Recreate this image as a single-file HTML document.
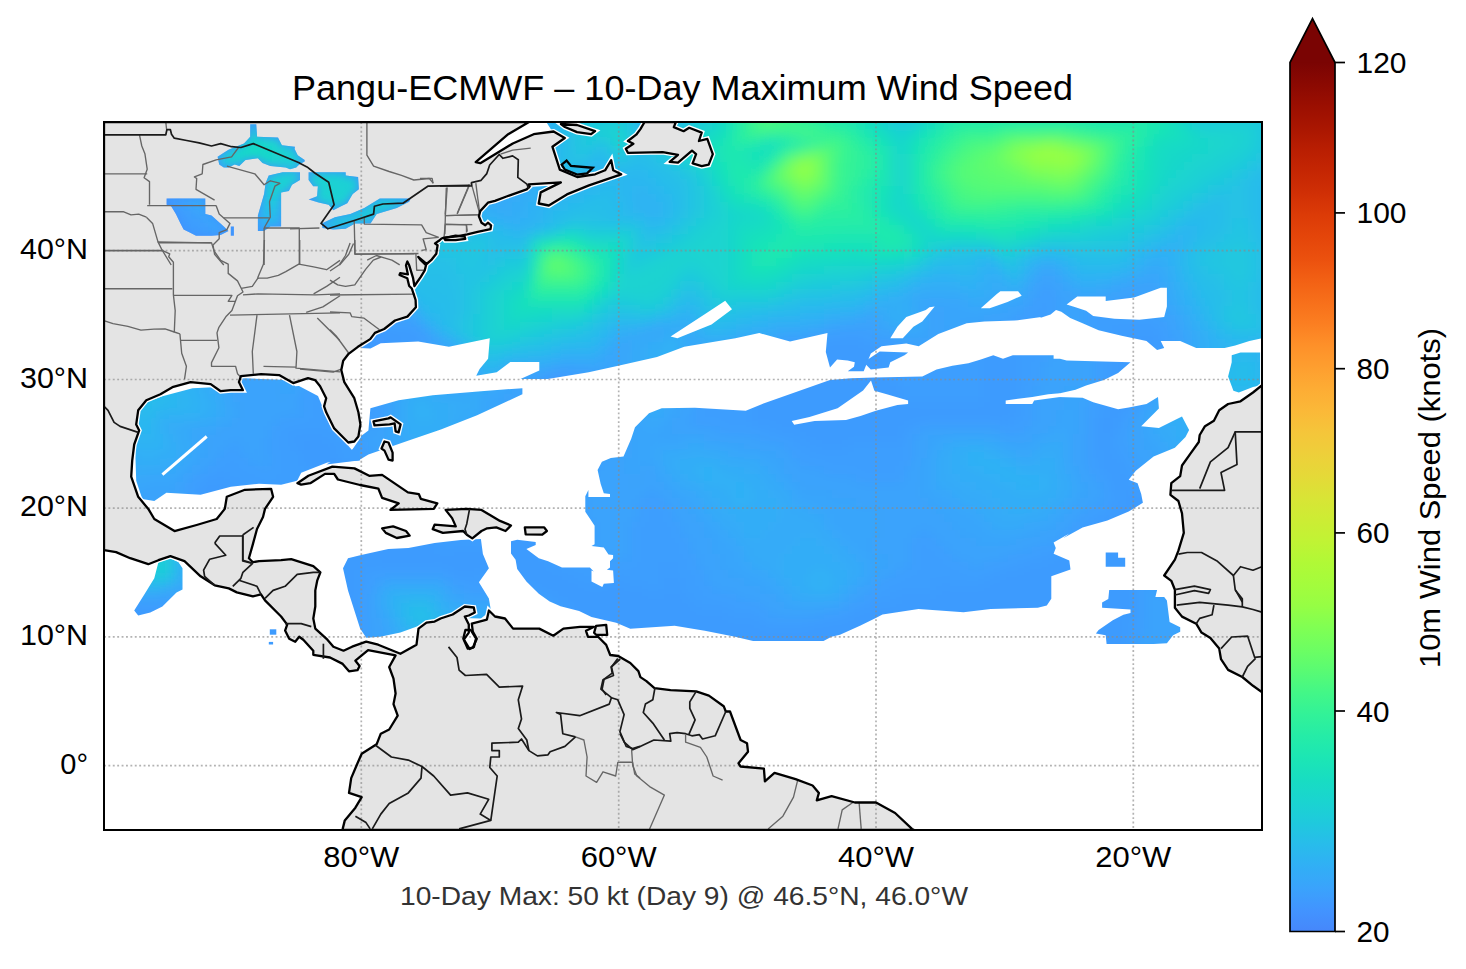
<!DOCTYPE html><html><head><meta charset="utf-8"><style>html,body{margin:0;padding:0;background:#fff;width:1466px;height:969px;overflow:hidden}svg{display:block}</style></head><body><svg width="1466" height="969" viewBox="0 0 1466 969">
<defs>
<clipPath id="ax"><rect x="104" y="122" width="1158" height="708"/></clipPath>
<linearGradient id="cbg" gradientUnits="userSpaceOnUse" x1="0" y1="931.5" x2="0" y2="62.5"><stop offset="0.0000" stop-color="#4687fb"/><stop offset="0.0250" stop-color="#4294ff"/><stop offset="0.0500" stop-color="#3aa3fc"/><stop offset="0.0750" stop-color="#31aff5"/><stop offset="0.1000" stop-color="#28bceb"/><stop offset="0.1250" stop-color="#1fc9dd"/><stop offset="0.1500" stop-color="#1ad4d0"/><stop offset="0.1750" stop-color="#18ddc2"/><stop offset="0.2000" stop-color="#1ce6b4"/><stop offset="0.2250" stop-color="#25eca7"/><stop offset="0.2500" stop-color="#32f298"/><stop offset="0.2750" stop-color="#43f787"/><stop offset="0.3000" stop-color="#59fb73"/><stop offset="0.3250" stop-color="#6dfe62"/><stop offset="0.3500" stop-color="#80ff53"/><stop offset="0.3750" stop-color="#96fe44"/><stop offset="0.4000" stop-color="#a4fc3c"/><stop offset="0.4250" stop-color="#b1f936"/><stop offset="0.4500" stop-color="#c1f334"/><stop offset="0.4750" stop-color="#cdec34"/><stop offset="0.5000" stop-color="#d9e436"/><stop offset="0.5250" stop-color="#e5d938"/><stop offset="0.5500" stop-color="#eecf3a"/><stop offset="0.5750" stop-color="#f5c53a"/><stop offset="0.6000" stop-color="#fbb838"/><stop offset="0.6250" stop-color="#fdac34"/><stop offset="0.6500" stop-color="#fe9e2f"/><stop offset="0.6750" stop-color="#fe9029"/><stop offset="0.7000" stop-color="#fb7e21"/><stop offset="0.7250" stop-color="#f76f1a"/><stop offset="0.7500" stop-color="#f26014"/><stop offset="0.7750" stop-color="#eb500e"/><stop offset="0.8000" stop-color="#e4450a"/><stop offset="0.8250" stop-color="#dc3b07"/><stop offset="0.8500" stop-color="#d02f05"/><stop offset="0.8750" stop-color="#c52603"/><stop offset="0.9000" stop-color="#b91e02"/><stop offset="0.9250" stop-color="#a91601"/><stop offset="0.9500" stop-color="#9b0f01"/><stop offset="0.9750" stop-color="#8b0902"/><stop offset="1.0000" stop-color="#7a0403"/></linearGradient>
<mask id="wm" maskUnits="userSpaceOnUse" x="104" y="122" width="1158" height="708">
<path fill="#fff" d="M360.0 348.0 L300.0 300.0 L300.0 122.0 L1262.0 122.0 L1262.0 338.3 L1249.4 341.0 L1235.2 345.4 L1224.6 348.1 L1196.2 348.1 L1180.2 341.0 L1160.7 341.0 L1164.2 348.1 L1157.1 349.9 L1146.5 341.0 L1121.6 335.7 L1098.6 330.3 L1082.6 323.2 L1070.2 317.9 L1061.3 311.7 L1056.0 309.9 L1050.6 314.4 L1040.0 317.9 L1041.2 317.0 L1014.6 320.6 L984.4 321.5 L966.7 323.2 L938.3 333.9 L918.7 346.3 L906.3 343.6 L881.5 346.3 L870.8 353.4 L863.7 371.2 L847.7 371.2 L854.0 366.7 L854.8 362.3 L847.7 360.5 L837.1 359.6 L830.0 367.6 L825.8 351.9 L827.5 333.1 L790.0 341.6 L759.3 333.1 L735.4 338.2 L684.2 346.7 L657.0 357.0 L619.4 365.5 L588.7 372.3 L547.8 379.1 L520.5 379.1 L539.3 370.6 L539.3 362.1 L510.3 362.1 L496.7 372.3 L476.2 375.7 L479.6 368.9 L488.1 358.7 L489.8 338.2 L448.9 346.7 L418.2 341.6 L380.7 343.3 L370.5 348.4 Z"/>
<path fill="#fff" d="M134.2 418.4 L140.2 404.3 L162.4 396.2 L192.6 388.2 L232.8 386.2 L240.9 378.1 L289.2 380.1 L295.2 386.2 L299.0 386.0 L318.0 396.0 L330.0 425.0 L352.0 450.0 L360.0 438.5 L360.0 460.6 L327.4 462.6 L301.2 472.7 L297.2 480.7 L281.1 484.8 L259.0 483.8 L230.8 486.8 L200.6 494.8 L166.4 492.8 L154.3 500.9 L142.3 498.9 L136.2 480.7 Z"/>
<path fill="#fff" d="M352.0 450.0 L358.0 444.0 L360.4 436.5 L368.4 430.4 L370.4 408.3 L398.6 400.2 L432.8 395.2 L481.1 391.2 L522.4 388.2 L522.4 394.2 L477.1 415.3 L440.9 429.4 L408.7 440.5 L368.4 454.6 L358.4 460.6 L326.2 464.6 Z"/>
<path fill="#fff" d="M348.0 558.2 L360.1 555.2 L388.3 549.1 L408.4 548.1 L434.6 543.1 L460.7 540.1 L480.9 539.1 L482.9 554.1 L488.9 568.2 L478.9 582.3 L488.9 598.4 L490.9 610.5 L480.9 618.5 L440.6 617.5 L422.5 624.6 L400.4 632.6 L380.2 636.7 L366.2 637.7 L360.1 628.6 L348.0 590.4 L343.0 568.2 Z"/>
<path fill="#fff" d="M511.0 541.2 L517.2 539.7 L535.7 542.0 L535.7 545.1 L526.4 548.9 L538.8 558.2 L548.1 561.3 L562.0 567.5 L589.9 567.5 L593.8 571.4 L591.5 570.6 L591.5 581.5 L602.3 586.9 L603.8 583.8 L613.9 583.0 L613.1 570.6 L606.9 569.8 L610.0 567.5 L610.0 561.3 L613.1 558.2 L613.1 555.1 L608.5 554.4 L603.8 547.4 L591.5 545.9 L594.6 544.3 L594.6 525.7 L591.5 521.1 L585.3 511.8 L585.3 496.3 L588.4 490.1 L588.4 497.1 L610.0 497.1 L610.0 494.0 L603.8 493.2 L600.7 483.9 L597.6 470.0 L601.9 461.7 L610.8 457.9 L623.5 456.6 L631.2 438.8 L635.0 427.3 L649.0 413.3 L661.7 408.2 L694.9 407.7 L745.8 410.8 L761.1 404.4 L830.0 380.0 L851.3 378.3 L874.4 377.4 L922.3 376.5 L936.5 369.4 L952.4 365.8 L968.4 363.2 L980.8 359.6 L993.3 355.2 L1003.0 358.7 L1012.8 355.2 L1053.6 355.2 L1053.6 358.7 L1060.0 358.7 L1066.6 360.5 L1130.5 362.3 L1118.1 372.9 L1103.9 380.0 L1086.1 385.4 L1075.5 389.8 L1060.0 393.3 L1057.7 396.9 L1082.6 397.8 L1093.2 402.2 L1105.7 405.8 L1118.1 409.3 L1128.7 407.5 L1146.5 404.0 L1158.0 396.9 L1158.9 408.4 L1141.2 426.2 L1158.9 427.9 L1174.9 420.0 L1182.0 416.4 L1189.1 430.0 L1185.5 437.1 L1174.9 447.7 L1153.6 456.6 L1135.8 470.8 L1128.7 479.7 L1137.6 483.2 L1141.2 493.9 L1142.9 502.8 L1128.7 511.6 L1107.4 520.5 L1082.6 527.6 L1063.1 538.3 L1069.3 533.5 L1053.6 542.5 L1055.8 548.1 L1053.6 553.8 L1069.3 560.5 L1070.5 569.5 L1051.3 576.3 L1051.3 598.8 L1046.8 605.5 L1037.8 607.8 L990.6 608.9 L963.5 612.3 L918.5 608.9 L882.5 614.5 L875.8 617.9 L860.0 625.8 L840.0 634.8 L831.5 636.8 L823.5 640.9 L753.1 640.9 L735.0 636.8 L704.8 630.8 L674.6 625.8 L630.3 628.8 L616.2 622.8 L591.5 617.1 L579.1 610.9 L560.5 606.2 L549.7 601.6 L538.8 593.8 L526.4 581.5 L517.2 569.1 L515.6 559.8 L511.0 553.6 Z"/>
<path fill="#fff" d="M158.4 562.2 L170.4 558.2 L178.5 562.2 L182.5 568.2 L182.5 589.4 L176.5 592.4 L162.4 606.5 L150.3 612.5 L138.2 615.5 L134.2 610.5 L144.3 594.4 L154.3 578.3 Z"/>
<path fill="#fff" d="M1231.7 355.2 L1240.5 352.5 L1260.1 352.5 L1260.1 385.4 L1253.0 387.1 L1238.8 392.5 L1233.4 390.7 L1228.1 376.5 L1231.7 362.3 Z"/>
<path fill="#fff" d="M1109.2 590.0 L1157.1 590.0 L1155.4 597.1 L1164.2 597.1 L1166.9 600.6 L1169.6 621.9 L1180.2 627.3 L1180.2 631.7 L1173.1 635.3 L1166.9 643.2 L1153.6 644.1 L1106.6 644.1 L1105.7 635.3 L1095.9 633.5 L1098.6 629.9 L1112.8 620.2 L1123.4 614.8 L1130.5 613.1 L1130.5 609.5 L1114.5 608.6 L1102.1 607.7 L1102.1 602.4 L1108.3 598.9 Z"/>
<path fill="#fff" d="M1105.7 552.5 L1118.1 552.5 L1118.1 557.8 L1125.2 557.8 L1125.2 566.7 L1105.7 566.7 Z"/>
<path fill="#fff" d="M863.7 362.3 L879.7 351.6 L908.1 352.5 L904.5 355.2 L890.3 362.3 L888.6 367.6 L870.8 369.4 Z"/>
<path fill="#fff" d="M114.9 262.3 L117.6 262.3 L117.6 264.5 L114.9 264.5 Z"/>
<path fill="#fff" d="M269.8 629.3 L276.3 629.3 L276.3 634.7 L269.8 634.7 Z"/>
<path fill="#fff" d="M268.8 641.9 L273.1 641.9 L273.1 644.5 L268.8 644.5 Z"/>
<path fill="#fff" d="M104.6 272.5 L108.9 272.5 L108.9 284.6 L104.6 284.6 Z"/>
<path fill="#000" d="M890.3 338.3 L897.4 326.8 L906.3 317.0 L925.8 309.9 L929.4 307.3 L934.7 306.4 L922.3 321.5 L913.4 326.8 L902.8 338.3 Z"/>
<path fill="#000" d="M980.8 308.2 L996.8 294.0 L1000.4 291.3 L1018.1 291.3 L1021.7 295.7 L1007.5 301.9 L989.7 308.2 Z"/>
<path fill="#000" d="M1066.6 304.6 L1077.3 296.6 L1105.7 296.6 L1105.7 301.1 L1134.1 297.5 L1160.7 287.7 L1166.9 287.7 L1166.9 306.4 L1164.2 317.0 L1139.4 319.7 L1114.5 318.8 L1093.2 316.1 L1086.1 310.8 L1075.5 307.3 Z"/>
<path fill="#000" d="M670.6 336.5 L704.7 314.3 L725.2 300.7 L732.0 309.2 L711.5 324.6 L677.4 338.2 Z"/>
<path fill="#000" d="M791.7 421.0 L809.5 417.1 L837.6 408.2 L863.1 390.4 L871.0 380.5 L874.4 390.7 L886.8 394.2 L908.1 400.4 L908.1 404.0 L897.4 404.9 L875.8 410.8 L860.5 415.9 L846.0 420.0 L814.6 421.0 L794.2 424.8 Z"/>
<path fill="#000" d="M1005.7 400.4 L1032.3 396.9 L1048.3 394.2 L1060.0 393.3 L1060.0 396.9 L1034.1 400.4 L1032.3 404.0 L1005.7 404.0 Z"/>
<path fill="none" stroke="#000" stroke-width="5" d="M104.0 122.0 L529.0 122.0 L508.2 134.2 L475.7 162.1 L480.3 163.2 L512.8 143.5 L533.7 134.2 L553.6 131.5 L564.8 138.0 L552.4 146.7 L559.8 169.6 L577.2 177.0 L595.1 174.3 L605.1 170.3 L611.2 160.2 L613.2 170.3 L621.2 174.3 L589.0 185.4 L566.9 194.4 L548.8 205.5 L538.7 203.5 L540.7 192.4 L560.9 182.4 L528.7 184.4 L529.7 186.4 L526.7 189.4 L506.5 196.5 L506.5 196.5 L495.0 200.8 L487.9 202.7 L480.2 211.1 L478.9 216.3 L481.5 222.7 L485.3 225.3 L487.9 222.7 L491.1 225.3 L490.5 229.2 L477.6 231.8 L467.3 234.4 L456.9 236.3 L444.0 237.6 L441.5 238.5 L438.9 240.8 L435.0 243.4 L437.6 245.3 L436.3 253.7 L431.1 260.2 L426.6 264.0 L418.2 256.9 L420.8 260.2 L426.0 265.3 L424.7 270.5 L420.8 276.9 L414.4 286.0 L413.1 278.2 L409.2 265.3 L407.3 261.5 L406.0 265.3 L407.9 274.4 L400.2 273.1 L399.5 275.0 L407.3 278.2 L409.2 286.0 L411.8 288.5 L414.4 296.3 L415.6 300.0 L415.9 307.3 L407.4 316.6 L395.0 320.5 L384.2 329.0 L374.9 332.9 L370.2 339.1 L357.9 346.8 L348.6 353.8 L343.2 360.7 L341.3 370.1 L344.3 382.1 L354.3 398.2 L358.4 412.3 L360.4 424.4 L358.4 436.5 L354.3 441.5 L348.3 442.5 L343.3 437.5 L334.2 428.4 L326.2 412.3 L324.1 406.3 L326.2 398.2 L320.1 386.2 L315.1 380.1 L308.0 378.1 L293.2 383.1 L279.1 375.1 L261.0 374.1 L240.9 376.1 L238.9 382.1 L242.9 390.2 L230.8 390.2 L220.7 391.2 L210.7 384.1 L190.6 382.1 L172.4 387.2 L160.4 394.2 L146.3 400.2 L138.2 410.3 L136.2 424.4 L139.2 430.4 L134.2 444.5 L132.2 460.6 L131.2 476.7 L138.2 496.8 L148.3 508.9 L154.3 519.0 L174.5 531.1 L196.6 525.0 L216.7 519.0 L224.8 508.9 L226.8 496.8 L244.9 489.8 L271.1 488.8 L273.1 496.8 L265.0 508.9 L263.0 517.0 L257.0 529.0 L252.9 544.1 L248.9 558.2 L252.9 562.2 L259.0 561.2 L281.1 560.2 L291.2 559.2 L313.3 566.2 L320.4 572.3 L317.3 580.3 L315.3 590.4 L315.3 606.5 L313.3 618.5 L315.3 628.6 L327.4 639.7 L333.4 646.7 L343.5 650.7 L352.1 646.7 L366.2 641.7 L378.2 644.7 L400.4 653.8 L416.5 644.7 L418.5 628.6 L426.5 622.6 L434.6 621.6 L440.6 618.5 L452.7 614.5 L464.8 606.5 L473.8 607.5 L474.8 612.5 L468.8 615.5 L464.8 616.5 L468.8 624.6 L468.8 632.6 L463.8 639.7 L467.8 648.7 L472.8 647.7 L476.8 638.7 L472.8 631.6 L471.8 623.6 L486.9 619.6 L488.9 610.5 L495.0 616.5 L505.0 618.5 L513.1 628.6 L539.2 628.6 L553.3 635.7 L563.4 628.6 L580.0 626.8 L594.1 626.8 L586.0 630.8 L588.0 636.8 L598.1 636.8 L606.2 644.9 L610.2 655.0 L618.2 656.0 L630.3 663.0 L638.4 671.1 L640.4 677.1 L646.4 681.1 L654.5 688.2 L670.6 690.2 L696.2 691.4 L708.9 695.6 L723.7 706.2 L725.8 711.5 L730.0 711.5 L740.6 740.0 L747.0 743.2 L748.0 751.7 L738.5 763.3 L740.6 766.5 L763.9 768.6 L764.9 781.3 L774.5 772.8 L795.6 779.2 L812.6 785.5 L818.9 792.9 L816.8 800.3 L831.6 796.1 L854.9 802.5 L876.0 802.5 L895.1 813.0 L912.0 828.9 L914.1 830.0 L914.1 830.0 L342.7 830.0 L342.7 828.9 L344.8 820.4 L355.4 807.7 L361.7 797.2 L349.0 792.9 L351.2 778.1 L357.5 763.3 L361.7 753.8 L376.6 744.3 L380.8 733.7 L389.2 729.5 L397.7 715.7 L393.5 704.1 L395.6 693.5 L393.5 678.7 L389.2 667.0 L395.6 655.4 L368.1 650.1 L355.4 660.7 L359.6 666.0 L357.5 670.2 L349.0 671.3 L342.7 663.9 L330.0 657.5 L313.3 654.8 L313.3 650.7 L303.3 639.7 L299.2 636.7 L295.2 641.7 L289.2 638.7 L285.1 630.6 L287.2 624.6 L281.1 616.5 L265.0 600.4 L261.0 594.4 L252.9 596.4 L236.8 592.4 L228.8 588.4 L214.7 585.3 L200.6 576.3 L184.5 561.2 L170.4 556.2 L158.4 560.2 L148.3 564.2 L130.2 558.2 L116.1 552.1 L104.0 550.1 L104.0 550.1 Z"/>
<path fill="none" stroke="#000" stroke-width="5" d="M1261.8 385.4 L1253.0 392.5 L1240.5 401.3 L1228.1 404.0 L1219.2 410.2 L1213.9 420.8 L1205.0 426.2 L1199.7 435.0 L1198.8 442.0 L1190.8 453.1 L1182.0 465.5 L1180.2 476.1 L1171.3 483.2 L1170.4 494.8 L1178.4 501.0 L1182.0 513.4 L1183.8 532.9 L1178.4 550.7 L1174.9 559.6 L1164.2 575.5 L1171.3 580.8 L1174.9 589.7 L1174.9 602.0 L1174.9 607.7 L1182.0 616.6 L1196.2 623.7 L1201.5 632.6 L1210.4 637.9 L1219.2 648.6 L1221.0 659.2 L1228.1 669.9 L1242.3 677.0 L1253.0 685.8 L1261.8 692.0 L1262.0 692.0 L1262.0 385.4 Z"/>
<path fill="none" stroke="#000" stroke-width="5" d="M644.6 122.0 L640.4 129.1 L636.2 134.7 L627.9 141.0 L633.4 143.8 L625.8 148.7 L627.9 152.8 L662.7 152.1 L678.0 154.9 L669.7 161.9 L678.0 162.6 L692.0 150.7 L696.1 154.2 L692.6 163.3 L701.7 166.1 L708.7 164.7 L712.8 154.2 L707.3 138.9 L698.9 141.0 L701.7 132.6 L689.2 127.8 L683.6 131.2 L673.8 127.1 L675.9 122.0 Z"/>
<path fill="none" stroke="#000" stroke-width="5" d="M444.0 238.2 L455.6 235.6 L464.7 236.7 L465.3 238.9 L455.6 240.2 L445.3 240.2 Z"/>
<path fill="none" stroke="#000" stroke-width="5" d="M560.9 124.0 L577.0 125.0 L595.1 131.1 L591.1 134.1 L577.0 132.1 L564.9 127.0 Z"/>
<path fill="none" stroke="#000" stroke-width="5" d="M297.4 483.2 L308.4 475.8 L332.4 466.6 L354.5 468.4 L369.2 475.8 L382.1 474.9 L407.9 492.4 L418.9 494.2 L420.8 498.8 L437.3 503.4 L433.7 508.9 L390.4 509.9 L398.7 503.4 L382.1 497.9 L378.4 488.7 L360.0 485.0 L337.9 479.5 L334.2 473.9 L325.0 473.9 L310.3 483.2 L301.1 484.6 Z"/>
<path fill="none" stroke="#000" stroke-width="5" d="M382.1 528.3 L393.1 526.4 L406.0 531.0 L409.7 535.6 L396.8 538.0 L385.8 532.9 Z"/>
<path fill="none" stroke="#000" stroke-width="5" d="M445.6 509.9 L466.8 508.9 L481.5 509.9 L490.8 515.4 L500.0 520.9 L511.0 525.5 L505.5 531.0 L496.3 527.4 L487.1 528.3 L481.5 531.0 L472.3 538.4 L466.8 534.7 L463.1 531.0 L442.9 532.9 L432.7 529.2 L434.6 524.6 L455.8 526.4 L452.1 518.1 Z"/>
<path fill="none" stroke="#000" stroke-width="5" d="M524.8 527.4 L544.2 527.4 L546.9 531.0 L542.3 534.7 L525.7 534.4 Z"/>
<path fill="none" stroke="#000" stroke-width="5" d="M373.5 421.4 L388.5 418.4 L390.6 417.4 L400.6 424.4 L398.6 432.4 L395.6 431.4 L394.6 423.4 L389.6 424.4 L374.5 425.4 Z"/>
<path fill="none" stroke="#000" stroke-width="5" d="M384.5 441.5 L388.5 442.5 L392.6 452.6 L392.6 460.6 L388.5 459.6 L384.5 450.6 L381.5 448.5 Z"/>
<path fill="none" stroke="#000" stroke-width="5" d="M596.1 625.8 L606.2 624.8 L607.2 634.8 L596.1 634.8 L594.1 632.8 Z"/>
<path fill="#000" d="M396 250 L418 250 L424 262 L414 288 L409 292 L396 292 Z"/>
<path fill="#000" d="M474 164 L508 134 L530 120 L545 120 L552 131 L533 134 L512 144 L481 164 Z"/>
<path fill="none" stroke="#000" stroke-width="3" d="M162.4 474.7 L206.7 436.5"/>
</mask>
<mask id="lm" maskUnits="userSpaceOnUse" x="104" y="122" width="1158" height="708">
<g filter="url(#lb)">
<path fill="#fff" d="M217.6 156.8 L228.5 149.8 L244.0 143.6 L250.2 136.7 L250.2 124.3 L256.3 124.3 L257.1 136.7 L278.0 137.4 L281.9 145.2 L295.0 146.7 L294.6 149.1 L297.7 155.2 L304.7 159.9 L304.7 161.4 L299.3 164.5 L296.2 167.6 L290.0 169.2 L285.8 167.6 L270.3 166.1 L262.5 163.0 L257.9 158.3 L245.5 159.9 L239.3 166.1 L234.7 164.5 L228.5 167.6 L223.8 167.6 L219.2 164.5 Z"/>
<path fill="#fff" d="M268.7 175.4 L282.7 172.3 L300.0 172.3 L300.0 180.0 L292.0 184.7 L288.9 190.9 L281.1 192.4 L281.1 226.5 L270.3 226.5 L264.1 231.1 L257.9 231.1 L257.9 215.6 L261.0 204.8 L264.1 193.9 L265.6 183.1 Z"/>
<path fill="#fff" d="M166.6 198.6 L205.3 198.6 L205.3 214.1 L211.5 215.6 L223.8 226.5 L228.5 231.1 L220.7 235.0 L211.5 235.7 L196.0 235.7 L189.8 232.6 L183.6 229.6 L180.5 223.4 L175.9 214.1 L171.2 206.3 L166.6 204.8 Z"/>
<path fill="#fff" d="M230.8 226.5 L233.9 226.5 L233.9 235.7 L230.8 235.7 Z"/>
<path fill="#fff" d="M308.6 172.3 L345.7 172.3 L345.7 175.4 L358.1 176.9 L358.9 189.3 L352.7 193.9 L347.3 203.2 L341.1 206.3 L333.3 210.2 L328.7 204.8 L318.6 202.5 L308.6 199.4 L317.1 196.3 L317.9 186.2 L313.2 186.2 L308.6 180.0 Z"/>
<path fill="#fff" d="M322.5 228.0 L333.3 229.6 L345.7 228.8 L355.0 223.4 L370.5 223.4 L376.7 214.1 L396.8 207.9 L409.2 201.7 L410.7 198.6 L379.8 198.6 L364.3 207.9 L350.4 214.1 L334.9 217.2 L321.7 223.4 Z"/>
</g>
</mask>
<filter id="bl" x="-50%" y="-50%" width="200%" height="200%"><feGaussianBlur stdDeviation="22"/></filter>
<clipPath id="lc"><path d="M217.6 156.8 L228.5 149.8 L244.0 143.6 L250.2 136.7 L250.2 124.3 L256.3 124.3 L257.1 136.7 L278.0 137.4 L281.9 145.2 L295.0 146.7 L294.6 149.1 L297.7 155.2 L304.7 159.9 L304.7 161.4 L299.3 164.5 L296.2 167.6 L290.0 169.2 L285.8 167.6 L270.3 166.1 L262.5 163.0 L257.9 158.3 L245.5 159.9 L239.3 166.1 L234.7 164.5 L228.5 167.6 L223.8 167.6 L219.2 164.5 Z"/><path d="M268.7 175.4 L282.7 172.3 L300.0 172.3 L300.0 180.0 L292.0 184.7 L288.9 190.9 L281.1 192.4 L281.1 226.5 L270.3 226.5 L264.1 231.1 L257.9 231.1 L257.9 215.6 L261.0 204.8 L264.1 193.9 L265.6 183.1 Z"/><path d="M166.6 198.6 L205.3 198.6 L205.3 214.1 L211.5 215.6 L223.8 226.5 L228.5 231.1 L220.7 235.0 L211.5 235.7 L196.0 235.7 L189.8 232.6 L183.6 229.6 L180.5 223.4 L175.9 214.1 L171.2 206.3 L166.6 204.8 Z"/><path d="M230.8 226.5 L233.9 226.5 L233.9 235.7 L230.8 235.7 Z"/><path d="M308.6 172.3 L345.7 172.3 L345.7 175.4 L358.1 176.9 L358.9 189.3 L352.7 193.9 L347.3 203.2 L341.1 206.3 L333.3 210.2 L328.7 204.8 L318.6 202.5 L308.6 199.4 L317.1 196.3 L317.9 186.2 L313.2 186.2 L308.6 180.0 Z"/><path d="M322.5 228.0 L333.3 229.6 L345.7 228.8 L355.0 223.4 L370.5 223.4 L376.7 214.1 L396.8 207.9 L409.2 201.7 L410.7 198.6 L379.8 198.6 L364.3 207.9 L350.4 214.1 L334.9 217.2 L321.7 223.4 Z"/></clipPath>
<filter id="lb" x="-50%" y="-50%" width="200%" height="200%"><feGaussianBlur stdDeviation="4"/></filter>
<filter id="bl2" x="-50%" y="-50%" width="200%" height="200%"><feGaussianBlur stdDeviation="7"/></filter>
</defs>
<rect width="1466" height="969" fill="#fff"/>
<text x="292" y="99.7" font-family="Liberation Sans" font-size="35.5" textLength="781" lengthAdjust="spacingAndGlyphs" fill="#000">Pangu-ECMWF – 10-Day Maximum Wind Speed</text>
<g clip-path="url(#ax)">
<g mask="url(#wm)">
<g id="fld" filter="url(#bl2)">
<path fill="#3e9bfe" d="M64 82h96v8h-96zM64 90h104v8h-104zM64 98h104v8h-104zM64 106h104v8h-104zM64 114h104v8h-104zM64 122h104v8h-104zM64 130h104v8h-104zM64 138h104v8h-104zM64 146h104v8h-104zM64 154h104v8h-104zM64 162h104v8h-104zM64 170h104v8h-104zM64 178h104v8h-104zM64 186h104v8h-104zM64 194h104v8h-104zM64 202h112v8h-112zM64 210h120v8h-120zM64 218h136v8h-136zM64 226h120v8h-120zM192 226h8v8h-8zM64 234h104v8h-104zM192 234h8v8h-8zM64 242h96v8h-96zM192 242h16v8h-16zM64 250h80v8h-80zM200 250h8v8h-8zM64 258h64v8h-64zM200 258h8v8h-8zM64 266h48v8h-48zM64 274h32v8h-32zM64 282h16v8h-16zM1016 322h8v8h-8zM368 330h56v8h-56zM1008 330h8v8h-8zM1112 330h48v8h-48zM360 338h16v8h-16zM392 338h24v8h-24zM808 338h56v8h-56zM992 338h24v8h-24zM1112 338h48v8h-48zM352 346h16v8h-16zM384 346h16v8h-16zM776 346h104v8h-104zM984 346h32v8h-32zM1112 346h48v8h-48zM344 354h24v8h-24zM376 354h8v8h-8zM768 354h120v8h-120zM984 354h32v8h-32zM1112 354h48v8h-48zM336 362h48v8h-48zM456 362h8v8h-8zM760 362h128v8h-128zM984 362h32v8h-32zM1112 362h40v8h-40zM328 370h56v8h-56zM560 370h16v8h-16zM760 370h136v8h-136zM984 370h32v8h-32zM1112 370h40v8h-40zM336 378h48v8h-48zM544 378h8v8h-8zM568 378h16v8h-16zM752 378h144v8h-144zM984 378h32v8h-32zM1104 378h40v8h-40zM336 386h48v8h-48zM544 386h8v8h-8zM568 386h16v8h-16zM752 386h152v8h-152zM984 386h32v8h-32zM1104 386h32v8h-32zM344 394h8v8h-8zM536 394h16v8h-16zM568 394h24v8h-24zM752 394h152v8h-152zM984 394h32v8h-32zM1104 394h32v8h-32zM536 402h16v8h-16zM560 402h32v8h-32zM752 402h264v8h-264zM1104 402h24v8h-24zM536 410h16v8h-16zM560 410h24v8h-24zM752 410h264v8h-264zM1104 410h24v8h-24zM536 418h8v8h-8zM560 418h24v8h-24zM752 418h256v8h-256zM1096 418h24v8h-24zM536 426h8v8h-8zM552 426h32v8h-32zM776 426h128v8h-128zM1096 426h24v8h-24zM288 434h40v8h-40zM536 434h8v8h-8zM552 434h24v8h-24zM800 434h104v8h-104zM1096 434h16v8h-16zM296 442h40v8h-40zM528 442h16v8h-16zM552 442h24v8h-24zM816 442h32v8h-32zM1096 442h8v8h-8zM304 450h32v8h-32zM528 450h48v8h-48zM1096 450h16v8h-16zM304 458h40v8h-40zM528 458h40v8h-40zM1104 458h16v8h-16zM312 466h32v8h-32zM528 466h40v8h-40zM1104 466h16v8h-16zM208 474h16v8h-16zM312 474h32v8h-32zM528 474h40v8h-40zM1112 474h16v8h-16zM1288 474h16v8h-16zM200 482h40v8h-40zM312 482h40v8h-40zM528 482h32v8h-32zM1112 482h16v8h-16zM1208 482h96v8h-96zM200 490h56v8h-56zM320 490h32v8h-32zM528 490h32v8h-32zM1120 490h184v8h-184zM200 498h80v8h-80zM320 498h32v8h-32zM520 498h32v8h-32zM1120 498h184v8h-184zM216 506h80v8h-80zM328 506h32v8h-32zM520 506h32v8h-32zM1112 506h192v8h-192zM232 514h80v8h-80zM328 514h32v8h-32zM520 514h32v8h-32zM1104 514h200v8h-200zM256 522h64v8h-64zM328 522h32v8h-32zM520 522h24v8h-24zM1088 522h216v8h-216zM272 530h128v8h-128zM512 530h32v8h-32zM1080 530h56v8h-56zM1160 530h144v8h-144zM288 538h152v8h-152zM496 538h48v8h-48zM1072 538h64v8h-64zM1200 538h104v8h-104zM312 546h128v8h-128zM448 546h96v8h-96zM1064 546h72v8h-72zM1240 546h64v8h-64zM64 554h8v8h-8zM328 554h216v8h-216zM1048 554h88v8h-88zM1280 554h24v8h-24zM64 562h16v8h-16zM336 562h32v8h-32zM376 562h176v8h-176zM664 562h8v8h-8zM1024 562h112v8h-112zM1288 562h16v8h-16zM64 570h32v8h-32zM336 570h24v8h-24zM448 570h32v8h-32zM512 570h56v8h-56zM664 570h8v8h-8zM1000 570h136v8h-136zM1288 570h16v8h-16zM64 578h40v8h-40zM336 578h24v8h-24zM520 578h64v8h-64zM608 578h16v8h-16zM664 578h16v8h-16zM936 578h8v8h-8zM984 578h152v8h-152zM1288 578h16v8h-16zM64 586h56v8h-56zM336 586h24v8h-24zM536 586h112v8h-112zM664 586h16v8h-16zM936 586h200v8h-200zM1288 586h16v8h-16zM64 594h64v8h-64zM336 594h24v8h-24zM552 594h136v8h-136zM896 594h240v8h-240zM1288 594h16v8h-16zM64 602h96v8h-96zM328 602h32v8h-32zM568 602h128v8h-128zM864 602h272v8h-272zM1288 602h16v8h-16zM64 610h168v8h-168zM328 610h32v8h-32zM568 610h160v8h-160zM848 610h288v8h-288zM1288 610h16v8h-16zM64 618h248v8h-248zM328 618h32v8h-32zM568 618h192v8h-192zM808 618h320v8h-320zM1288 618h16v8h-16zM64 626h296v8h-296zM568 626h560v8h-560zM1288 626h16v8h-16zM64 634h296v8h-296zM560 634h568v8h-568zM1288 634h16v8h-16zM64 642h288v8h-288zM560 642h568v8h-568zM1288 642h16v8h-16zM64 650h288v8h-288zM560 650h560v8h-560zM1288 650h16v8h-16zM64 658h288v8h-288zM560 658h560v8h-560zM1288 658h16v8h-16zM64 666h288v8h-288zM560 666h560v8h-560zM1288 666h16v8h-16zM64 674h288v8h-288zM552 674h568v8h-568zM1288 674h16v8h-16zM64 682h288v8h-288zM552 682h560v8h-560zM1288 682h16v8h-16zM64 690h288v8h-288zM552 690h560v8h-560zM1288 690h16v8h-16zM64 698h288v8h-288zM552 698h560v8h-560zM1288 698h16v8h-16zM64 706h288v8h-288zM552 706h560v8h-560zM1288 706h16v8h-16zM64 714h288v8h-288zM544 714h568v8h-568zM1288 714h16v8h-16zM64 722h288v8h-288zM544 722h560v8h-560zM1288 722h16v8h-16zM64 730h288v8h-288zM544 730h560v8h-560zM1288 730h16v8h-16zM64 738h288v8h-288zM544 738h560v8h-560zM1280 738h24v8h-24zM64 746h288v8h-288zM544 746h560v8h-560zM1272 746h32v8h-32zM64 754h288v8h-288zM536 754h560v8h-560zM1264 754h40v8h-40zM64 762h288v8h-288zM536 762h560v8h-560zM1248 762h56v8h-56zM64 770h288v8h-288zM536 770h560v8h-560zM1240 770h64v8h-64zM64 778h288v8h-288zM536 778h560v8h-560zM1232 778h72v8h-72zM64 786h288v8h-288zM536 786h552v8h-552zM1224 786h80v8h-80zM64 794h288v8h-288zM528 794h560v8h-560zM1208 794h96v8h-96zM64 802h288v8h-288zM528 802h560v8h-560zM1200 802h104v8h-104zM64 810h288v8h-288zM528 810h560v8h-560zM1192 810h112v8h-112zM64 818h288v8h-288zM528 818h560v8h-560zM1184 818h120v8h-120zM64 826h288v8h-288zM528 826h776v8h-776zM64 834h288v8h-288zM520 834h784v8h-784zM64 842h288v8h-288zM520 842h784v8h-784zM64 850h288v8h-288zM520 850h784v8h-784zM64 858h280v8h-280zM520 858h784v8h-784zM64 866h392v8h-392zM520 866h784v8h-784z"/>
<path fill="#3d9efe" d="M160 82h8v8h-8zM456 82h72v8h-72zM464 90h64v8h-64zM464 98h56v8h-56zM472 106h48v8h-48zM472 114h40v8h-40zM168 146h8v8h-8zM168 154h8v8h-8zM168 162h8v8h-8zM168 170h8v8h-8zM168 178h8v8h-8zM168 186h8v8h-8zM168 194h8v8h-8zM176 202h8v8h-8zM184 210h8v8h-8zM200 218h8v8h-8zM184 226h8v8h-8zM200 226h8v8h-8zM168 234h24v8h-24zM200 234h16v8h-16zM160 242h32v8h-32zM208 242h8v8h-8zM144 250h24v8h-24zM184 250h16v8h-16zM208 250h16v8h-16zM128 258h24v8h-24zM192 258h8v8h-8zM208 258h16v8h-16zM112 266h32v8h-32zM192 266h32v8h-32zM96 274h32v8h-32zM200 274h32v8h-32zM80 282h32v8h-32zM200 282h32v8h-32zM1040 282h8v8h-8zM64 290h32v8h-32zM200 290h32v8h-32zM1040 290h16v8h-16zM64 298h16v8h-16zM208 298h32v8h-32zM1032 298h24v8h-24zM1120 298h24v8h-24zM208 306h32v8h-32zM1024 306h32v8h-32zM1088 306h64v8h-64zM216 314h24v8h-24zM376 314h8v8h-8zM1016 314h40v8h-40zM1088 314h72v8h-72zM216 322h32v8h-32zM368 322h56v8h-56zM1000 322h16v8h-16zM1024 322h32v8h-32zM1088 322h80v8h-80zM224 330h24v8h-24zM360 330h8v8h-8zM424 330h8v8h-8zM824 330h48v8h-48zM976 330h32v8h-32zM1016 330h40v8h-40zM1096 330h16v8h-16zM1160 330h8v8h-8zM224 338h24v8h-24zM352 338h8v8h-8zM416 338h16v8h-16zM784 338h24v8h-24zM864 338h40v8h-40zM960 338h32v8h-32zM1016 338h32v8h-32zM1096 338h16v8h-16zM1160 338h16v8h-16zM224 346h32v8h-32zM344 346h8v8h-8zM400 346h24v8h-24zM736 346h40v8h-40zM880 346h40v8h-40zM952 346h32v8h-32zM1016 346h32v8h-32zM1096 346h16v8h-16zM1160 346h16v8h-16zM232 354h24v8h-24zM336 354h8v8h-8zM384 354h24v8h-24zM448 354h8v8h-8zM720 354h48v8h-48zM888 354h32v8h-32zM952 354h32v8h-32zM1016 354h32v8h-32zM1096 354h16v8h-16zM1160 354h8v8h-8zM232 362h16v8h-16zM328 362h8v8h-8zM384 362h8v8h-8zM448 362h8v8h-8zM712 362h48v8h-48zM888 362h96v8h-96zM1016 362h24v8h-24zM1096 362h16v8h-16zM1152 362h8v8h-8zM320 370h8v8h-8zM384 370h8v8h-8zM448 370h16v8h-16zM512 370h16v8h-16zM544 370h16v8h-16zM576 370h16v8h-16zM712 370h48v8h-48zM896 370h88v8h-88zM1016 370h24v8h-24zM1096 370h16v8h-16zM1152 370h8v8h-8zM312 378h24v8h-24zM384 378h8v8h-8zM528 378h16v8h-16zM584 378h16v8h-16zM704 378h48v8h-48zM896 378h88v8h-88zM1016 378h24v8h-24zM1096 378h8v8h-8zM1144 378h8v8h-8zM304 386h32v8h-32zM384 386h8v8h-8zM528 386h16v8h-16zM584 386h16v8h-16zM696 386h56v8h-56zM904 386h80v8h-80zM1016 386h16v8h-16zM1096 386h8v8h-8zM1136 386h16v8h-16zM296 394h48v8h-48zM352 394h32v8h-32zM528 394h8v8h-8zM592 394h16v8h-16zM696 394h56v8h-56zM904 394h80v8h-80zM1016 394h16v8h-16zM1096 394h8v8h-8zM1136 394h8v8h-8zM304 402h80v8h-80zM528 402h8v8h-8zM592 402h16v8h-16zM696 402h56v8h-56zM1016 402h16v8h-16zM1088 402h16v8h-16zM1128 402h16v8h-16zM304 410h80v8h-80zM528 410h8v8h-8zM584 410h24v8h-24zM696 410h56v8h-56zM1016 410h16v8h-16zM1088 410h16v8h-16zM1128 410h8v8h-8zM280 418h104v8h-104zM528 418h8v8h-8zM584 418h32v8h-32zM688 418h64v8h-64zM1008 418h24v8h-24zM1088 418h8v8h-8zM1120 418h8v8h-8zM272 426h80v8h-80zM520 426h16v8h-16zM584 426h24v8h-24zM720 426h56v8h-56zM904 426h16v8h-16zM1000 426h24v8h-24zM1088 426h8v8h-8zM1120 426h8v8h-8zM272 434h16v8h-16zM328 434h32v8h-32zM520 434h16v8h-16zM576 434h32v8h-32zM760 434h40v8h-40zM904 434h8v8h-8zM1088 434h8v8h-8zM1112 434h8v8h-8zM232 442h8v8h-8zM264 442h32v8h-32zM336 442h32v8h-32zM520 442h8v8h-8zM576 442h32v8h-32zM784 442h32v8h-32zM848 442h64v8h-64zM1088 442h8v8h-8zM1104 442h24v8h-24zM224 450h16v8h-16zM272 450h32v8h-32zM336 450h32v8h-32zM512 450h16v8h-16zM576 450h24v8h-24zM792 450h120v8h-120zM1088 450h8v8h-8zM1112 450h16v8h-16zM216 458h32v8h-32zM272 458h32v8h-32zM344 458h32v8h-32zM512 458h16v8h-16zM568 458h32v8h-32zM800 458h112v8h-112zM1088 458h16v8h-16zM1120 458h16v8h-16zM208 466h56v8h-56zM272 466h40v8h-40zM344 466h32v8h-32zM512 466h16v8h-16zM568 466h24v8h-24zM824 466h80v8h-80zM1088 466h16v8h-16zM1120 466h24v8h-24zM1256 466h48v8h-48zM64 474h16v8h-16zM192 474h16v8h-16zM224 474h88v8h-88zM344 474h56v8h-56zM504 474h24v8h-24zM568 474h24v8h-24zM856 474h48v8h-48zM1096 474h16v8h-16zM1128 474h16v8h-16zM1176 474h112v8h-112zM64 482h16v8h-16zM184 482h16v8h-16zM240 482h72v8h-72zM352 482h56v8h-56zM504 482h24v8h-24zM560 482h32v8h-32zM1104 482h8v8h-8zM1128 482h80v8h-80zM64 490h16v8h-16zM184 490h16v8h-16zM256 490h64v8h-64zM352 490h64v8h-64zM504 490h24v8h-24zM560 490h24v8h-24zM648 490h8v8h-8zM1104 490h16v8h-16zM64 498h16v8h-16zM192 498h8v8h-8zM280 498h40v8h-40zM352 498h72v8h-72zM488 498h32v8h-32zM552 498h32v8h-32zM640 498h24v8h-24zM1104 498h16v8h-16zM64 506h16v8h-16zM192 506h24v8h-24zM296 506h32v8h-32zM360 506h64v8h-64zM456 506h64v8h-64zM552 506h32v8h-32zM640 506h32v8h-32zM1088 506h24v8h-24zM64 514h56v8h-56zM192 514h40v8h-40zM312 514h16v8h-16zM360 514h72v8h-72zM448 514h72v8h-72zM552 514h32v8h-32zM640 514h32v8h-32zM1080 514h24v8h-24zM64 522h32v8h-32zM200 522h56v8h-56zM320 522h8v8h-8zM360 522h80v8h-80zM448 522h72v8h-72zM544 522h48v8h-48zM632 522h48v8h-48zM1072 522h16v8h-16zM64 530h8v8h-8zM216 530h56v8h-56zM400 530h112v8h-112zM544 530h48v8h-48zM632 530h48v8h-48zM920 530h8v8h-8zM1064 530h16v8h-16zM1136 530h24v8h-24zM232 538h56v8h-56zM440 538h56v8h-56zM544 538h48v8h-48zM632 538h56v8h-56zM912 538h24v8h-24zM1056 538h16v8h-16zM1136 538h64v8h-64zM256 546h56v8h-56zM440 546h8v8h-8zM544 546h48v8h-48zM632 546h56v8h-56zM912 546h32v8h-32zM1032 546h32v8h-32zM1136 546h104v8h-104zM72 554h8v8h-8zM272 554h56v8h-56zM544 554h64v8h-64zM632 554h64v8h-64zM912 554h40v8h-40zM1008 554h40v8h-40zM1136 554h144v8h-144zM80 562h8v8h-8zM288 562h48v8h-48zM368 562h8v8h-8zM552 562h112v8h-112zM672 562h24v8h-24zM912 562h56v8h-56zM984 562h40v8h-40zM1136 562h152v8h-152zM96 570h8v8h-8zM288 570h48v8h-48zM360 570h88v8h-88zM480 570h32v8h-32zM568 570h96v8h-96zM672 570h32v8h-32zM896 570h104v8h-104zM1136 570h152v8h-152zM104 578h8v8h-8zM288 578h48v8h-48zM360 578h16v8h-16zM448 578h72v8h-72zM584 578h24v8h-24zM624 578h40v8h-40zM680 578h24v8h-24zM880 578h56v8h-56zM944 578h40v8h-40zM1136 578h152v8h-152zM120 586h8v8h-8zM288 586h48v8h-48zM360 586h16v8h-16zM464 586h72v8h-72zM648 586h16v8h-16zM680 586h32v8h-32zM872 586h64v8h-64zM1136 586h8v8h-8zM1160 586h128v8h-128zM128 594h8v8h-8zM152 594h8v8h-8zM288 594h48v8h-48zM360 594h8v8h-8zM496 594h56v8h-56zM688 594h48v8h-48zM864 594h32v8h-32zM1136 594h8v8h-8zM1192 594h96v8h-96zM160 602h80v8h-80zM288 602h40v8h-40zM360 602h8v8h-8zM552 602h16v8h-16zM696 602h64v8h-64zM848 602h16v8h-16zM1136 602h8v8h-8zM1192 602h96v8h-96zM232 610h96v8h-96zM360 610h8v8h-8zM552 610h16v8h-16zM728 610h40v8h-40zM824 610h24v8h-24zM1136 610h8v8h-8zM1192 610h96v8h-96zM312 618h16v8h-16zM360 618h8v8h-8zM552 618h16v8h-16zM760 618h48v8h-48zM1128 618h16v8h-16zM1192 618h96v8h-96zM360 626h8v8h-8zM552 626h16v8h-16zM1128 626h16v8h-16zM1192 626h96v8h-96zM360 634h8v8h-8zM544 634h16v8h-16zM1128 634h8v8h-8zM1192 634h96v8h-96zM352 642h16v8h-16zM544 642h16v8h-16zM1128 642h8v8h-8zM1192 642h96v8h-96zM352 650h16v8h-16zM544 650h16v8h-16zM1120 650h16v8h-16zM1192 650h96v8h-96zM352 658h16v8h-16zM544 658h16v8h-16zM1120 658h16v8h-16zM1184 658h104v8h-104zM352 666h16v8h-16zM544 666h16v8h-16zM1120 666h8v8h-8zM1176 666h112v8h-112zM352 674h16v8h-16zM536 674h16v8h-16zM1120 674h8v8h-8zM1168 674h120v8h-120zM352 682h16v8h-16zM536 682h16v8h-16zM1112 682h16v8h-16zM1160 682h128v8h-128zM352 690h16v8h-16zM536 690h16v8h-16zM1112 690h176v8h-176zM352 698h16v8h-16zM536 698h16v8h-16zM1112 698h176v8h-176zM352 706h16v8h-16zM536 706h16v8h-16zM1112 706h176v8h-176zM352 714h16v8h-16zM528 714h16v8h-16zM1112 714h176v8h-176zM352 722h16v8h-16zM528 722h16v8h-16zM1104 722h184v8h-184zM352 730h16v8h-16zM528 730h16v8h-16zM1104 730h184v8h-184zM352 738h16v8h-16zM528 738h16v8h-16zM1104 738h176v8h-176zM352 746h16v8h-16zM528 746h16v8h-16zM1104 746h168v8h-168zM352 754h16v8h-16zM520 754h16v8h-16zM1096 754h168v8h-168zM352 762h8v8h-8zM520 762h16v8h-16zM1096 762h152v8h-152zM352 770h8v8h-8zM520 770h16v8h-16zM1096 770h144v8h-144zM352 778h8v8h-8zM520 778h16v8h-16zM1096 778h136v8h-136zM352 786h8v8h-8zM520 786h16v8h-16zM1088 786h136v8h-136zM352 794h8v8h-8zM512 794h16v8h-16zM1088 794h120v8h-120zM352 802h88v8h-88zM512 802h16v8h-16zM1088 802h112v8h-112zM352 810h88v8h-88zM512 810h16v8h-16zM1088 810h104v8h-104zM352 818h96v8h-96zM512 818h16v8h-16zM1088 818h96v8h-96zM352 826h96v8h-96zM512 826h16v8h-16zM352 834h96v8h-96zM504 834h16v8h-16zM352 842h104v8h-104zM504 842h16v8h-16zM352 850h168v8h-168zM344 858h176v8h-176zM456 866h64v8h-64z"/>
<path fill="#38a5fb" d="M168 82h8v8h-8zM384 82h64v8h-64zM528 82h8v8h-8zM640 82h48v8h-48zM1296 82h8v8h-8zM448 90h8v8h-8zM528 90h8v8h-8zM1296 90h8v8h-8zM448 98h8v8h-8zM528 98h8v8h-8zM456 106h8v8h-8zM528 106h8v8h-8zM456 114h8v8h-8zM528 114h8v8h-8zM464 122h8v8h-8zM528 122h8v8h-8zM464 130h8v8h-8zM520 130h16v8h-16zM472 138h8v8h-8zM512 138h16v8h-16zM176 146h8v8h-8zM472 146h8v8h-8zM512 146h16v8h-16zM176 154h8v8h-8zM480 154h40v8h-40zM176 162h8v8h-8zM480 162h40v8h-40zM176 170h8v8h-8zM488 170h24v8h-24zM176 178h8v8h-8zM488 178h24v8h-24zM176 186h8v8h-8zM496 186h8v8h-8zM184 194h8v8h-8zM192 202h8v8h-8zM200 210h8v8h-8zM224 218h8v8h-8zM224 226h16v8h-16zM224 234h16v8h-16zM232 242h8v8h-8zM232 250h16v8h-16zM232 258h16v8h-16zM168 266h16v8h-16zM240 266h8v8h-8zM1048 266h8v8h-8zM1152 266h8v8h-8zM152 274h32v8h-32zM240 274h16v8h-16zM1032 274h8v8h-8zM1056 274h8v8h-8zM1136 274h24v8h-24zM144 282h24v8h-24zM176 282h16v8h-16zM240 282h16v8h-16zM1024 282h8v8h-8zM1064 282h8v8h-8zM1112 282h8v8h-8zM1160 282h8v8h-8zM128 290h24v8h-24zM184 290h8v8h-8zM248 290h8v8h-8zM1080 290h16v8h-16zM1160 290h8v8h-8zM112 298h32v8h-32zM184 298h8v8h-8zM248 298h16v8h-16zM368 298h40v8h-40zM912 298h56v8h-56zM992 298h32v8h-32zM96 306h32v8h-32zM184 306h16v8h-16zM248 306h16v8h-16zM360 306h8v8h-8zM408 306h8v8h-8zM920 306h8v8h-8zM944 306h64v8h-64zM1168 306h8v8h-8zM80 314h32v8h-32zM192 314h8v8h-8zM256 314h8v8h-8zM352 314h8v8h-8zM856 314h8v8h-8zM920 314h8v8h-8zM944 314h40v8h-40zM1176 314h8v8h-8zM64 322h32v8h-32zM192 322h16v8h-16zM256 322h16v8h-16zM344 322h8v8h-8zM664 322h8v8h-8zM824 322h16v8h-16zM880 322h8v8h-8zM920 322h8v8h-8zM944 322h16v8h-16zM1176 322h8v8h-8zM64 330h16v8h-16zM200 330h8v8h-8zM264 330h8v8h-8zM336 330h8v8h-8zM632 330h32v8h-32zM776 330h32v8h-32zM896 330h32v8h-32zM1184 330h8v8h-8zM64 338h16v8h-16zM200 338h8v8h-8zM264 338h8v8h-8zM328 338h8v8h-8zM440 338h8v8h-8zM616 338h16v8h-16zM688 338h8v8h-8zM736 338h24v8h-24zM1184 338h8v8h-8zM64 346h16v8h-16zM200 346h16v8h-16zM264 346h16v8h-16zM320 346h8v8h-8zM608 346h24v8h-24zM688 346h24v8h-24zM1184 346h8v8h-8zM64 354h16v8h-16zM208 354h8v8h-8zM272 354h8v8h-8zM312 354h8v8h-8zM432 354h8v8h-8zM600 354h24v8h-24zM688 354h8v8h-8zM1176 354h8v8h-8zM1296 354h8v8h-8zM64 362h16v8h-16zM208 362h16v8h-16zM272 362h8v8h-8zM304 362h8v8h-8zM416 362h24v8h-24zM552 362h8v8h-8zM568 362h32v8h-32zM608 362h24v8h-24zM688 362h8v8h-8zM1072 362h8v8h-8zM1176 362h8v8h-8zM64 370h16v8h-16zM216 370h8v8h-8zM272 370h16v8h-16zM296 370h16v8h-16zM400 370h24v8h-24zM432 370h8v8h-8zM472 370h8v8h-8zM504 370h8v8h-8zM528 370h8v8h-8zM608 370h24v8h-24zM688 370h8v8h-8zM1072 370h8v8h-8zM1168 370h8v8h-8zM64 378h16v8h-16zM216 378h16v8h-16zM280 378h24v8h-24zM400 378h8v8h-8zM432 378h8v8h-8zM504 378h8v8h-8zM616 378h16v8h-16zM688 378h8v8h-8zM1072 378h8v8h-8zM1160 378h16v8h-16zM64 386h16v8h-16zM224 386h8v8h-8zM280 386h16v8h-16zM400 386h8v8h-8zM440 386h32v8h-32zM488 386h24v8h-24zM616 386h24v8h-24zM680 386h16v8h-16zM1064 386h16v8h-16zM1160 386h8v8h-8zM64 394h16v8h-16zM224 394h8v8h-8zM280 394h8v8h-8zM392 394h8v8h-8zM480 394h24v8h-24zM616 394h24v8h-24zM672 394h16v8h-16zM1064 394h16v8h-16zM1152 394h16v8h-16zM64 402h16v8h-16zM224 402h16v8h-16zM392 402h8v8h-8zM480 402h24v8h-24zM624 402h16v8h-16zM664 402h24v8h-24zM1064 402h16v8h-16zM1152 402h8v8h-8zM64 410h16v8h-16zM232 410h8v8h-8zM392 410h8v8h-8zM480 410h24v8h-24zM624 410h24v8h-24zM664 410h16v8h-16zM1056 410h24v8h-24zM1144 410h8v8h-8zM72 418h16v8h-16zM216 418h16v8h-16zM392 418h8v8h-8zM464 418h40v8h-40zM632 418h16v8h-16zM656 418h16v8h-16zM1056 418h24v8h-24zM1144 418h8v8h-8zM72 426h16v8h-16zM184 426h32v8h-32zM384 426h8v8h-8zM464 426h32v8h-32zM632 426h32v8h-32zM1048 426h32v8h-32zM1136 426h16v8h-16zM72 434h16v8h-16zM192 434h16v8h-16zM384 434h16v8h-16zM456 434h40v8h-40zM632 434h32v8h-32zM672 434h32v8h-32zM928 434h72v8h-72zM1032 434h24v8h-24zM1064 434h8v8h-8zM1144 434h16v8h-16zM72 442h16v8h-16zM192 442h16v8h-16zM392 442h16v8h-16zM448 442h48v8h-48zM632 442h56v8h-56zM704 442h40v8h-40zM928 442h16v8h-16zM1000 442h40v8h-40zM1064 442h8v8h-8zM1144 442h24v8h-24zM1256 442h48v8h-48zM72 450h16v8h-16zM192 450h16v8h-16zM400 450h16v8h-16zM448 450h40v8h-40zM632 450h24v8h-24zM728 450h48v8h-48zM928 450h8v8h-8zM1016 450h16v8h-16zM1064 450h8v8h-8zM1152 450h16v8h-16zM1176 450h120v8h-120zM72 458h32v8h-32zM184 458h16v8h-16zM408 458h16v8h-16zM440 458h32v8h-32zM624 458h40v8h-40zM760 458h24v8h-24zM920 458h16v8h-16zM1064 458h8v8h-8zM1152 458h64v8h-64zM96 466h32v8h-32zM176 466h16v8h-16zM408 466h16v8h-16zM440 466h16v8h-16zM624 466h16v8h-16zM656 466h8v8h-8zM768 466h16v8h-16zM920 466h16v8h-16zM1064 466h16v8h-16zM112 474h24v8h-24zM144 474h40v8h-40zM416 474h40v8h-40zM632 474h8v8h-8zM656 474h16v8h-16zM776 474h16v8h-16zM920 474h16v8h-16zM1072 474h8v8h-8zM112 482h64v8h-64zM424 482h24v8h-24zM632 482h8v8h-8zM664 482h16v8h-16zM784 482h16v8h-16zM920 482h16v8h-16zM1072 482h16v8h-16zM112 490h32v8h-32zM432 490h8v8h-8zM672 490h24v8h-24zM792 490h40v8h-40zM912 490h40v8h-40zM1072 490h16v8h-16zM680 498h24v8h-24zM792 498h64v8h-64zM928 498h32v8h-32zM1064 498h16v8h-16zM152 506h8v8h-8zM168 506h24v8h-24zM688 506h16v8h-16zM808 506h72v8h-72zM936 506h40v8h-40zM1056 506h16v8h-16zM128 514h8v8h-8zM696 514h16v8h-16zM824 514h56v8h-56zM944 514h40v8h-40zM1048 514h16v8h-16zM104 522h16v8h-16zM704 522h16v8h-16zM824 522h56v8h-56zM952 522h40v8h-40zM1024 522h32v8h-32zM88 530h8v8h-8zM184 530h8v8h-8zM704 530h24v8h-24zM832 530h48v8h-48zM960 530h80v8h-80zM64 538h8v8h-8zM184 538h8v8h-8zM712 538h24v8h-24zM840 538h32v8h-32zM976 538h40v8h-40zM64 546h8v8h-8zM184 546h16v8h-16zM712 546h32v8h-32zM848 546h24v8h-24zM984 546h8v8h-8zM80 554h8v8h-8zM184 554h32v8h-32zM720 554h24v8h-24zM856 554h32v8h-32zM184 562h48v8h-48zM720 562h32v8h-32zM864 562h24v8h-24zM192 570h56v8h-56zM728 570h40v8h-40zM864 570h16v8h-16zM120 578h8v8h-8zM200 578h48v8h-48zM384 578h64v8h-64zM744 578h32v8h-32zM856 578h16v8h-16zM128 586h8v8h-8zM160 586h88v8h-88zM376 586h8v8h-8zM760 586h24v8h-24zM848 586h8v8h-8zM144 594h8v8h-8zM448 594h16v8h-16zM776 594h16v8h-16zM840 594h8v8h-8zM376 602h8v8h-8zM464 602h48v8h-48zM784 602h56v8h-56zM376 610h8v8h-8zM520 610h16v8h-16zM384 618h8v8h-8zM520 618h16v8h-16zM384 626h8v8h-8zM512 626h16v8h-16zM384 634h8v8h-8zM512 634h16v8h-16zM384 642h8v8h-8zM512 642h16v8h-16zM384 650h8v8h-8zM512 650h16v8h-16zM384 658h8v8h-8zM512 658h16v8h-16zM384 666h8v8h-8zM504 666h16v8h-16zM376 674h32v8h-32zM504 674h16v8h-16zM376 682h40v8h-40zM504 682h16v8h-16zM376 690h40v8h-40zM504 690h16v8h-16zM376 698h40v8h-40zM504 698h16v8h-16zM376 706h48v8h-48zM496 706h16v8h-16zM376 714h48v8h-48zM496 714h16v8h-16zM376 722h56v8h-56zM496 722h16v8h-16zM376 730h56v8h-56zM496 730h16v8h-16zM424 738h8v8h-8zM496 738h16v8h-16zM424 746h16v8h-16zM488 746h16v8h-16zM432 754h8v8h-8zM488 754h16v8h-16zM432 762h16v8h-16zM488 762h16v8h-16zM440 770h8v8h-8zM488 770h16v8h-16zM440 778h64v8h-64zM440 786h56v8h-56zM448 794h48v8h-48zM448 802h48v8h-48zM456 810h40v8h-40z"/>
<path fill="#35abf8" d="M176 82h48v8h-48zM288 82h96v8h-96zM536 82h8v8h-8zM1288 82h8v8h-8zM176 90h8v8h-8zM384 90h64v8h-64zM536 90h8v8h-8zM640 90h40v8h-40zM176 98h8v8h-8zM400 98h48v8h-48zM536 98h8v8h-8zM1296 98h8v8h-8zM176 106h8v8h-8zM448 106h8v8h-8zM176 114h8v8h-8zM448 114h8v8h-8zM176 122h8v8h-8zM448 122h16v8h-16zM176 130h8v8h-8zM456 130h8v8h-8zM176 138h8v8h-8zM456 138h16v8h-16zM528 138h8v8h-8zM464 146h8v8h-8zM528 146h8v8h-8zM464 154h16v8h-16zM520 154h16v8h-16zM472 162h8v8h-8zM520 162h16v8h-16zM472 170h16v8h-16zM512 170h16v8h-16zM480 178h8v8h-8zM512 178h16v8h-16zM1296 178h8v8h-8zM184 186h8v8h-8zM480 186h16v8h-16zM504 186h16v8h-16zM1296 186h8v8h-8zM192 194h8v8h-8zM488 194h32v8h-32zM1296 194h8v8h-8zM200 202h8v8h-8zM488 202h24v8h-24zM1296 202h8v8h-8zM208 210h8v8h-8zM496 210h16v8h-16zM1296 210h8v8h-8zM232 218h16v8h-16zM1296 218h8v8h-8zM240 226h8v8h-8zM1296 226h8v8h-8zM240 234h8v8h-8zM1296 234h8v8h-8zM240 242h16v8h-16zM248 250h8v8h-8zM248 258h16v8h-16zM1152 258h8v8h-8zM248 266h16v8h-16zM1032 266h8v8h-8zM1056 266h8v8h-8zM1144 266h8v8h-8zM1160 266h8v8h-8zM256 274h8v8h-8zM1064 274h8v8h-8zM1128 274h8v8h-8zM1160 274h8v8h-8zM168 282h8v8h-8zM256 282h16v8h-16zM992 282h16v8h-16zM1072 282h8v8h-8zM1096 282h16v8h-16zM1168 282h8v8h-8zM152 290h32v8h-32zM256 290h16v8h-16zM360 290h40v8h-40zM912 290h56v8h-56zM984 290h40v8h-40zM1168 290h8v8h-8zM1296 290h8v8h-8zM144 298h24v8h-24zM176 298h8v8h-8zM264 298h8v8h-8zM352 298h16v8h-16zM888 298h24v8h-24zM968 298h24v8h-24zM1168 298h8v8h-8zM1296 298h8v8h-8zM128 306h24v8h-24zM176 306h8v8h-8zM264 306h16v8h-16zM344 306h16v8h-16zM872 306h16v8h-16zM912 306h8v8h-8zM1176 306h8v8h-8zM112 314h32v8h-32zM176 314h16v8h-16zM264 314h16v8h-16zM336 314h16v8h-16zM416 314h8v8h-8zM840 314h16v8h-16zM880 314h8v8h-8zM912 314h8v8h-8zM1184 314h8v8h-8zM96 322h32v8h-32zM184 322h8v8h-8zM272 322h8v8h-8zM328 322h16v8h-16zM648 322h16v8h-16zM672 322h16v8h-16zM800 322h24v8h-24zM888 322h32v8h-32zM1184 322h8v8h-8zM80 330h32v8h-32zM184 330h16v8h-16zM272 330h16v8h-16zM320 330h16v8h-16zM432 330h8v8h-8zM664 330h8v8h-8zM680 330h16v8h-16zM752 330h24v8h-24zM1192 330h8v8h-8zM80 338h16v8h-16zM192 338h8v8h-8zM272 338h16v8h-16zM312 338h16v8h-16zM632 338h16v8h-16zM680 338h8v8h-8zM696 338h8v8h-8zM712 338h24v8h-24zM1192 338h8v8h-8zM80 346h8v8h-8zM192 346h8v8h-8zM280 346h8v8h-8zM304 346h16v8h-16zM632 346h16v8h-16zM680 346h8v8h-8zM1192 346h8v8h-8zM1280 346h24v8h-24zM80 354h8v8h-8zM192 354h16v8h-16zM280 354h16v8h-16zM304 354h8v8h-8zM624 354h24v8h-24zM680 354h8v8h-8zM1184 354h16v8h-16zM1288 354h8v8h-8zM80 362h8v8h-8zM200 362h8v8h-8zM280 362h24v8h-24zM512 362h40v8h-40zM632 362h16v8h-16zM680 362h8v8h-8zM1184 362h8v8h-8zM1288 362h16v8h-16zM80 370h8v8h-8zM200 370h16v8h-16zM288 370h8v8h-8zM424 370h8v8h-8zM632 370h24v8h-24zM672 370h16v8h-16zM1176 370h16v8h-16zM1288 370h16v8h-16zM80 378h8v8h-8zM208 378h8v8h-8zM408 378h24v8h-24zM472 378h8v8h-8zM496 378h8v8h-8zM632 378h24v8h-24zM672 378h16v8h-16zM1176 378h8v8h-8zM1288 378h16v8h-16zM80 386h8v8h-8zM208 386h16v8h-16zM408 386h16v8h-16zM432 386h8v8h-8zM472 386h16v8h-16zM640 386h16v8h-16zM664 386h16v8h-16zM1168 386h8v8h-8zM1288 386h16v8h-16zM80 394h8v8h-8zM216 394h8v8h-8zM400 394h8v8h-8zM432 394h48v8h-48zM640 394h32v8h-32zM1168 394h8v8h-8zM1288 394h16v8h-16zM80 402h8v8h-8zM216 402h8v8h-8zM400 402h8v8h-8zM456 402h24v8h-24zM640 402h24v8h-24zM1160 402h8v8h-8zM1288 402h16v8h-16zM80 410h8v8h-8zM216 410h16v8h-16zM400 410h8v8h-8zM448 410h32v8h-32zM648 410h16v8h-16zM1152 410h16v8h-16zM1288 410h16v8h-16zM88 418h8v8h-8zM168 418h16v8h-16zM192 418h24v8h-24zM400 418h8v8h-8zM448 418h16v8h-16zM648 418h8v8h-8zM1152 418h16v8h-16zM1288 418h16v8h-16zM88 426h8v8h-8zM168 426h16v8h-16zM392 426h16v8h-16zM440 426h24v8h-24zM1152 426h24v8h-24zM1288 426h16v8h-16zM88 434h8v8h-8zM168 434h24v8h-24zM400 434h16v8h-16zM432 434h24v8h-24zM1056 434h8v8h-8zM1160 434h16v8h-16zM1216 434h88v8h-88zM88 442h8v8h-8zM176 442h16v8h-16zM408 442h16v8h-16zM432 442h16v8h-16zM688 442h16v8h-16zM944 442h8v8h-8zM984 442h16v8h-16zM1040 442h24v8h-24zM1168 442h88v8h-88zM88 450h16v8h-16zM176 450h16v8h-16zM416 450h32v8h-32zM656 450h72v8h-72zM936 450h16v8h-16zM1000 450h16v8h-16zM1032 450h32v8h-32zM1168 450h8v8h-8zM104 458h32v8h-32zM160 458h24v8h-24zM424 458h16v8h-16zM664 458h8v8h-8zM720 458h40v8h-40zM936 458h16v8h-16zM1016 458h24v8h-24zM1056 458h8v8h-8zM128 466h48v8h-48zM424 466h16v8h-16zM664 466h16v8h-16zM744 466h24v8h-24zM936 466h16v8h-16zM1056 466h8v8h-8zM136 474h8v8h-8zM672 474h16v8h-16zM760 474h16v8h-16zM936 474h24v8h-24zM1056 474h16v8h-16zM680 482h24v8h-24zM760 482h24v8h-24zM936 482h40v8h-40zM1056 482h16v8h-16zM696 490h16v8h-16zM768 490h24v8h-24zM952 490h40v8h-40zM1056 490h16v8h-16zM704 498h16v8h-16zM776 498h16v8h-16zM960 498h40v8h-40zM1048 498h16v8h-16zM160 506h8v8h-8zM704 506h24v8h-24zM784 506h24v8h-24zM976 506h32v8h-32zM1032 506h24v8h-24zM136 514h16v8h-16zM176 514h16v8h-16zM712 514h24v8h-24zM776 514h48v8h-48zM984 514h64v8h-64zM120 522h8v8h-8zM184 522h8v8h-8zM720 522h24v8h-24zM768 522h56v8h-56zM992 522h32v8h-32zM96 530h8v8h-8zM728 530h16v8h-16zM760 530h72v8h-72zM72 538h16v8h-16zM736 538h64v8h-64zM816 538h24v8h-24zM744 546h48v8h-48zM824 546h24v8h-24zM744 554h40v8h-40zM832 554h24v8h-24zM96 562h8v8h-8zM752 562h24v8h-24zM840 562h24v8h-24zM112 570h8v8h-8zM184 570h8v8h-8zM768 570h16v8h-16zM848 570h16v8h-16zM176 578h24v8h-24zM776 578h16v8h-16zM848 578h8v8h-8zM136 586h8v8h-8zM440 586h8v8h-8zM784 586h16v8h-16zM840 586h8v8h-8zM376 594h8v8h-8zM440 594h8v8h-8zM792 594h48v8h-48zM448 602h16v8h-16zM384 610h8v8h-8zM504 610h16v8h-16zM496 618h24v8h-24zM392 626h8v8h-8zM496 626h16v8h-16zM392 634h8v8h-8zM496 634h16v8h-16zM392 642h16v8h-16zM496 642h16v8h-16zM392 650h16v8h-16zM496 650h16v8h-16zM392 658h24v8h-24zM488 658h24v8h-24zM392 666h24v8h-24zM488 666h16v8h-16zM408 674h16v8h-16zM488 674h16v8h-16zM416 682h8v8h-8zM488 682h16v8h-16zM416 690h8v8h-8zM488 690h16v8h-16zM416 698h16v8h-16zM480 698h24v8h-24zM424 706h8v8h-8zM480 706h16v8h-16zM424 714h16v8h-16zM480 714h16v8h-16zM432 722h8v8h-8zM480 722h16v8h-16zM432 730h16v8h-16zM480 730h16v8h-16zM432 738h16v8h-16zM472 738h24v8h-24zM440 746h48v8h-48zM440 754h48v8h-48zM448 762h40v8h-40zM448 770h40v8h-40z"/>
<path fill="#2fb2f4" d="M224 82h56v8h-56zM544 82h88v8h-88zM696 82h8v8h-8zM888 82h40v8h-40zM1184 82h104v8h-104zM280 90h88v8h-88zM544 90h8v8h-8zM632 90h8v8h-8zM1280 90h8v8h-8zM184 98h8v8h-8zM368 98h16v8h-16zM544 98h8v8h-8zM1288 98h8v8h-8zM184 106h8v8h-8zM376 106h16v8h-16zM544 106h8v8h-8zM640 106h32v8h-32zM1288 106h8v8h-8zM184 114h8v8h-8zM392 114h48v8h-48zM544 114h8v8h-8zM640 114h24v8h-24zM1296 114h8v8h-8zM184 122h8v8h-8zM432 122h8v8h-8zM544 122h8v8h-8zM1296 122h8v8h-8zM184 130h8v8h-8zM440 130h8v8h-8zM544 130h8v8h-8zM1296 130h8v8h-8zM184 138h8v8h-8zM440 138h8v8h-8zM1296 138h8v8h-8zM448 146h8v8h-8zM1296 146h8v8h-8zM448 154h8v8h-8zM1296 154h8v8h-8zM456 162h8v8h-8zM1296 162h8v8h-8zM456 170h8v8h-8zM536 170h8v8h-8zM1288 170h8v8h-8zM464 178h8v8h-8zM536 178h8v8h-8zM576 178h8v8h-8zM1280 178h8v8h-8zM192 186h8v8h-8zM464 186h8v8h-8zM536 186h8v8h-8zM560 186h8v8h-8zM1280 186h8v8h-8zM200 194h8v8h-8zM472 194h8v8h-8zM536 194h16v8h-16zM1280 194h8v8h-8zM208 202h8v8h-8zM472 202h8v8h-8zM528 202h16v8h-16zM648 202h8v8h-8zM1280 202h8v8h-8zM232 210h8v8h-8zM480 210h8v8h-8zM528 210h8v8h-8zM648 210h8v8h-8zM1280 210h8v8h-8zM256 218h16v8h-16zM480 218h24v8h-24zM520 218h16v8h-16zM1280 218h8v8h-8zM264 226h8v8h-8zM520 226h8v8h-8zM1280 226h8v8h-8zM264 234h16v8h-16zM1176 234h8v8h-8zM264 242h16v8h-16zM1168 242h8v8h-8zM1288 242h8v8h-8zM272 250h8v8h-8zM1152 250h8v8h-8zM1168 250h8v8h-8zM1288 250h8v8h-8zM272 258h16v8h-16zM984 258h16v8h-16zM1032 258h8v8h-8zM1056 258h8v8h-8zM1168 258h8v8h-8zM1288 258h8v8h-8zM272 266h16v8h-16zM984 266h8v8h-8zM1024 266h8v8h-8zM1064 266h8v8h-8zM1128 266h8v8h-8zM1288 266h8v8h-8zM280 274h8v8h-8zM352 274h40v8h-40zM928 274h24v8h-24zM976 274h8v8h-8zM1072 274h40v8h-40zM1176 274h8v8h-8zM1288 274h8v8h-8zM280 282h16v8h-16zM344 282h16v8h-16zM912 282h8v8h-8zM960 282h16v8h-16zM1016 282h8v8h-8zM1176 282h8v8h-8zM1288 282h8v8h-8zM280 290h16v8h-16zM336 290h16v8h-16zM400 290h8v8h-8zM896 290h8v8h-8zM1184 290h8v8h-8zM1280 290h8v8h-8zM288 298h8v8h-8zM328 298h16v8h-16zM872 298h8v8h-8zM1184 298h8v8h-8zM1280 298h8v8h-8zM288 306h16v8h-16zM320 306h16v8h-16zM848 306h16v8h-16zM896 306h8v8h-8zM1192 306h8v8h-8zM1288 306h8v8h-8zM288 314h16v8h-16zM312 314h16v8h-16zM688 314h8v8h-8zM800 314h24v8h-24zM1192 314h8v8h-8zM1288 314h8v8h-8zM152 322h16v8h-16zM296 322h24v8h-24zM640 322h8v8h-8zM696 322h8v8h-8zM752 322h16v8h-16zM1200 322h8v8h-8zM1288 322h8v8h-8zM136 330h40v8h-40zM296 330h16v8h-16zM440 330h8v8h-8zM608 330h8v8h-8zM720 330h16v8h-16zM1288 330h8v8h-8zM128 338h24v8h-24zM168 338h8v8h-8zM296 338h8v8h-8zM600 338h8v8h-8zM664 338h16v8h-16zM1216 338h8v8h-8zM1280 338h16v8h-16zM112 346h24v8h-24zM168 346h16v8h-16zM592 346h8v8h-8zM664 346h8v8h-8zM1208 346h8v8h-8zM1264 346h8v8h-8zM104 354h24v8h-24zM176 354h8v8h-8zM544 354h16v8h-16zM664 354h8v8h-8zM1208 354h8v8h-8zM1272 354h8v8h-8zM104 362h8v8h-8zM176 362h8v8h-8zM1200 362h16v8h-16zM1272 362h8v8h-8zM104 370h8v8h-8zM176 370h16v8h-16zM1200 370h8v8h-8zM1272 370h8v8h-8zM104 378h8v8h-8zM184 378h8v8h-8zM1192 378h8v8h-8zM1272 378h8v8h-8zM104 386h8v8h-8zM184 386h16v8h-16zM1192 386h8v8h-8zM1272 386h8v8h-8zM104 394h8v8h-8zM192 394h8v8h-8zM1184 394h8v8h-8zM1272 394h8v8h-8zM104 402h8v8h-8zM192 402h16v8h-16zM416 402h8v8h-8zM1176 402h24v8h-24zM1272 402h8v8h-8zM104 410h16v8h-16zM160 410h8v8h-8zM176 410h24v8h-24zM416 410h16v8h-16zM1184 410h16v8h-16zM1216 410h64v8h-64zM112 418h8v8h-8zM1192 418h64v8h-64zM112 426h16v8h-16zM152 426h8v8h-8zM112 434h16v8h-16zM160 434h8v8h-8zM112 442h56v8h-56zM144 450h8v8h-8zM968 450h16v8h-16zM968 458h32v8h-32zM696 466h16v8h-16zM984 466h32v8h-32zM704 474h24v8h-24zM1000 474h32v8h-32zM1040 474h8v8h-8zM728 482h16v8h-16zM1016 482h32v8h-32zM736 490h16v8h-16zM736 498h8v8h-8zM160 514h8v8h-8zM144 522h8v8h-8zM168 522h16v8h-16zM120 530h8v8h-8zM96 538h16v8h-16zM80 546h8v8h-8zM176 554h8v8h-8zM104 562h8v8h-8zM120 570h8v8h-8zM816 570h8v8h-8zM808 578h24v8h-24zM144 586h8v8h-8zM816 586h8v8h-8zM432 594h8v8h-8zM392 610h8v8h-8zM440 610h8v8h-8zM464 618h16v8h-16zM400 626h8v8h-8zM464 626h16v8h-16zM416 634h16v8h-16zM464 634h16v8h-16zM416 642h16v8h-16zM464 642h16v8h-16zM424 650h8v8h-8zM456 650h24v8h-24zM424 658h16v8h-16zM456 658h16v8h-16zM432 666h8v8h-8zM456 666h16v8h-16zM432 674h40v8h-40zM440 682h32v8h-32zM440 690h32v8h-32zM440 698h24v8h-24zM448 706h16v8h-16z"/>
<path fill="#33adf7" d="M280 82h8v8h-8zM632 82h8v8h-8zM688 82h8v8h-8zM184 90h40v8h-40zM368 90h16v8h-16zM680 90h8v8h-8zM1288 90h8v8h-8zM384 98h16v8h-16zM640 98h40v8h-40zM392 106h56v8h-56zM536 106h8v8h-8zM1296 106h8v8h-8zM440 114h8v8h-8zM536 114h8v8h-8zM440 122h8v8h-8zM536 122h8v8h-8zM448 130h8v8h-8zM536 130h8v8h-8zM448 138h8v8h-8zM536 138h8v8h-8zM184 146h8v8h-8zM456 146h8v8h-8zM536 146h8v8h-8zM184 154h8v8h-8zM456 154h8v8h-8zM536 154h8v8h-8zM184 162h8v8h-8zM464 162h8v8h-8zM536 162h8v8h-8zM184 170h8v8h-8zM464 170h8v8h-8zM528 170h8v8h-8zM1296 170h8v8h-8zM184 178h8v8h-8zM472 178h8v8h-8zM528 178h8v8h-8zM1288 178h8v8h-8zM472 186h8v8h-8zM520 186h16v8h-16zM1288 186h8v8h-8zM480 194h8v8h-8zM520 194h16v8h-16zM1288 194h8v8h-8zM480 202h8v8h-8zM512 202h16v8h-16zM1288 202h8v8h-8zM216 210h16v8h-16zM488 210h8v8h-8zM512 210h16v8h-16zM1288 210h8v8h-8zM248 218h8v8h-8zM504 218h16v8h-16zM1288 218h8v8h-8zM248 226h16v8h-16zM1288 226h8v8h-8zM248 234h16v8h-16zM1288 234h8v8h-8zM256 242h8v8h-8zM1296 242h8v8h-8zM256 250h16v8h-16zM1160 250h8v8h-8zM1296 250h8v8h-8zM264 258h8v8h-8zM1040 258h16v8h-16zM1144 258h8v8h-8zM1160 258h8v8h-8zM1296 258h8v8h-8zM264 266h8v8h-8zM992 266h8v8h-8zM1136 266h8v8h-8zM1168 266h8v8h-8zM1296 266h8v8h-8zM264 274h16v8h-16zM984 274h24v8h-24zM1024 274h8v8h-8zM1112 274h16v8h-16zM1168 274h8v8h-8zM1296 274h8v8h-8zM272 282h8v8h-8zM360 282h40v8h-40zM920 282h40v8h-40zM976 282h16v8h-16zM1008 282h8v8h-8zM1080 282h16v8h-16zM1296 282h8v8h-8zM272 290h8v8h-8zM352 290h8v8h-8zM904 290h8v8h-8zM968 290h16v8h-16zM1176 290h8v8h-8zM1288 290h8v8h-8zM168 298h8v8h-8zM272 298h16v8h-16zM344 298h8v8h-8zM880 298h8v8h-8zM1176 298h8v8h-8zM1288 298h8v8h-8zM152 306h24v8h-24zM280 306h8v8h-8zM336 306h8v8h-8zM864 306h8v8h-8zM888 306h8v8h-8zM904 306h8v8h-8zM1184 306h8v8h-8zM1296 306h8v8h-8zM144 314h32v8h-32zM280 314h8v8h-8zM328 314h8v8h-8zM680 314h8v8h-8zM824 314h16v8h-16zM888 314h24v8h-24zM1296 314h8v8h-8zM128 322h24v8h-24zM168 322h16v8h-16zM280 322h16v8h-16zM320 322h8v8h-8zM424 322h8v8h-8zM688 322h8v8h-8zM768 322h32v8h-32zM1192 322h8v8h-8zM1296 322h8v8h-8zM112 330h24v8h-24zM176 330h8v8h-8zM288 330h8v8h-8zM312 330h8v8h-8zM616 330h16v8h-16zM672 330h8v8h-8zM696 330h8v8h-8zM736 330h16v8h-16zM1200 330h8v8h-8zM1296 330h8v8h-8zM96 338h32v8h-32zM176 338h16v8h-16zM288 338h8v8h-8zM304 338h8v8h-8zM448 338h8v8h-8zM608 338h8v8h-8zM648 338h16v8h-16zM704 338h8v8h-8zM1200 338h16v8h-16zM1296 338h8v8h-8zM88 346h24v8h-24zM184 346h8v8h-8zM288 346h16v8h-16zM456 346h8v8h-8zM600 346h8v8h-8zM648 346h16v8h-16zM672 346h8v8h-8zM1200 346h8v8h-8zM1272 346h8v8h-8zM88 354h16v8h-16zM184 354h8v8h-8zM296 354h8v8h-8zM464 354h8v8h-8zM560 354h40v8h-40zM648 354h16v8h-16zM672 354h8v8h-8zM1200 354h8v8h-8zM1280 354h8v8h-8zM88 362h16v8h-16zM184 362h16v8h-16zM472 362h8v8h-8zM504 362h8v8h-8zM648 362h32v8h-32zM1192 362h8v8h-8zM1280 362h8v8h-8zM88 370h16v8h-16zM192 370h8v8h-8zM480 370h8v8h-8zM496 370h8v8h-8zM656 370h16v8h-16zM1192 370h8v8h-8zM1280 370h8v8h-8zM88 378h16v8h-16zM192 378h16v8h-16zM480 378h16v8h-16zM656 378h16v8h-16zM1184 378h8v8h-8zM1280 378h8v8h-8zM88 386h16v8h-16zM200 386h8v8h-8zM424 386h8v8h-8zM656 386h8v8h-8zM1176 386h16v8h-16zM1280 386h8v8h-8zM88 394h16v8h-16zM200 394h16v8h-16zM408 394h24v8h-24zM1176 394h8v8h-8zM1280 394h8v8h-8zM88 402h16v8h-16zM208 402h8v8h-8zM408 402h8v8h-8zM424 402h32v8h-32zM1168 402h8v8h-8zM1280 402h8v8h-8zM88 410h16v8h-16zM200 410h16v8h-16zM408 410h8v8h-8zM432 410h16v8h-16zM1168 410h16v8h-16zM1280 410h8v8h-8zM96 418h16v8h-16zM160 418h8v8h-8zM184 418h8v8h-8zM408 418h40v8h-40zM1168 418h24v8h-24zM1256 418h32v8h-32zM96 426h16v8h-16zM160 426h8v8h-8zM408 426h32v8h-32zM1176 426h112v8h-112zM96 434h16v8h-16zM416 434h16v8h-16zM1176 434h40v8h-40zM96 442h16v8h-16zM168 442h8v8h-8zM424 442h8v8h-8zM952 442h32v8h-32zM104 450h40v8h-40zM152 450h24v8h-24zM952 450h16v8h-16zM984 450h16v8h-16zM136 458h24v8h-24zM672 458h48v8h-48zM952 458h16v8h-16zM1000 458h16v8h-16zM1040 458h16v8h-16zM680 466h16v8h-16zM712 466h32v8h-32zM952 466h32v8h-32zM1016 466h40v8h-40zM688 474h16v8h-16zM728 474h32v8h-32zM960 474h40v8h-40zM1032 474h8v8h-8zM1048 474h8v8h-8zM704 482h24v8h-24zM744 482h16v8h-16zM976 482h40v8h-40zM1048 482h8v8h-8zM712 490h24v8h-24zM752 490h16v8h-16zM992 490h64v8h-64zM720 498h16v8h-16zM744 498h32v8h-32zM1000 498h48v8h-48zM728 506h56v8h-56zM1008 506h24v8h-24zM152 514h8v8h-8zM168 514h8v8h-8zM736 514h40v8h-40zM128 522h16v8h-16zM744 522h24v8h-24zM104 530h16v8h-16zM744 530h16v8h-16zM88 538h8v8h-8zM800 538h16v8h-16zM72 546h8v8h-8zM792 546h32v8h-32zM88 554h8v8h-8zM784 554h48v8h-48zM176 562h8v8h-8zM776 562h64v8h-64zM176 570h8v8h-8zM784 570h32v8h-32zM824 570h24v8h-24zM128 578h8v8h-8zM792 578h16v8h-16zM832 578h16v8h-16zM384 586h56v8h-56zM800 586h16v8h-16zM824 586h16v8h-16zM384 594h8v8h-8zM384 602h8v8h-8zM440 602h8v8h-8zM448 610h56v8h-56zM392 618h8v8h-8zM480 618h16v8h-16zM480 626h16v8h-16zM400 634h16v8h-16zM480 634h16v8h-16zM408 642h8v8h-8zM480 642h16v8h-16zM408 650h16v8h-16zM480 650h16v8h-16zM416 658h8v8h-8zM472 658h16v8h-16zM416 666h16v8h-16zM472 666h16v8h-16zM424 674h8v8h-8zM472 674h16v8h-16zM424 682h16v8h-16zM472 682h16v8h-16zM424 690h16v8h-16zM472 690h16v8h-16zM432 698h8v8h-8zM464 698h16v8h-16zM432 706h16v8h-16zM464 706h16v8h-16zM440 714h40v8h-40zM440 722h40v8h-40zM448 730h32v8h-32zM448 738h24v8h-24z"/>
<path fill="#3aa3fc" d="M448 82h8v8h-8zM168 90h8v8h-8zM456 90h8v8h-8zM168 98h8v8h-8zM456 98h8v8h-8zM520 98h8v8h-8zM168 106h8v8h-8zM464 106h8v8h-8zM520 106h8v8h-8zM168 114h8v8h-8zM464 114h8v8h-8zM512 114h16v8h-16zM168 122h8v8h-8zM472 122h56v8h-56zM168 130h8v8h-8zM472 130h48v8h-48zM168 138h8v8h-8zM480 138h32v8h-32zM480 146h32v8h-32zM176 194h8v8h-8zM184 202h8v8h-8zM192 210h8v8h-8zM208 218h16v8h-16zM208 226h16v8h-16zM216 234h8v8h-8zM216 242h16v8h-16zM168 250h16v8h-16zM224 250h8v8h-8zM152 258h40v8h-40zM224 258h8v8h-8zM144 266h24v8h-24zM184 266h8v8h-8zM224 266h16v8h-16zM1040 266h8v8h-8zM128 274h24v8h-24zM184 274h16v8h-16zM232 274h8v8h-8zM1040 274h16v8h-16zM112 282h32v8h-32zM192 282h8v8h-8zM232 282h8v8h-8zM1032 282h8v8h-8zM1048 282h16v8h-16zM1120 282h40v8h-40zM96 290h32v8h-32zM192 290h8v8h-8zM232 290h16v8h-16zM1024 290h16v8h-16zM1056 290h24v8h-24zM1096 290h64v8h-64zM80 298h32v8h-32zM192 298h16v8h-16zM240 298h8v8h-8zM1024 298h8v8h-8zM1056 298h64v8h-64zM1144 298h24v8h-24zM64 306h32v8h-32zM200 306h8v8h-8zM240 306h8v8h-8zM368 306h40v8h-40zM928 306h16v8h-16zM1008 306h16v8h-16zM1056 306h32v8h-32zM1152 306h16v8h-16zM64 314h16v8h-16zM200 314h16v8h-16zM240 314h16v8h-16zM360 314h16v8h-16zM384 314h32v8h-32zM864 314h16v8h-16zM928 314h16v8h-16zM984 314h32v8h-32zM1056 314h32v8h-32zM1160 314h16v8h-16zM208 322h8v8h-8zM248 322h8v8h-8zM352 322h16v8h-16zM840 322h40v8h-40zM928 322h16v8h-16zM960 322h40v8h-40zM1056 322h32v8h-32zM1168 322h8v8h-8zM208 330h16v8h-16zM248 330h16v8h-16zM344 330h16v8h-16zM808 330h16v8h-16zM872 330h24v8h-24zM928 330h48v8h-48zM1056 330h40v8h-40zM1168 330h16v8h-16zM208 338h16v8h-16zM248 338h16v8h-16zM336 338h16v8h-16zM432 338h8v8h-8zM760 338h24v8h-24zM904 338h56v8h-56zM1048 338h48v8h-48zM1176 338h8v8h-8zM216 346h8v8h-8zM256 346h8v8h-8zM328 346h16v8h-16zM424 346h32v8h-32zM712 346h24v8h-24zM920 346h32v8h-32zM1048 346h48v8h-48zM1176 346h8v8h-8zM216 354h16v8h-16zM256 354h16v8h-16zM320 354h16v8h-16zM408 354h24v8h-24zM440 354h8v8h-8zM456 354h8v8h-8zM696 354h24v8h-24zM920 354h32v8h-32zM1048 354h48v8h-48zM1168 354h8v8h-8zM224 362h8v8h-8zM248 362h24v8h-24zM312 362h16v8h-16zM392 362h24v8h-24zM440 362h8v8h-8zM464 362h8v8h-8zM560 362h8v8h-8zM600 362h8v8h-8zM696 362h16v8h-16zM1040 362h32v8h-32zM1080 362h16v8h-16zM1160 362h16v8h-16zM224 370h48v8h-48zM312 370h8v8h-8zM392 370h8v8h-8zM440 370h8v8h-8zM464 370h8v8h-8zM536 370h8v8h-8zM592 370h16v8h-16zM696 370h16v8h-16zM1040 370h32v8h-32zM1080 370h16v8h-16zM1160 370h8v8h-8zM232 378h48v8h-48zM304 378h8v8h-8zM392 378h8v8h-8zM440 378h32v8h-32zM512 378h16v8h-16zM600 378h16v8h-16zM696 378h8v8h-8zM1040 378h32v8h-32zM1080 378h16v8h-16zM1152 378h8v8h-8zM232 386h48v8h-48zM296 386h8v8h-8zM392 386h8v8h-8zM512 386h16v8h-16zM600 386h16v8h-16zM1032 386h32v8h-32zM1080 386h16v8h-16zM1152 386h8v8h-8zM232 394h48v8h-48zM288 394h8v8h-8zM384 394h8v8h-8zM504 394h24v8h-24zM608 394h8v8h-8zM688 394h8v8h-8zM1032 394h32v8h-32zM1080 394h16v8h-16zM1144 394h8v8h-8zM240 402h64v8h-64zM384 402h8v8h-8zM504 402h24v8h-24zM608 402h16v8h-16zM688 402h8v8h-8zM1032 402h32v8h-32zM1080 402h8v8h-8zM1144 402h8v8h-8zM240 410h64v8h-64zM384 410h8v8h-8zM504 410h24v8h-24zM608 410h16v8h-16zM680 410h16v8h-16zM1032 410h24v8h-24zM1080 410h8v8h-8zM1136 410h8v8h-8zM64 418h8v8h-8zM232 418h48v8h-48zM384 418h8v8h-8zM504 418h24v8h-24zM616 418h16v8h-16zM672 418h16v8h-16zM1032 418h24v8h-24zM1080 418h8v8h-8zM1128 418h16v8h-16zM64 426h8v8h-8zM216 426h56v8h-56zM352 426h32v8h-32zM496 426h24v8h-24zM608 426h24v8h-24zM664 426h56v8h-56zM920 426h80v8h-80zM1024 426h24v8h-24zM1080 426h8v8h-8zM1128 426h8v8h-8zM64 434h8v8h-8zM208 434h64v8h-64zM360 434h24v8h-24zM496 434h24v8h-24zM608 434h24v8h-24zM664 434h8v8h-8zM704 434h56v8h-56zM912 434h16v8h-16zM1000 434h32v8h-32zM1072 434h16v8h-16zM1120 434h24v8h-24zM64 442h8v8h-8zM208 442h24v8h-24zM240 442h24v8h-24zM368 442h24v8h-24zM496 442h24v8h-24zM608 442h24v8h-24zM744 442h40v8h-40zM912 442h16v8h-16zM1072 442h16v8h-16zM1128 442h16v8h-16zM64 450h8v8h-8zM208 450h16v8h-16zM240 450h32v8h-32zM368 450h32v8h-32zM488 450h24v8h-24zM600 450h32v8h-32zM776 450h16v8h-16zM912 450h16v8h-16zM1072 450h16v8h-16zM1128 450h24v8h-24zM1296 450h8v8h-8zM64 458h8v8h-8zM200 458h16v8h-16zM248 458h24v8h-24zM376 458h32v8h-32zM472 458h40v8h-40zM600 458h24v8h-24zM784 458h16v8h-16zM912 458h8v8h-8zM1072 458h16v8h-16zM1136 458h16v8h-16zM1216 458h88v8h-88zM64 466h32v8h-32zM192 466h16v8h-16zM264 466h8v8h-8zM376 466h32v8h-32zM456 466h56v8h-56zM592 466h32v8h-32zM640 466h16v8h-16zM784 466h40v8h-40zM904 466h16v8h-16zM1080 466h8v8h-8zM1144 466h112v8h-112zM80 474h32v8h-32zM184 474h8v8h-8zM400 474h16v8h-16zM456 474h48v8h-48zM592 474h40v8h-40zM640 474h16v8h-16zM792 474h64v8h-64zM904 474h16v8h-16zM1080 474h16v8h-16zM1144 474h32v8h-32zM80 482h32v8h-32zM176 482h8v8h-8zM408 482h16v8h-16zM448 482h56v8h-56zM592 482h40v8h-40zM640 482h24v8h-24zM800 482h120v8h-120zM1088 482h16v8h-16zM80 490h32v8h-32zM144 490h40v8h-40zM416 490h16v8h-16zM440 490h64v8h-64zM584 490h64v8h-64zM656 490h16v8h-16zM832 490h80v8h-80zM1088 490h16v8h-16zM80 498h112v8h-112zM424 498h64v8h-64zM584 498h56v8h-56zM664 498h16v8h-16zM856 498h72v8h-72zM1080 498h24v8h-24zM80 506h72v8h-72zM424 506h32v8h-32zM584 506h56v8h-56zM672 506h16v8h-16zM880 506h56v8h-56zM1072 506h16v8h-16zM120 514h8v8h-8zM432 514h16v8h-16zM584 514h56v8h-56zM672 514h24v8h-24zM880 514h64v8h-64zM1064 514h16v8h-16zM96 522h8v8h-8zM192 522h8v8h-8zM440 522h8v8h-8zM592 522h40v8h-40zM680 522h24v8h-24zM880 522h72v8h-72zM1056 522h16v8h-16zM72 530h16v8h-16zM192 530h24v8h-24zM592 530h40v8h-40zM680 530h24v8h-24zM880 530h40v8h-40zM928 530h32v8h-32zM1040 530h24v8h-24zM192 538h40v8h-40zM592 538h40v8h-40zM688 538h24v8h-24zM872 538h40v8h-40zM936 538h40v8h-40zM1016 538h40v8h-40zM200 546h56v8h-56zM592 546h40v8h-40zM688 546h24v8h-24zM872 546h40v8h-40zM944 546h40v8h-40zM992 546h40v8h-40zM216 554h56v8h-56zM608 554h24v8h-24zM696 554h24v8h-24zM888 554h24v8h-24zM952 554h56v8h-56zM88 562h8v8h-8zM232 562h56v8h-56zM696 562h24v8h-24zM888 562h24v8h-24zM968 562h16v8h-16zM104 570h8v8h-8zM248 570h40v8h-40zM704 570h24v8h-24zM880 570h16v8h-16zM112 578h8v8h-8zM248 578h40v8h-40zM376 578h8v8h-8zM704 578h40v8h-40zM872 578h8v8h-8zM248 586h40v8h-40zM448 586h16v8h-16zM712 586h48v8h-48zM856 586h16v8h-16zM1144 586h16v8h-16zM136 594h8v8h-8zM160 594h128v8h-128zM368 594h8v8h-8zM464 594h32v8h-32zM736 594h40v8h-40zM848 594h16v8h-16zM1144 594h48v8h-48zM240 602h48v8h-48zM368 602h8v8h-8zM512 602h40v8h-40zM760 602h24v8h-24zM840 602h8v8h-8zM1144 602h48v8h-48zM368 610h8v8h-8zM536 610h16v8h-16zM768 610h56v8h-56zM1144 610h48v8h-48zM368 618h16v8h-16zM536 618h16v8h-16zM1144 618h48v8h-48zM368 626h16v8h-16zM528 626h24v8h-24zM1144 626h48v8h-48zM368 634h16v8h-16zM528 634h16v8h-16zM1136 634h56v8h-56zM368 642h16v8h-16zM528 642h16v8h-16zM1136 642h56v8h-56zM368 650h16v8h-16zM528 650h16v8h-16zM1136 650h56v8h-56zM368 658h16v8h-16zM528 658h16v8h-16zM1136 658h48v8h-48zM368 666h16v8h-16zM520 666h24v8h-24zM1128 666h48v8h-48zM368 674h8v8h-8zM520 674h16v8h-16zM1128 674h40v8h-40zM368 682h8v8h-8zM520 682h16v8h-16zM1128 682h32v8h-32zM368 690h8v8h-8zM520 690h16v8h-16zM368 698h8v8h-8zM520 698h16v8h-16zM368 706h8v8h-8zM512 706h24v8h-24zM368 714h8v8h-8zM512 714h16v8h-16zM368 722h8v8h-8zM512 722h16v8h-16zM368 730h8v8h-8zM512 730h16v8h-16zM368 738h56v8h-56zM512 738h16v8h-16zM368 746h56v8h-56zM504 746h24v8h-24zM368 754h64v8h-64zM504 754h16v8h-16zM360 762h72v8h-72zM504 762h16v8h-16zM360 770h80v8h-80zM504 770h16v8h-16zM360 778h80v8h-80zM504 778h16v8h-16zM360 786h80v8h-80zM496 786h24v8h-24zM360 794h88v8h-88zM496 794h16v8h-16zM440 802h8v8h-8zM496 802h16v8h-16zM440 810h16v8h-16zM496 810h16v8h-16zM448 818h64v8h-64zM448 826h64v8h-64zM448 834h56v8h-56zM456 842h48v8h-48z"/>
<path fill="#2cb7f0" d="M704 82h8v8h-8zM928 82h8v8h-8zM1176 82h8v8h-8zM232 90h40v8h-40zM560 90h72v8h-72zM696 90h8v8h-8zM888 90h40v8h-40zM1192 90h88v8h-88zM224 98h8v8h-8zM280 98h8v8h-8zM552 98h8v8h-8zM192 106h32v8h-32zM288 106h72v8h-72zM552 106h8v8h-8zM632 106h8v8h-8zM1280 106h8v8h-8zM192 114h8v8h-8zM360 114h16v8h-16zM552 114h8v8h-8zM664 114h8v8h-8zM192 122h8v8h-8zM376 122h16v8h-16zM552 122h8v8h-8zM656 122h8v8h-8zM1288 122h8v8h-8zM192 130h8v8h-8zM384 130h48v8h-48zM552 130h8v8h-8zM640 130h16v8h-16zM1288 130h8v8h-8zM192 138h8v8h-8zM424 138h8v8h-8zM552 138h8v8h-8zM1288 138h8v8h-8zM192 146h8v8h-8zM424 146h16v8h-16zM552 146h8v8h-8zM1288 146h8v8h-8zM432 154h8v8h-8zM552 154h8v8h-8zM592 154h8v8h-8zM1288 154h8v8h-8zM432 162h16v8h-16zM600 162h8v8h-8zM1280 162h8v8h-8zM440 170h8v8h-8zM576 170h8v8h-8zM608 170h40v8h-40zM1272 170h8v8h-8zM200 178h8v8h-8zM440 178h16v8h-16zM560 178h8v8h-8zM600 178h56v8h-56zM1264 178h8v8h-8zM208 186h8v8h-8zM448 186h8v8h-8zM584 186h16v8h-16zM616 186h16v8h-16zM648 186h16v8h-16zM1264 186h8v8h-8zM216 194h8v8h-8zM448 194h16v8h-16zM568 194h16v8h-16zM616 194h16v8h-16zM656 194h16v8h-16zM1264 194h8v8h-8zM224 202h16v8h-16zM456 202h8v8h-8zM552 202h16v8h-16zM624 202h8v8h-8zM664 202h8v8h-8zM1264 202h8v8h-8zM256 210h8v8h-8zM456 210h16v8h-16zM544 210h8v8h-8zM624 210h8v8h-8zM664 210h8v8h-8zM1264 210h8v8h-8zM280 218h8v8h-8zM464 218h8v8h-8zM544 218h8v8h-8zM656 218h8v8h-8zM1192 218h8v8h-8zM1264 218h8v8h-8zM288 226h8v8h-8zM472 226h8v8h-8zM504 226h8v8h-8zM536 226h8v8h-8zM1176 226h8v8h-8zM1192 226h8v8h-8zM1264 226h8v8h-8zM288 234h16v8h-16zM520 234h8v8h-8zM1168 234h8v8h-8zM1272 234h8v8h-8zM288 242h16v8h-16zM1152 242h8v8h-8zM1184 242h8v8h-8zM1272 242h8v8h-8zM296 250h8v8h-8zM1048 250h8v8h-8zM1136 250h8v8h-8zM1272 250h8v8h-8zM296 258h16v8h-16zM344 258h40v8h-40zM976 258h8v8h-8zM1024 258h8v8h-8zM1128 258h8v8h-8zM1176 258h8v8h-8zM1272 258h8v8h-8zM296 266h16v8h-16zM336 266h16v8h-16zM384 266h8v8h-8zM944 266h16v8h-16zM968 266h8v8h-8zM1000 266h8v8h-8zM1080 266h40v8h-40zM1272 266h8v8h-8zM304 274h8v8h-8zM328 274h16v8h-16zM392 274h8v8h-8zM912 274h8v8h-8zM1184 274h8v8h-8zM1272 274h8v8h-8zM304 282h32v8h-32zM1272 282h8v8h-8zM312 290h16v8h-16zM872 290h16v8h-16zM1192 290h8v8h-8zM1272 290h8v8h-8zM312 298h8v8h-8zM856 298h8v8h-8zM1264 298h8v8h-8zM800 306h24v8h-24zM1200 306h8v8h-8zM1272 306h8v8h-8zM424 314h16v8h-16zM656 314h16v8h-16zM696 314h8v8h-8zM752 314h16v8h-16zM1272 314h8v8h-8zM432 322h8v8h-8zM608 322h8v8h-8zM632 322h8v8h-8zM704 322h8v8h-8zM720 322h16v8h-16zM1208 322h8v8h-8zM1272 322h8v8h-8zM600 330h8v8h-8zM1216 330h8v8h-8zM1272 330h8v8h-8zM592 338h8v8h-8zM1232 338h16v8h-16zM552 346h8v8h-8zM1232 346h24v8h-24zM152 354h8v8h-8zM504 354h24v8h-24zM1224 354h16v8h-16zM1248 354h8v8h-8zM136 362h32v8h-32zM1224 362h8v8h-8zM1256 362h8v8h-8zM128 370h24v8h-24zM160 370h8v8h-8zM1216 370h8v8h-8zM1256 370h8v8h-8zM120 378h16v8h-16zM160 378h8v8h-8zM1216 378h8v8h-8zM1256 378h8v8h-8zM120 386h16v8h-16zM160 386h16v8h-16zM1208 386h56v8h-56zM120 394h16v8h-16zM168 394h8v8h-8zM1216 394h48v8h-48zM120 402h16v8h-16zM152 402h32v8h-32zM128 410h16v8h-16zM136 418h16v8h-16zM136 426h16v8h-16zM160 522h8v8h-8zM144 530h8v8h-8zM168 530h8v8h-8zM120 538h8v8h-8zM176 538h8v8h-8zM96 546h16v8h-16zM112 562h8v8h-8zM128 570h8v8h-8zM400 602h8v8h-8zM400 610h8v8h-8zM432 610h8v8h-8zM440 626h8v8h-8zM440 634h8v8h-8z"/>
<path fill="#22c5e2" d="M712 82h8v8h-8zM824 82h48v8h-48zM992 82h176v8h-176zM872 90h8v8h-8zM704 98h8v8h-8zM880 98h8v8h-8zM232 106h40v8h-40zM616 106h16v8h-16zM696 106h8v8h-8zM888 106h8v8h-8zM912 106h8v8h-8zM1192 106h72v8h-72zM272 114h8v8h-8zM576 114h8v8h-8zM1264 114h8v8h-8zM576 122h8v8h-8zM1264 122h8v8h-8zM208 130h24v8h-24zM296 130h40v8h-40zM664 130h8v8h-8zM1264 130h8v8h-8zM208 138h8v8h-8zM336 138h16v8h-16zM656 138h8v8h-8zM1264 138h8v8h-8zM208 146h8v8h-8zM344 146h16v8h-16zM648 146h8v8h-8zM1264 146h8v8h-8zM360 154h16v8h-16zM576 154h8v8h-8zM656 154h8v8h-8zM1264 154h8v8h-8zM376 162h16v8h-16zM672 162h8v8h-8zM1248 162h8v8h-8zM216 170h8v8h-8zM384 170h32v8h-32zM680 170h8v8h-8zM1240 170h8v8h-8zM224 178h8v8h-8zM408 178h8v8h-8zM688 178h8v8h-8zM1232 178h8v8h-8zM232 186h8v8h-8zM408 186h16v8h-16zM688 186h8v8h-8zM1216 186h8v8h-8zM1232 186h8v8h-8zM240 194h16v8h-16zM416 194h8v8h-8zM688 194h8v8h-8zM1200 194h8v8h-8zM1232 194h8v8h-8zM272 202h8v8h-8zM416 202h16v8h-16zM688 202h8v8h-8zM1232 202h8v8h-8zM296 210h16v8h-16zM424 210h8v8h-8zM688 210h8v8h-8zM1176 210h8v8h-8zM1232 210h8v8h-8zM328 218h8v8h-8zM432 218h8v8h-8zM576 218h8v8h-8zM680 218h8v8h-8zM1168 218h8v8h-8zM1232 218h16v8h-16zM336 226h8v8h-8zM360 226h32v8h-32zM440 226h8v8h-8zM672 226h8v8h-8zM1152 226h8v8h-8zM1232 226h16v8h-16zM368 234h56v8h-56zM440 234h8v8h-8zM472 234h8v8h-8zM656 234h8v8h-8zM1136 234h8v8h-8zM1224 234h24v8h-24zM408 242h56v8h-56zM480 242h8v8h-8zM640 242h8v8h-8zM1048 242h16v8h-16zM1120 242h8v8h-8zM1216 242h16v8h-16zM1248 242h8v8h-8zM440 250h32v8h-32zM480 250h8v8h-8zM504 250h16v8h-16zM944 250h8v8h-8zM992 250h8v8h-8zM1200 250h24v8h-24zM1248 250h8v8h-8zM456 258h16v8h-16zM1008 258h8v8h-8zM1200 258h16v8h-16zM1248 258h8v8h-8zM456 266h24v8h-24zM912 266h8v8h-8zM1208 266h24v8h-24zM1248 266h8v8h-8zM464 274h8v8h-8zM888 274h8v8h-8zM1224 274h8v8h-8zM1248 274h8v8h-8zM464 282h8v8h-8zM680 282h16v8h-16zM864 282h8v8h-8zM1224 282h24v8h-24zM464 290h8v8h-8zM696 290h8v8h-8zM800 290h32v8h-32zM1232 290h16v8h-16zM464 298h8v8h-8zM704 298h8v8h-8zM776 298h8v8h-8zM1232 298h16v8h-16zM464 306h8v8h-8zM616 306h16v8h-16zM712 306h24v8h-24zM1224 306h8v8h-8zM1240 306h8v8h-8zM464 314h8v8h-8zM600 314h8v8h-8zM1224 314h8v8h-8zM1248 314h8v8h-8zM456 322h8v8h-8zM584 322h8v8h-8zM1232 322h24v8h-24zM560 330h16v8h-16zM472 338h8v8h-8zM528 338h16v8h-16zM480 346h8v8h-8zM496 346h16v8h-16zM144 546h8v8h-8zM120 554h16v8h-16zM168 554h8v8h-8zM128 562h8v8h-8zM168 562h8v8h-8zM144 570h8v8h-8zM168 570h8v8h-8zM160 578h8v8h-8z"/>
<path fill="#1bd0d5" d="M720 82h8v8h-8zM800 82h8v8h-8zM824 90h40v8h-40zM944 90h8v8h-8zM984 90h128v8h-128zM1128 90h40v8h-40zM1168 98h8v8h-8zM712 106h8v8h-8zM1176 106h8v8h-8zM704 114h8v8h-8zM1184 114h8v8h-8zM240 122h24v8h-24zM608 122h16v8h-16zM696 122h8v8h-8zM1200 122h56v8h-56zM264 130h8v8h-8zM592 130h8v8h-8zM1248 130h8v8h-8zM232 138h8v8h-8zM280 138h8v8h-8zM624 138h8v8h-8zM1248 138h8v8h-8zM288 146h8v8h-8zM664 146h8v8h-8zM1240 146h8v8h-8zM224 154h8v8h-8zM288 154h24v8h-24zM1224 154h16v8h-16zM232 162h8v8h-8zM280 162h24v8h-24zM312 162h16v8h-16zM688 162h8v8h-8zM1216 162h8v8h-8zM240 170h8v8h-8zM272 170h24v8h-24zM320 170h16v8h-16zM1200 170h16v8h-16zM264 178h24v8h-24zM336 178h16v8h-16zM1192 178h8v8h-8zM264 186h16v8h-16zM344 186h24v8h-24zM1176 186h16v8h-16zM296 194h24v8h-24zM360 194h16v8h-16zM1168 194h8v8h-8zM344 202h48v8h-48zM712 202h8v8h-8zM1160 202h8v8h-8zM392 210h8v8h-8zM712 210h8v8h-8zM1152 210h8v8h-8zM704 218h8v8h-8zM1128 218h16v8h-16zM568 226h16v8h-16zM696 226h8v8h-8zM1104 226h16v8h-16zM688 234h8v8h-8zM1056 234h32v8h-32zM680 242h8v8h-8zM936 242h8v8h-8zM1024 242h8v8h-8zM624 250h8v8h-8zM664 250h8v8h-8zM1000 250h8v8h-8zM648 258h8v8h-8zM688 258h8v8h-8zM912 258h8v8h-8zM512 266h8v8h-8zM632 266h8v8h-8zM680 266h8v8h-8zM696 266h8v8h-8zM872 266h16v8h-16zM504 274h8v8h-8zM672 274h8v8h-8zM704 274h8v8h-8zM816 274h40v8h-40zM712 282h8v8h-8zM616 290h8v8h-8zM720 290h32v8h-32zM768 290h8v8h-8zM600 298h8v8h-8zM640 298h16v8h-16zM592 306h8v8h-8zM544 322h8v8h-8zM512 330h16v8h-16zM488 338h8v8h-8zM144 562h16v8h-16zM160 570h8v8h-8z"/>
<path fill="#1ad2d2" d="M728 82h72v8h-72zM952 90h32v8h-32zM864 98h8v8h-8zM936 98h8v8h-8zM872 106h8v8h-8zM928 106h8v8h-8zM712 114h8v8h-8zM880 114h8v8h-8zM888 122h8v8h-8zM1192 122h8v8h-8zM256 130h8v8h-8zM600 130h8v8h-8zM688 130h8v8h-8zM896 130h8v8h-8zM1240 130h8v8h-8zM272 138h8v8h-8zM680 138h8v8h-8zM1240 138h8v8h-8zM232 146h8v8h-8zM280 146h8v8h-8zM616 146h8v8h-8zM672 146h8v8h-8zM1232 146h8v8h-8zM280 154h8v8h-8zM680 154h8v8h-8zM1216 154h8v8h-8zM240 162h8v8h-8zM272 162h8v8h-8zM304 162h8v8h-8zM696 162h8v8h-8zM1200 162h16v8h-16zM248 170h8v8h-8zM264 170h8v8h-8zM296 170h24v8h-24zM1192 170h8v8h-8zM256 178h8v8h-8zM288 178h24v8h-24zM320 178h16v8h-16zM704 178h8v8h-8zM1184 178h8v8h-8zM280 186h24v8h-24zM328 186h16v8h-16zM1168 186h8v8h-8zM320 194h40v8h-40zM712 194h8v8h-8zM1160 194h8v8h-8zM1152 202h8v8h-8zM720 210h8v8h-8zM1144 210h8v8h-8zM712 218h8v8h-8zM1120 218h8v8h-8zM704 226h8v8h-8zM1096 226h8v8h-8zM536 234h8v8h-8zM696 234h8v8h-8zM1040 234h16v8h-16zM624 242h8v8h-8zM688 242h8v8h-8zM928 242h8v8h-8zM992 242h8v8h-8zM1016 242h8v8h-8zM672 250h8v8h-8zM920 250h8v8h-8zM656 258h8v8h-8zM640 266h8v8h-8zM672 266h8v8h-8zM856 266h16v8h-16zM520 274h8v8h-8zM624 274h8v8h-8zM656 274h16v8h-16zM800 274h16v8h-16zM496 282h8v8h-8zM640 282h32v8h-32zM784 282h8v8h-8zM488 290h8v8h-8zM608 290h8v8h-8zM624 290h40v8h-40zM752 290h16v8h-16zM488 298h8v8h-8zM488 306h8v8h-8zM488 314h8v8h-8zM488 322h8v8h-8zM528 322h16v8h-16zM488 330h8v8h-8zM504 330h8v8h-8zM160 562h8v8h-8z"/>
<path fill="#1ccdd8" d="M808 82h8v8h-8zM1112 90h16v8h-16zM712 98h8v8h-8zM920 106h8v8h-8zM912 114h8v8h-8zM264 122h8v8h-8zM592 122h16v8h-16zM688 122h8v8h-8zM896 122h16v8h-16zM232 130h8v8h-8zM272 130h8v8h-8zM624 130h8v8h-8zM680 130h8v8h-8zM288 138h8v8h-8zM608 138h8v8h-8zM672 138h8v8h-8zM296 146h16v8h-16zM1248 146h8v8h-8zM312 154h16v8h-16zM672 154h8v8h-8zM1240 154h8v8h-8zM224 162h8v8h-8zM328 162h16v8h-16zM1224 162h16v8h-16zM336 170h16v8h-16zM696 170h8v8h-8zM1216 170h8v8h-8zM248 178h8v8h-8zM352 178h16v8h-16zM1200 178h8v8h-8zM256 186h8v8h-8zM368 186h16v8h-16zM704 186h8v8h-8zM1192 186h8v8h-8zM272 194h24v8h-24zM376 194h24v8h-24zM704 194h8v8h-8zM1176 194h8v8h-8zM312 202h32v8h-32zM392 202h8v8h-8zM704 202h8v8h-8zM1168 202h8v8h-8zM368 210h24v8h-24zM400 210h8v8h-8zM704 210h8v8h-8zM408 218h8v8h-8zM696 218h8v8h-8zM1144 218h8v8h-8zM688 226h8v8h-8zM1120 226h8v8h-8zM528 234h8v8h-8zM680 234h8v8h-8zM1088 234h8v8h-8zM672 242h8v8h-8zM944 242h8v8h-8zM960 242h32v8h-32zM656 250h8v8h-8zM624 258h8v8h-8zM640 258h8v8h-8zM504 266h8v8h-8zM520 266h8v8h-8zM624 266h8v8h-8zM688 266h8v8h-8zM888 266h16v8h-16zM496 274h8v8h-8zM696 274h8v8h-8zM856 274h8v8h-8zM488 282h8v8h-8zM672 282h8v8h-8zM704 282h8v8h-8zM792 282h16v8h-16zM480 290h8v8h-8zM664 290h8v8h-8zM712 290h8v8h-8zM776 290h8v8h-8zM480 298h8v8h-8zM608 298h8v8h-8zM624 298h16v8h-16zM656 298h8v8h-8zM720 298h8v8h-8zM480 306h8v8h-8zM480 314h8v8h-8zM584 314h8v8h-8zM480 322h8v8h-8zM552 322h16v8h-16zM480 330h8v8h-8zM528 330h8v8h-8zM480 338h8v8h-8zM496 338h16v8h-16zM160 554h8v8h-8z"/>
<path fill="#20c7df" d="M816 82h8v8h-8zM944 82h48v8h-48zM712 90h8v8h-8zM1168 90h8v8h-8zM232 114h8v8h-8zM264 114h8v8h-8zM584 114h32v8h-32zM624 114h8v8h-8zM688 114h8v8h-8zM896 114h16v8h-16zM1256 114h8v8h-8zM280 122h8v8h-8zM680 122h8v8h-8zM288 130h8v8h-8zM576 130h8v8h-8zM672 130h8v8h-8zM216 138h16v8h-16zM320 138h16v8h-16zM576 138h8v8h-8zM328 146h16v8h-16zM576 146h16v8h-16zM608 146h8v8h-8zM216 154h8v8h-8zM344 154h16v8h-16zM664 154h8v8h-8zM1256 154h8v8h-8zM216 162h8v8h-8zM360 162h16v8h-16zM224 170h8v8h-8zM368 170h16v8h-16zM688 170h8v8h-8zM1232 170h8v8h-8zM232 178h8v8h-8zM384 178h24v8h-24zM1224 178h8v8h-8zM240 186h8v8h-8zM400 186h8v8h-8zM696 186h8v8h-8zM1208 186h8v8h-8zM256 194h8v8h-8zM408 194h8v8h-8zM696 194h8v8h-8zM1192 194h8v8h-8zM280 202h8v8h-8zM408 202h8v8h-8zM696 202h8v8h-8zM1184 202h8v8h-8zM312 210h8v8h-8zM416 210h8v8h-8zM696 210h8v8h-8zM1168 210h8v8h-8zM336 218h48v8h-48zM424 218h8v8h-8zM688 218h8v8h-8zM1160 218h8v8h-8zM392 226h24v8h-24zM424 226h16v8h-16zM680 226h8v8h-8zM1144 226h8v8h-8zM424 234h16v8h-16zM480 234h8v8h-8zM632 234h8v8h-8zM664 234h8v8h-8zM1128 234h8v8h-8zM464 242h16v8h-16zM632 242h8v8h-8zM648 242h8v8h-8zM1040 242h8v8h-8zM1064 242h56v8h-56zM1232 242h16v8h-16zM472 250h8v8h-8zM632 250h8v8h-8zM936 250h8v8h-8zM1016 250h8v8h-8zM1224 250h24v8h-24zM472 258h8v8h-8zM496 258h8v8h-8zM520 258h8v8h-8zM1216 258h16v8h-16zM1240 258h8v8h-8zM488 266h8v8h-8zM904 266h8v8h-8zM1232 266h16v8h-16zM480 274h8v8h-8zM688 274h8v8h-8zM872 274h16v8h-16zM1232 274h16v8h-16zM472 282h8v8h-8zM696 282h8v8h-8zM840 282h24v8h-24zM472 290h8v8h-8zM672 290h8v8h-8zM704 290h8v8h-8zM792 290h8v8h-8zM472 298h8v8h-8zM664 298h8v8h-8zM712 298h8v8h-8zM768 298h8v8h-8zM472 306h8v8h-8zM608 306h8v8h-8zM632 306h8v8h-8zM656 306h8v8h-8zM1232 306h8v8h-8zM592 314h8v8h-8zM1232 314h16v8h-16zM464 322h8v8h-8zM464 330h8v8h-8zM552 330h8v8h-8zM520 338h8v8h-8zM488 346h8v8h-8zM152 546h16v8h-16zM136 554h8v8h-8z"/>
<path fill="#28bceb" d="M872 82h8v8h-8zM880 90h8v8h-8zM1184 90h8v8h-8zM272 98h8v8h-8zM560 98h56v8h-56zM688 98h8v8h-8zM1272 98h8v8h-8zM224 106h8v8h-8zM280 106h8v8h-8zM560 106h8v8h-8zM680 106h8v8h-8zM200 114h24v8h-24zM344 114h16v8h-16zM560 114h8v8h-8zM632 114h8v8h-8zM672 114h8v8h-8zM1280 114h8v8h-8zM360 122h16v8h-16zM560 122h8v8h-8zM1280 122h8v8h-8zM368 130h16v8h-16zM1280 130h8v8h-8zM384 138h40v8h-40zM640 138h8v8h-8zM1280 138h8v8h-8zM416 146h8v8h-8zM600 146h8v8h-8zM1280 146h8v8h-8zM200 154h8v8h-8zM424 154h8v8h-8zM600 154h8v8h-8zM632 154h8v8h-8zM1280 154h8v8h-8zM200 162h8v8h-8zM424 162h8v8h-8zM552 162h8v8h-8zM584 162h8v8h-8zM608 162h8v8h-8zM624 162h24v8h-24zM1272 162h8v8h-8zM200 170h8v8h-8zM432 170h8v8h-8zM552 170h8v8h-8zM568 170h8v8h-8zM648 170h8v8h-8zM1264 170h8v8h-8zM432 178h8v8h-8zM552 178h8v8h-8zM656 178h8v8h-8zM1256 178h8v8h-8zM216 186h8v8h-8zM440 186h8v8h-8zM600 186h16v8h-16zM664 186h8v8h-8zM1256 186h8v8h-8zM224 194h8v8h-8zM440 194h8v8h-8zM584 194h16v8h-16zM608 194h8v8h-8zM672 194h8v8h-8zM1256 194h8v8h-8zM240 202h8v8h-8zM448 202h8v8h-8zM568 202h16v8h-16zM608 202h16v8h-16zM672 202h8v8h-8zM1256 202h8v8h-8zM264 210h8v8h-8zM448 210h8v8h-8zM552 210h16v8h-16zM608 210h16v8h-16zM672 210h8v8h-8zM1200 210h16v8h-16zM1256 210h8v8h-8zM288 218h16v8h-16zM456 218h8v8h-8zM552 218h8v8h-8zM664 218h8v8h-8zM1184 218h8v8h-8zM1200 218h16v8h-16zM1256 218h8v8h-8zM296 226h16v8h-16zM464 226h8v8h-8zM480 226h8v8h-8zM496 226h8v8h-8zM544 226h8v8h-8zM648 226h8v8h-8zM1200 226h8v8h-8zM304 234h8v8h-8zM496 234h8v8h-8zM512 234h8v8h-8zM1160 234h8v8h-8zM1192 234h8v8h-8zM1264 234h8v8h-8zM304 242h16v8h-16zM1144 242h8v8h-8zM1264 242h8v8h-8zM304 250h16v8h-16zM344 250h32v8h-32zM976 250h16v8h-16zM1040 250h8v8h-8zM1056 250h16v8h-16zM1128 250h8v8h-8zM1184 250h8v8h-8zM312 258h8v8h-8zM336 258h8v8h-8zM944 258h8v8h-8zM968 258h8v8h-8zM1072 258h8v8h-8zM1120 258h8v8h-8zM1184 258h8v8h-8zM312 266h24v8h-24zM928 266h8v8h-8zM960 266h8v8h-8zM1016 266h8v8h-8zM1184 266h8v8h-8zM312 274h16v8h-16zM1008 274h8v8h-8zM1192 274h8v8h-8zM1264 274h8v8h-8zM400 282h8v8h-8zM888 282h16v8h-16zM1192 282h8v8h-8zM1264 282h8v8h-8zM408 290h24v8h-24zM864 290h8v8h-8zM1200 290h8v8h-8zM1264 290h8v8h-8zM416 298h32v8h-32zM680 298h16v8h-16zM824 298h32v8h-32zM1200 298h16v8h-16zM424 306h24v8h-24zM672 306h8v8h-8zM696 306h8v8h-8zM776 306h24v8h-24zM1208 306h8v8h-8zM1264 306h8v8h-8zM440 314h8v8h-8zM616 314h8v8h-8zM648 314h8v8h-8zM704 314h8v8h-8zM736 314h16v8h-16zM1208 314h8v8h-8zM440 322h8v8h-8zM712 322h8v8h-8zM1216 322h8v8h-8zM448 330h8v8h-8zM592 330h8v8h-8zM1224 330h16v8h-16zM1256 330h16v8h-16zM568 338h24v8h-24zM536 346h16v8h-16zM496 354h8v8h-8zM1240 354h8v8h-8zM488 362h8v8h-8zM1232 362h8v8h-8zM1248 362h8v8h-8zM152 370h8v8h-8zM1224 370h16v8h-16zM1248 370h8v8h-8zM136 378h24v8h-24zM1224 378h32v8h-32zM136 386h24v8h-24zM136 394h8v8h-8zM152 394h16v8h-16zM136 402h8v8h-8zM144 410h8v8h-8zM152 530h16v8h-16zM128 538h16v8h-16zM168 538h8v8h-8zM112 546h8v8h-8zM104 554h8v8h-8zM144 578h8v8h-8zM408 602h24v8h-24zM408 618h8v8h-8zM432 618h8v8h-8z"/>
<path fill="#2eb4f2" d="M880 82h8v8h-8zM224 90h8v8h-8zM272 90h8v8h-8zM552 90h8v8h-8zM688 90h8v8h-8zM192 98h32v8h-32zM288 98h80v8h-80zM632 98h8v8h-8zM680 98h8v8h-8zM1280 98h8v8h-8zM360 106h16v8h-16zM672 106h8v8h-8zM376 114h16v8h-16zM1288 114h8v8h-8zM392 122h40v8h-40zM640 122h16v8h-16zM432 130h8v8h-8zM432 138h8v8h-8zM544 138h8v8h-8zM440 146h8v8h-8zM544 146h8v8h-8zM192 154h8v8h-8zM440 154h8v8h-8zM544 154h8v8h-8zM192 162h8v8h-8zM448 162h8v8h-8zM544 162h8v8h-8zM592 162h8v8h-8zM1288 162h8v8h-8zM192 170h8v8h-8zM448 170h8v8h-8zM544 170h8v8h-8zM584 170h24v8h-24zM1280 170h8v8h-8zM192 178h8v8h-8zM456 178h8v8h-8zM544 178h8v8h-8zM568 178h8v8h-8zM584 178h16v8h-16zM1272 178h8v8h-8zM200 186h8v8h-8zM456 186h8v8h-8zM544 186h16v8h-16zM568 186h16v8h-16zM632 186h16v8h-16zM1272 186h8v8h-8zM208 194h8v8h-8zM464 194h8v8h-8zM552 194h16v8h-16zM632 194h24v8h-24zM1272 194h8v8h-8zM216 202h8v8h-8zM464 202h8v8h-8zM544 202h8v8h-8zM632 202h16v8h-16zM656 202h8v8h-8zM1272 202h8v8h-8zM240 210h16v8h-16zM472 210h8v8h-8zM536 210h8v8h-8zM632 210h16v8h-16zM656 210h8v8h-8zM1272 210h8v8h-8zM272 218h8v8h-8zM472 218h8v8h-8zM536 218h8v8h-8zM648 218h8v8h-8zM1272 218h8v8h-8zM272 226h16v8h-16zM512 226h8v8h-8zM528 226h8v8h-8zM1184 226h8v8h-8zM1272 226h8v8h-8zM280 234h8v8h-8zM1184 234h8v8h-8zM1280 234h8v8h-8zM280 242h8v8h-8zM1160 242h8v8h-8zM1176 242h8v8h-8zM1280 242h8v8h-8zM280 250h16v8h-16zM1144 250h8v8h-8zM1176 250h8v8h-8zM1280 250h8v8h-8zM288 258h8v8h-8zM1064 258h8v8h-8zM1136 258h8v8h-8zM1280 258h8v8h-8zM288 266h8v8h-8zM352 266h32v8h-32zM936 266h8v8h-8zM976 266h8v8h-8zM1072 266h8v8h-8zM1120 266h8v8h-8zM1176 266h8v8h-8zM1280 266h8v8h-8zM288 274h16v8h-16zM344 274h8v8h-8zM920 274h8v8h-8zM952 274h24v8h-24zM1016 274h8v8h-8zM1280 274h8v8h-8zM296 282h8v8h-8zM336 282h8v8h-8zM904 282h8v8h-8zM1184 282h8v8h-8zM1280 282h8v8h-8zM296 290h16v8h-16zM328 290h8v8h-8zM888 290h8v8h-8zM296 298h16v8h-16zM320 298h8v8h-8zM408 298h8v8h-8zM864 298h8v8h-8zM1192 298h8v8h-8zM1272 298h8v8h-8zM304 306h16v8h-16zM416 306h8v8h-8zM680 306h16v8h-16zM824 306h24v8h-24zM1280 306h8v8h-8zM304 314h8v8h-8zM672 314h8v8h-8zM768 314h32v8h-32zM1200 314h8v8h-8zM1280 314h8v8h-8zM616 322h16v8h-16zM736 322h16v8h-16zM1280 322h8v8h-8zM704 330h16v8h-16zM1208 330h8v8h-8zM1280 330h8v8h-8zM152 338h16v8h-16zM456 338h8v8h-8zM1224 338h8v8h-8zM1248 338h32v8h-32zM136 346h32v8h-32zM464 346h8v8h-8zM560 346h32v8h-32zM1216 346h16v8h-16zM1256 346h8v8h-8zM128 354h24v8h-24zM160 354h16v8h-16zM472 354h8v8h-8zM528 354h16v8h-16zM1216 354h8v8h-8zM1256 354h16v8h-16zM112 362h24v8h-24zM168 362h8v8h-8zM480 362h8v8h-8zM496 362h8v8h-8zM1216 362h8v8h-8zM1264 362h8v8h-8zM112 370h16v8h-16zM168 370h8v8h-8zM488 370h8v8h-8zM1208 370h8v8h-8zM1264 370h8v8h-8zM112 378h8v8h-8zM168 378h16v8h-16zM1200 378h16v8h-16zM1264 378h8v8h-8zM112 386h8v8h-8zM176 386h8v8h-8zM1200 386h8v8h-8zM1264 386h8v8h-8zM112 394h8v8h-8zM176 394h16v8h-16zM1192 394h24v8h-24zM1264 394h8v8h-8zM112 402h8v8h-8zM184 402h8v8h-8zM1200 402h72v8h-72zM120 410h8v8h-8zM152 410h8v8h-8zM168 410h8v8h-8zM1200 410h16v8h-16zM120 418h16v8h-16zM152 418h8v8h-8zM128 426h8v8h-8zM128 434h32v8h-32zM152 522h8v8h-8zM128 530h16v8h-16zM176 530h8v8h-8zM112 538h8v8h-8zM88 546h8v8h-8zM176 546h8v8h-8zM96 554h8v8h-8zM136 578h8v8h-8zM168 578h8v8h-8zM152 586h8v8h-8zM392 594h40v8h-40zM392 602h8v8h-8zM432 602h8v8h-8zM400 618h8v8h-8zM440 618h24v8h-24zM408 626h32v8h-32zM448 626h16v8h-16zM432 634h8v8h-8zM448 634h16v8h-16zM432 642h32v8h-32zM432 650h24v8h-24zM440 658h16v8h-16zM440 666h16v8h-16z"/>
<path fill="#27bee9" d="M936 82h8v8h-8zM704 90h8v8h-8zM232 98h40v8h-40zM616 98h16v8h-16zM696 98h8v8h-8zM888 98h32v8h-32zM1192 98h80v8h-80zM1272 106h8v8h-8zM224 114h8v8h-8zM288 114h56v8h-56zM1272 114h8v8h-8zM200 122h8v8h-8zM344 122h16v8h-16zM632 122h8v8h-8zM664 122h8v8h-8zM200 130h8v8h-8zM352 130h16v8h-16zM560 130h8v8h-8zM632 130h8v8h-8zM656 130h8v8h-8zM200 138h8v8h-8zM368 138h16v8h-16zM560 138h8v8h-8zM648 138h8v8h-8zM200 146h8v8h-8zM376 146h40v8h-40zM560 146h8v8h-8zM592 146h8v8h-8zM392 154h32v8h-32zM560 154h8v8h-8zM640 154h16v8h-16zM1272 154h8v8h-8zM416 162h8v8h-8zM560 162h8v8h-8zM576 162h8v8h-8zM648 162h16v8h-16zM1264 162h8v8h-8zM424 170h8v8h-8zM560 170h8v8h-8zM656 170h16v8h-16zM1256 170h8v8h-8zM208 178h8v8h-8zM424 178h8v8h-8zM664 178h16v8h-16zM1248 178h8v8h-8zM432 186h8v8h-8zM672 186h8v8h-8zM1248 186h8v8h-8zM232 194h8v8h-8zM432 194h8v8h-8zM600 194h8v8h-8zM1216 194h8v8h-8zM1248 194h8v8h-8zM248 202h8v8h-8zM440 202h8v8h-8zM584 202h24v8h-24zM1200 202h24v8h-24zM1248 202h8v8h-8zM272 210h16v8h-16zM440 210h8v8h-8zM568 210h16v8h-16zM600 210h8v8h-8zM1192 210h8v8h-8zM1216 210h8v8h-8zM1248 210h8v8h-8zM304 218h8v8h-8zM448 218h8v8h-8zM560 218h8v8h-8zM600 218h48v8h-48zM1176 218h8v8h-8zM1216 218h8v8h-8zM1248 218h8v8h-8zM312 226h8v8h-8zM456 226h8v8h-8zM488 226h8v8h-8zM640 226h8v8h-8zM656 226h8v8h-8zM1168 226h8v8h-8zM1208 226h16v8h-16zM1256 226h8v8h-8zM312 234h16v8h-16zM464 234h8v8h-8zM504 234h8v8h-8zM640 234h8v8h-8zM1152 234h8v8h-8zM1200 234h16v8h-16zM1256 234h8v8h-8zM320 242h8v8h-8zM336 242h40v8h-40zM488 242h16v8h-16zM520 242h8v8h-8zM1136 242h8v8h-8zM1192 242h8v8h-8zM1256 242h8v8h-8zM320 250h24v8h-24zM376 250h8v8h-8zM488 250h8v8h-8zM968 250h8v8h-8zM1032 250h8v8h-8zM1264 250h8v8h-8zM320 258h16v8h-16zM936 258h8v8h-8zM952 258h16v8h-16zM1016 258h8v8h-8zM1080 258h40v8h-40zM1264 258h8v8h-8zM392 266h24v8h-24zM920 266h8v8h-8zM1192 266h8v8h-8zM1264 266h8v8h-8zM400 274h48v8h-48zM904 274h8v8h-8zM1200 274h8v8h-8zM1256 274h8v8h-8zM408 282h40v8h-40zM880 282h8v8h-8zM1200 282h16v8h-16zM1256 282h8v8h-8zM432 290h24v8h-24zM688 290h8v8h-8zM856 290h8v8h-8zM1208 290h16v8h-16zM1256 290h8v8h-8zM448 298h8v8h-8zM696 298h8v8h-8zM800 298h24v8h-24zM1216 298h8v8h-8zM1256 298h8v8h-8zM448 306h8v8h-8zM768 306h8v8h-8zM1256 306h8v8h-8zM448 314h8v8h-8zM624 314h16v8h-16zM720 314h16v8h-16zM1216 314h8v8h-8zM1264 314h8v8h-8zM600 322h8v8h-8zM1264 322h8v8h-8zM1240 330h16v8h-16zM464 338h8v8h-8zM560 338h8v8h-8zM472 346h8v8h-8zM528 346h8v8h-8zM480 354h8v8h-8zM1240 362h8v8h-8zM1240 370h8v8h-8zM144 394h8v8h-8zM144 402h8v8h-8zM144 538h8v8h-8zM120 546h16v8h-16zM120 562h8v8h-8zM136 570h8v8h-8zM408 610h8v8h-8zM424 610h8v8h-8zM416 618h16v8h-16z"/>
<path fill="#25c0e7" d="M1168 82h8v8h-8zM928 90h8v8h-8zM1176 90h8v8h-8zM920 98h8v8h-8zM1184 98h8v8h-8zM272 106h8v8h-8zM568 106h48v8h-48zM688 106h8v8h-8zM896 106h16v8h-16zM1264 106h8v8h-8zM280 114h8v8h-8zM568 114h8v8h-8zM680 114h8v8h-8zM208 122h24v8h-24zM288 122h56v8h-56zM568 122h8v8h-8zM672 122h8v8h-8zM1272 122h8v8h-8zM336 130h16v8h-16zM568 130h8v8h-8zM1272 130h8v8h-8zM352 138h16v8h-16zM568 138h8v8h-8zM600 138h8v8h-8zM632 138h8v8h-8zM1272 138h8v8h-8zM360 146h16v8h-16zM568 146h8v8h-8zM632 146h16v8h-16zM1272 146h8v8h-8zM208 154h8v8h-8zM376 154h16v8h-16zM568 154h8v8h-8zM584 154h8v8h-8zM608 154h8v8h-8zM624 154h8v8h-8zM208 162h8v8h-8zM392 162h24v8h-24zM568 162h8v8h-8zM616 162h8v8h-8zM664 162h8v8h-8zM1256 162h8v8h-8zM208 170h8v8h-8zM416 170h8v8h-8zM672 170h8v8h-8zM1248 170h8v8h-8zM216 178h8v8h-8zM416 178h8v8h-8zM680 178h8v8h-8zM1240 178h8v8h-8zM224 186h8v8h-8zM424 186h8v8h-8zM680 186h8v8h-8zM1224 186h8v8h-8zM1240 186h8v8h-8zM424 194h8v8h-8zM680 194h8v8h-8zM1208 194h8v8h-8zM1224 194h8v8h-8zM1240 194h8v8h-8zM256 202h16v8h-16zM432 202h8v8h-8zM680 202h8v8h-8zM1192 202h8v8h-8zM1224 202h8v8h-8zM1240 202h8v8h-8zM288 210h8v8h-8zM432 210h8v8h-8zM584 210h16v8h-16zM680 210h8v8h-8zM1184 210h8v8h-8zM1224 210h8v8h-8zM1240 210h8v8h-8zM312 218h16v8h-16zM440 218h8v8h-8zM568 218h8v8h-8zM584 218h16v8h-16zM672 218h8v8h-8zM1224 218h8v8h-8zM320 226h16v8h-16zM344 226h16v8h-16zM448 226h8v8h-8zM552 226h8v8h-8zM664 226h8v8h-8zM1160 226h8v8h-8zM1224 226h8v8h-8zM1248 226h8v8h-8zM328 234h40v8h-40zM448 234h16v8h-16zM488 234h8v8h-8zM648 234h8v8h-8zM1144 234h8v8h-8zM1216 234h8v8h-8zM1248 234h8v8h-8zM328 242h8v8h-8zM376 242h32v8h-32zM504 242h16v8h-16zM1128 242h8v8h-8zM1200 242h16v8h-16zM384 250h56v8h-56zM496 250h8v8h-8zM520 250h8v8h-8zM952 250h16v8h-16zM1024 250h8v8h-8zM1072 250h56v8h-56zM1192 250h8v8h-8zM1256 250h8v8h-8zM384 258h72v8h-72zM480 258h16v8h-16zM928 258h8v8h-8zM1192 258h8v8h-8zM1256 258h8v8h-8zM416 266h40v8h-40zM480 266h8v8h-8zM1008 266h8v8h-8zM1200 266h8v8h-8zM1256 266h8v8h-8zM448 274h16v8h-16zM472 274h8v8h-8zM896 274h8v8h-8zM1208 274h16v8h-16zM448 282h16v8h-16zM872 282h8v8h-8zM1216 282h8v8h-8zM1248 282h8v8h-8zM456 290h8v8h-8zM680 290h8v8h-8zM832 290h24v8h-24zM1224 290h8v8h-8zM1248 290h8v8h-8zM456 298h8v8h-8zM672 298h8v8h-8zM784 298h16v8h-16zM1224 298h8v8h-8zM1248 298h8v8h-8zM456 306h8v8h-8zM664 306h8v8h-8zM704 306h8v8h-8zM736 306h32v8h-32zM1216 306h8v8h-8zM1248 306h8v8h-8zM456 314h8v8h-8zM608 314h8v8h-8zM640 314h8v8h-8zM712 314h8v8h-8zM1256 314h8v8h-8zM448 322h8v8h-8zM592 322h8v8h-8zM1224 322h8v8h-8zM1256 322h8v8h-8zM456 330h8v8h-8zM576 330h16v8h-16zM544 338h16v8h-16zM512 346h16v8h-16zM488 354h8v8h-8zM152 538h16v8h-16zM136 546h8v8h-8zM168 546h8v8h-8zM112 554h8v8h-8zM152 578h8v8h-8zM416 610h8v8h-8z"/>
<path fill="#1ad4d0" d="M720 90h8v8h-8zM816 90h8v8h-8zM1160 98h8v8h-8zM920 114h8v8h-8zM704 122h8v8h-8zM912 122h8v8h-8zM240 130h16v8h-16zM608 130h16v8h-16zM696 130h8v8h-8zM1200 130h40v8h-40zM264 138h8v8h-8zM688 138h8v8h-8zM896 138h8v8h-8zM1224 138h16v8h-16zM896 146h8v8h-8zM1208 146h24v8h-24zM232 154h8v8h-8zM272 154h8v8h-8zM688 154h8v8h-8zM896 154h8v8h-8zM1192 154h24v8h-24zM264 162h8v8h-8zM896 162h8v8h-8zM1184 162h16v8h-16zM256 170h8v8h-8zM704 170h8v8h-8zM896 170h8v8h-8zM1176 170h16v8h-16zM312 178h8v8h-8zM896 178h8v8h-8zM1168 178h16v8h-16zM304 186h24v8h-24zM712 186h8v8h-8zM896 186h8v8h-8zM1160 186h8v8h-8zM896 194h8v8h-8zM1152 194h8v8h-8zM720 202h8v8h-8zM896 202h8v8h-8zM728 210h8v8h-8zM904 210h8v8h-8zM1136 210h8v8h-8zM720 218h8v8h-8zM912 218h8v8h-8zM1112 218h8v8h-8zM712 226h16v8h-16zM920 226h8v8h-8zM1080 226h16v8h-16zM584 234h48v8h-48zM704 234h24v8h-24zM928 234h8v8h-8zM528 242h8v8h-8zM696 242h32v8h-32zM1008 242h8v8h-8zM680 250h48v8h-48zM664 258h24v8h-24zM696 258h32v8h-32zM904 258h8v8h-8zM648 266h24v8h-24zM704 266h24v8h-24zM824 266h32v8h-32zM512 274h8v8h-8zM616 274h8v8h-8zM632 274h24v8h-24zM712 274h16v8h-16zM792 274h8v8h-8zM504 282h8v8h-8zM616 282h24v8h-24zM720 282h8v8h-8zM776 282h8v8h-8zM496 290h8v8h-8zM496 298h8v8h-8zM496 306h8v8h-8zM496 314h8v8h-8zM552 314h32v8h-32zM496 322h8v8h-8zM520 322h8v8h-8zM496 330h8v8h-8z"/>
<path fill="#18ddc2" d="M728 90h8v8h-8zM792 90h8v8h-8zM816 98h8v8h-8zM856 106h8v8h-8zM864 114h8v8h-8zM720 122h8v8h-8zM872 122h8v8h-8zM880 130h8v8h-8zM1184 130h8v8h-8zM704 138h8v8h-8zM888 138h8v8h-8zM1160 138h8v8h-8zM248 146h8v8h-8zM696 146h8v8h-8zM904 146h8v8h-8zM1152 146h8v8h-8zM704 154h8v8h-8zM904 154h8v8h-8zM1152 154h8v8h-8zM712 162h8v8h-8zM904 162h8v8h-8zM1152 162h8v8h-8zM904 170h8v8h-8zM904 178h8v8h-8zM904 186h8v8h-8zM1144 186h8v8h-8zM888 194h8v8h-8zM904 194h8v8h-8zM1136 194h8v8h-8zM736 202h16v8h-16zM1120 202h8v8h-8zM888 210h8v8h-8zM1080 218h8v8h-8zM744 226h16v8h-16zM1040 226h8v8h-8zM1008 234h8v8h-8zM592 242h24v8h-24zM848 250h16v8h-16zM904 250h8v8h-8zM528 258h8v8h-8zM784 266h8v8h-8zM608 274h8v8h-8zM744 274h24v8h-24zM512 298h8v8h-8zM512 306h8v8h-8zM528 306h56v8h-56z"/>
<path fill="#18e0bd" d="M736 90h56v8h-56zM728 98h8v8h-8zM808 98h8v8h-8zM944 106h8v8h-8zM1096 106h64v8h-64zM936 114h8v8h-8zM720 130h8v8h-8zM712 138h8v8h-8zM1152 138h8v8h-8zM760 146h8v8h-8zM888 146h8v8h-8zM712 154h8v8h-8zM888 154h8v8h-8zM888 162h8v8h-8zM888 170h8v8h-8zM1144 170h8v8h-8zM720 178h8v8h-8zM888 178h8v8h-8zM1144 178h8v8h-8zM888 186h8v8h-8zM728 194h8v8h-8zM1128 194h8v8h-8zM752 202h8v8h-8zM880 202h8v8h-8zM768 218h8v8h-8zM896 218h8v8h-8zM1072 218h8v8h-8zM760 226h8v8h-8zM904 226h8v8h-8zM1032 226h8v8h-8zM744 234h8v8h-8zM912 234h8v8h-8zM992 234h16v8h-16zM744 242h8v8h-8zM912 242h8v8h-8zM744 250h8v8h-8zM816 250h32v8h-32zM864 250h8v8h-8zM896 250h8v8h-8zM608 258h8v8h-8zM744 258h8v8h-8zM792 258h8v8h-8zM608 266h8v8h-8zM744 266h8v8h-8zM776 266h8v8h-8zM520 298h8v8h-8zM584 298h8v8h-8zM520 306h8v8h-8z"/>
<path fill="#18d9c8" d="M800 90h8v8h-8zM824 98h32v8h-32zM952 98h152v8h-152zM720 106h8v8h-8zM936 106h8v8h-8zM704 130h8v8h-8zM248 138h8v8h-8zM696 138h8v8h-8zM1184 138h24v8h-24zM240 146h8v8h-8zM264 146h8v8h-8zM688 146h8v8h-8zM1168 146h24v8h-24zM256 154h8v8h-8zM696 154h8v8h-8zM1168 154h8v8h-8zM1160 162h8v8h-8zM1160 170h8v8h-8zM712 178h8v8h-8zM1152 186h8v8h-8zM720 194h8v8h-8zM1144 194h8v8h-8zM1136 202h8v8h-8zM752 210h16v8h-16zM736 218h16v8h-16zM1088 218h8v8h-8zM1056 226h8v8h-8zM936 234h16v8h-16zM960 234h32v8h-32zM1024 234h8v8h-8zM920 242h8v8h-8zM528 250h8v8h-8zM616 250h8v8h-8zM912 250h8v8h-8zM840 258h24v8h-24zM872 258h16v8h-16zM792 266h8v8h-8zM776 274h8v8h-8zM760 282h8v8h-8zM512 290h8v8h-8zM504 298h8v8h-8zM592 298h8v8h-8zM504 306h8v8h-8zM504 314h8v8h-8zM520 314h16v8h-16z"/>
<path fill="#18d7ca" d="M808 90h8v8h-8zM720 98h8v8h-8zM856 98h8v8h-8zM944 98h8v8h-8zM1104 98h56v8h-56zM864 106h8v8h-8zM1168 106h8v8h-8zM872 114h8v8h-8zM1176 114h8v8h-8zM712 122h8v8h-8zM880 122h8v8h-8zM1184 122h8v8h-8zM888 130h8v8h-8zM904 130h8v8h-8zM1192 130h8v8h-8zM240 138h8v8h-8zM256 138h8v8h-8zM616 138h8v8h-8zM1208 138h16v8h-16zM272 146h8v8h-8zM680 146h8v8h-8zM1192 146h16v8h-16zM240 154h8v8h-8zM264 154h8v8h-8zM1176 154h16v8h-16zM248 162h16v8h-16zM704 162h8v8h-8zM1168 162h16v8h-16zM1168 170h8v8h-8zM1160 178h8v8h-8zM1144 202h8v8h-8zM736 210h16v8h-16zM1120 210h16v8h-16zM728 218h8v8h-8zM1096 218h16v8h-16zM728 226h8v8h-8zM1064 226h16v8h-16zM544 234h8v8h-8zM728 234h8v8h-8zM952 234h8v8h-8zM1032 234h8v8h-8zM728 242h8v8h-8zM1000 242h8v8h-8zM728 250h8v8h-8zM616 258h8v8h-8zM728 258h8v8h-8zM888 258h16v8h-16zM616 266h8v8h-8zM728 266h8v8h-8zM800 266h24v8h-24zM728 274h8v8h-8zM784 274h8v8h-8zM512 282h16v8h-16zM728 282h32v8h-32zM768 282h8v8h-8zM504 290h8v8h-8zM584 306h8v8h-8zM536 314h16v8h-16zM504 322h16v8h-16z"/>
<path fill="#1fc9dd" d="M864 90h8v8h-8zM936 90h8v8h-8zM872 98h8v8h-8zM928 98h8v8h-8zM1176 98h8v8h-8zM704 106h8v8h-8zM880 106h8v8h-8zM1184 106h8v8h-8zM240 114h24v8h-24zM616 114h8v8h-8zM696 114h8v8h-8zM888 114h8v8h-8zM1192 114h64v8h-64zM232 122h8v8h-8zM272 122h8v8h-8zM584 122h8v8h-8zM624 122h8v8h-8zM1256 122h8v8h-8zM280 130h8v8h-8zM584 130h8v8h-8zM1256 130h8v8h-8zM296 138h24v8h-24zM584 138h16v8h-16zM664 138h8v8h-8zM1256 138h8v8h-8zM216 146h16v8h-16zM312 146h16v8h-16zM624 146h8v8h-8zM656 146h8v8h-8zM1256 146h8v8h-8zM328 154h16v8h-16zM616 154h8v8h-8zM1248 154h8v8h-8zM344 162h16v8h-16zM680 162h8v8h-8zM1240 162h8v8h-8zM232 170h8v8h-8zM352 170h16v8h-16zM1224 170h8v8h-8zM240 178h8v8h-8zM368 178h16v8h-16zM696 178h8v8h-8zM1208 178h16v8h-16zM248 186h8v8h-8zM384 186h16v8h-16zM1200 186h8v8h-8zM264 194h8v8h-8zM400 194h8v8h-8zM1184 194h8v8h-8zM288 202h24v8h-24zM400 202h8v8h-8zM1176 202h8v8h-8zM320 210h48v8h-48zM408 210h8v8h-8zM1160 210h8v8h-8zM384 218h24v8h-24zM416 218h8v8h-8zM1152 218h8v8h-8zM416 226h8v8h-8zM560 226h8v8h-8zM584 226h56v8h-56zM1128 226h16v8h-16zM672 234h8v8h-8zM1096 234h32v8h-32zM656 242h16v8h-16zM952 242h8v8h-8zM1032 242h8v8h-8zM640 250h16v8h-16zM928 250h8v8h-8zM1008 250h8v8h-8zM504 258h16v8h-16zM632 258h8v8h-8zM920 258h8v8h-8zM1000 258h8v8h-8zM1232 258h8v8h-8zM496 266h8v8h-8zM488 274h8v8h-8zM680 274h8v8h-8zM864 274h8v8h-8zM480 282h8v8h-8zM808 282h32v8h-32zM784 290h8v8h-8zM616 298h8v8h-8zM728 298h40v8h-40zM600 306h8v8h-8zM640 306h16v8h-16zM472 314h8v8h-8zM472 322h8v8h-8zM568 322h16v8h-16zM472 330h8v8h-8zM536 330h16v8h-16zM512 338h8v8h-8zM144 554h16v8h-16zM136 562h8v8h-8zM152 570h8v8h-8z"/>
<path fill="#1ce6b4" d="M736 98h8v8h-8zM808 106h8v8h-8zM832 114h24v8h-24zM1080 114h32v8h-32zM1136 114h16v8h-16zM856 122h8v8h-8zM864 130h8v8h-8zM928 130h8v8h-8zM792 138h8v8h-8zM872 138h8v8h-8zM920 138h8v8h-8zM720 146h8v8h-8zM880 146h8v8h-8zM736 154h8v8h-8zM880 154h8v8h-8zM744 162h8v8h-8zM760 162h8v8h-8zM880 162h8v8h-8zM728 170h8v8h-8zM752 170h8v8h-8zM880 170h8v8h-8zM1128 170h8v8h-8zM1128 178h8v8h-8zM736 186h8v8h-8zM872 186h8v8h-8zM1120 186h8v8h-8zM752 194h8v8h-8zM768 202h8v8h-8zM1104 202h8v8h-8zM928 210h8v8h-8zM1080 210h8v8h-8zM880 218h8v8h-8zM936 218h8v8h-8zM1032 218h8v8h-8zM784 226h8v8h-8zM992 226h8v8h-8zM776 234h8v8h-8zM832 234h48v8h-48zM536 242h8v8h-8zM576 242h8v8h-8zM768 242h8v8h-8zM792 242h8v8h-8zM880 242h8v8h-8zM896 242h8v8h-8zM760 250h8v8h-8zM768 258h8v8h-8zM600 266h8v8h-8zM600 274h8v8h-8z"/>
<path fill="#1fe9af" d="M744 98h48v8h-48zM736 106h8v8h-8zM824 114h8v8h-8zM952 114h128v8h-128zM728 130h8v8h-8zM1144 130h8v8h-8zM728 146h8v8h-8zM920 146h8v8h-8zM1136 146h8v8h-8zM728 154h8v8h-8zM768 154h8v8h-8zM728 162h16v8h-16zM1128 162h8v8h-8zM744 170h8v8h-8zM736 178h8v8h-8zM872 178h8v8h-8zM864 194h8v8h-8zM920 194h8v8h-8zM776 210h8v8h-8zM872 210h8v8h-8zM1072 210h8v8h-8zM784 218h8v8h-8zM1024 218h8v8h-8zM792 226h8v8h-8zM888 226h8v8h-8zM784 234h8v8h-8zM800 234h32v8h-32zM880 234h8v8h-8zM776 242h8v8h-8zM888 242h8v8h-8zM768 250h16v8h-16zM600 258h8v8h-8zM760 258h8v8h-8zM528 282h8v8h-8zM592 282h8v8h-8zM584 290h8v8h-8z"/>
<path fill="#1ae4b6" d="M792 98h8v8h-8zM816 106h8v8h-8zM944 114h8v8h-8zM1112 114h24v8h-24zM1152 114h8v8h-8zM728 122h8v8h-8zM936 122h8v8h-8zM1160 122h8v8h-8zM760 138h8v8h-8zM1144 138h8v8h-8zM736 146h8v8h-8zM720 154h8v8h-8zM744 154h8v8h-8zM912 154h8v8h-8zM1136 154h8v8h-8zM752 162h8v8h-8zM912 162h8v8h-8zM1136 162h8v8h-8zM912 170h8v8h-8zM728 178h8v8h-8zM880 178h8v8h-8zM912 178h8v8h-8zM912 186h8v8h-8zM1128 186h8v8h-8zM744 194h8v8h-8zM872 194h8v8h-8zM1112 194h8v8h-8zM872 202h8v8h-8zM920 202h8v8h-8zM1088 210h8v8h-8zM1040 218h8v8h-8zM896 226h8v8h-8zM976 226h16v8h-16zM1000 226h16v8h-16zM904 234h8v8h-8zM800 242h24v8h-24zM872 242h8v8h-8zM904 242h8v8h-8zM592 250h16v8h-16zM752 250h8v8h-8zM784 250h8v8h-8zM752 258h8v8h-8zM528 274h8v8h-8zM528 298h56v8h-56z"/>
<path fill="#19e3b9" d="M800 98h8v8h-8zM728 114h8v8h-8zM1152 130h16v8h-16zM720 138h8v8h-8zM784 138h8v8h-8zM712 146h8v8h-8zM744 146h8v8h-8zM912 146h8v8h-8zM1144 146h8v8h-8zM752 154h8v8h-8zM720 162h8v8h-8zM1136 170h8v8h-8zM1136 178h8v8h-8zM880 186h8v8h-8zM736 194h8v8h-8zM912 194h8v8h-8zM760 202h8v8h-8zM880 210h8v8h-8zM1096 210h8v8h-8zM888 218h8v8h-8zM1048 218h8v8h-8zM776 226h8v8h-8zM968 226h8v8h-8zM1016 226h8v8h-8zM568 234h8v8h-8zM768 234h8v8h-8zM752 242h16v8h-16zM824 242h32v8h-32zM792 250h8v8h-8zM776 258h8v8h-8zM752 266h16v8h-16zM600 282h8v8h-8z"/>
<path fill="#19e2bb" d="M728 106h8v8h-8zM824 106h32v8h-32zM952 106h144v8h-144zM856 114h8v8h-8zM1160 114h8v8h-8zM864 122h8v8h-8zM928 122h8v8h-8zM1168 122h8v8h-8zM872 130h8v8h-8zM920 130h8v8h-8zM1168 130h16v8h-16zM768 138h16v8h-16zM880 138h8v8h-8zM912 138h8v8h-8zM704 146h8v8h-8zM752 146h8v8h-8zM760 154h8v8h-8zM1144 154h8v8h-8zM1144 162h8v8h-8zM720 170h8v8h-8zM728 186h8v8h-8zM1136 186h8v8h-8zM880 194h8v8h-8zM1120 194h8v8h-8zM912 202h8v8h-8zM1112 202h8v8h-8zM768 210h8v8h-8zM920 210h8v8h-8zM1104 210h8v8h-8zM776 218h8v8h-8zM928 218h8v8h-8zM1056 218h16v8h-16zM768 226h8v8h-8zM936 226h32v8h-32zM1024 226h8v8h-8zM560 234h8v8h-8zM752 234h16v8h-16zM584 242h8v8h-8zM856 242h16v8h-16zM608 250h8v8h-8zM800 250h16v8h-16zM872 250h24v8h-24zM784 258h8v8h-8zM528 266h8v8h-8zM768 266h8v8h-8zM592 290h8v8h-8z"/>
<path fill="#2aefa1" d="M744 106h40v8h-40zM800 114h8v8h-8zM824 122h8v8h-8zM1112 130h16v8h-16zM736 138h8v8h-8zM816 138h8v8h-8zM784 146h8v8h-8zM1120 146h8v8h-8zM864 154h8v8h-8zM864 162h8v8h-8zM1112 170h8v8h-8zM752 178h8v8h-8zM856 178h8v8h-8zM848 186h8v8h-8zM936 194h8v8h-8zM1080 202h8v8h-8zM816 210h32v8h-32zM1000 210h16v8h-16zM560 242h8v8h-8zM576 250h8v8h-8z"/>
<path fill="#27eea4" d="M784 106h8v8h-8zM960 122h112v8h-112zM736 130h8v8h-8zM848 130h8v8h-8zM944 130h8v8h-8zM744 138h8v8h-8zM856 138h8v8h-8zM936 138h8v8h-8zM1128 138h8v8h-8zM864 146h8v8h-8zM872 154h8v8h-8zM928 154h8v8h-8zM1120 154h8v8h-8zM864 170h8v8h-8zM752 186h8v8h-8zM928 186h8v8h-8zM1104 186h8v8h-8zM768 194h8v8h-8zM848 194h8v8h-8zM1096 194h8v8h-8zM776 202h8v8h-8zM936 202h8v8h-8zM1088 202h8v8h-8zM784 210h8v8h-8zM848 210h16v8h-16zM944 210h8v8h-8zM1016 210h8v8h-8zM792 218h8v8h-8zM808 218h16v8h-16zM536 250h8v8h-8zM592 266h8v8h-8zM584 282h8v8h-8z"/>
<path fill="#22ebaa" d="M792 106h8v8h-8zM736 114h8v8h-8zM816 114h8v8h-8zM1096 122h56v8h-56zM936 130h8v8h-8zM808 138h8v8h-8zM928 138h8v8h-8zM1128 146h8v8h-8zM920 154h8v8h-8zM920 162h8v8h-8zM872 170h8v8h-8zM920 170h8v8h-8zM1120 170h8v8h-8zM864 178h8v8h-8zM920 178h8v8h-8zM760 194h8v8h-8zM856 194h8v8h-8zM1096 202h8v8h-8zM864 210h8v8h-8zM1048 210h16v8h-16zM968 218h16v8h-16zM1000 218h8v8h-8zM808 226h32v8h-32zM880 226h8v8h-8zM568 242h8v8h-8zM528 290h8v8h-8z"/>
<path fill="#20eaac" d="M800 106h8v8h-8zM848 122h8v8h-8zM944 122h8v8h-8zM1152 122h8v8h-8zM856 130h8v8h-8zM728 138h8v8h-8zM752 138h8v8h-8zM800 138h8v8h-8zM864 138h8v8h-8zM1136 138h8v8h-8zM776 146h8v8h-8zM872 146h8v8h-8zM1128 154h8v8h-8zM736 170h8v8h-8zM744 178h8v8h-8zM1120 178h8v8h-8zM744 186h8v8h-8zM864 186h8v8h-8zM920 186h8v8h-8zM1112 186h8v8h-8zM1104 194h8v8h-8zM864 202h8v8h-8zM928 202h8v8h-8zM936 210h8v8h-8zM1064 210h8v8h-8zM872 218h8v8h-8zM944 218h24v8h-24zM1008 218h16v8h-16zM840 226h40v8h-40zM792 234h8v8h-8zM888 234h16v8h-16zM544 242h8v8h-8zM784 242h8v8h-8zM584 250h8v8h-8z"/>
<path fill="#18dbc5" d="M1160 106h8v8h-8zM720 114h8v8h-8zM928 114h8v8h-8zM1168 114h8v8h-8zM920 122h8v8h-8zM1176 122h8v8h-8zM712 130h8v8h-8zM912 130h8v8h-8zM904 138h8v8h-8zM1168 138h16v8h-16zM256 146h8v8h-8zM768 146h8v8h-8zM1160 146h8v8h-8zM248 154h8v8h-8zM1160 154h8v8h-8zM712 170h8v8h-8zM1152 170h8v8h-8zM1152 178h8v8h-8zM720 186h8v8h-8zM728 202h8v8h-8zM888 202h8v8h-8zM904 202h8v8h-8zM1128 202h8v8h-8zM896 210h8v8h-8zM912 210h8v8h-8zM1112 210h8v8h-8zM752 218h16v8h-16zM904 218h8v8h-8zM920 218h8v8h-8zM736 226h8v8h-8zM912 226h8v8h-8zM928 226h8v8h-8zM1048 226h8v8h-8zM552 234h8v8h-8zM576 234h8v8h-8zM736 234h8v8h-8zM920 234h8v8h-8zM1016 234h8v8h-8zM616 242h8v8h-8zM736 242h8v8h-8zM736 250h8v8h-8zM736 258h8v8h-8zM800 258h40v8h-40zM864 258h8v8h-8zM736 266h8v8h-8zM736 274h8v8h-8zM768 274h8v8h-8zM608 282h8v8h-8zM520 290h8v8h-8zM600 290h8v8h-8zM512 314h8v8h-8z"/>
<path fill="#2ff19b" d="M744 114h8v8h-8zM792 114h8v8h-8zM816 122h8v8h-8zM768 130h8v8h-8zM840 130h8v8h-8zM952 130h8v8h-8zM1096 130h16v8h-16zM1128 130h8v8h-8zM848 138h8v8h-8zM944 138h8v8h-8zM1120 138h8v8h-8zM856 146h8v8h-8zM936 146h8v8h-8zM856 154h8v8h-8zM856 162h8v8h-8zM928 162h8v8h-8zM1112 162h8v8h-8zM760 170h8v8h-8zM856 170h8v8h-8zM928 178h8v8h-8zM1104 178h8v8h-8zM824 202h32v8h-32zM1072 202h8v8h-8zM952 210h16v8h-16zM976 210h24v8h-24zM800 218h8v8h-8zM536 258h8v8h-8z"/>
<path fill="#3cf58e" d="M752 114h8v8h-8zM792 122h8v8h-8zM752 130h8v8h-8zM792 130h8v8h-8zM816 130h8v8h-8zM1072 130h8v8h-8zM960 138h8v8h-8zM1112 138h8v8h-8zM952 146h8v8h-8zM944 154h8v8h-8zM936 170h8v8h-8zM1104 170h8v8h-8zM832 178h8v8h-8zM832 186h8v8h-8zM1088 186h8v8h-8zM824 194h8v8h-8zM1080 194h8v8h-8zM960 202h32v8h-32zM800 210h8v8h-8zM576 258h8v8h-8zM536 274h8v8h-8z"/>
<path fill="#3ff68a" d="M760 114h16v8h-16zM752 122h8v8h-8zM832 138h8v8h-8zM800 146h8v8h-8zM832 154h8v8h-8zM832 162h8v8h-8zM944 162h8v8h-8zM1104 162h8v8h-8zM832 170h8v8h-8zM760 178h8v8h-8zM944 178h8v8h-8zM784 194h8v8h-8zM952 194h8v8h-8zM544 250h8v8h-8zM560 250h8v8h-8zM576 266h8v8h-8zM576 274h8v8h-8z"/>
<path fill="#38f491" d="M776 114h8v8h-8zM800 122h8v8h-8zM784 130h8v8h-8zM824 130h8v8h-8zM992 130h8v8h-8zM1080 130h8v8h-8zM840 138h8v8h-8zM840 146h8v8h-8zM1112 146h8v8h-8zM840 154h8v8h-8zM936 162h8v8h-8zM1096 178h8v8h-8zM768 186h8v8h-8zM944 186h8v8h-8zM816 202h8v8h-8zM952 202h8v8h-8zM992 202h16v8h-16z"/>
<path fill="#35f394" d="M784 114h8v8h-8zM808 122h8v8h-8zM744 130h8v8h-8zM960 130h32v8h-32zM824 138h8v8h-8zM952 138h8v8h-8zM792 146h8v8h-8zM848 146h8v8h-8zM944 146h8v8h-8zM1112 154h8v8h-8zM840 162h8v8h-8zM840 170h8v8h-8zM840 178h8v8h-8zM936 178h8v8h-8zM832 194h8v8h-8zM944 194h8v8h-8zM784 202h8v8h-8zM1008 202h8v8h-8zM1040 202h16v8h-16zM792 210h8v8h-8zM808 210h8v8h-8zM568 250h8v8h-8zM536 266h8v8h-8zM584 266h8v8h-8zM584 274h8v8h-8zM536 282h8v8h-8z"/>
<path fill="#25eca7" d="M808 114h8v8h-8zM736 122h8v8h-8zM832 122h16v8h-16zM952 122h8v8h-8zM1072 122h24v8h-24zM1136 130h8v8h-8zM928 146h8v8h-8zM872 162h8v8h-8zM1120 162h8v8h-8zM1112 178h8v8h-8zM856 186h8v8h-8zM928 194h8v8h-8zM856 202h8v8h-8zM1024 210h24v8h-24zM824 218h48v8h-48zM984 218h16v8h-16zM800 226h8v8h-8zM552 242h8v8h-8zM592 258h8v8h-8zM592 274h8v8h-8zM536 290h48v8h-48z"/>
<path fill="#32f298" d="M744 122h8v8h-8zM760 130h8v8h-8zM776 130h8v8h-8zM832 130h8v8h-8zM1088 130h8v8h-8zM776 154h8v8h-8zM848 154h8v8h-8zM936 154h8v8h-8zM768 162h8v8h-8zM848 162h8v8h-8zM848 170h8v8h-8zM928 170h8v8h-8zM848 178h8v8h-8zM760 186h8v8h-8zM840 186h8v8h-8zM936 186h8v8h-8zM1096 186h8v8h-8zM776 194h8v8h-8zM840 194h8v8h-8zM1088 194h8v8h-8zM944 202h8v8h-8zM1016 202h24v8h-24zM1056 202h16v8h-16zM968 210h8v8h-8zM584 258h8v8h-8zM544 282h40v8h-40z"/>
<path fill="#55fa76" d="M760 122h8v8h-8zM1000 138h8v8h-8zM976 146h8v8h-8zM968 154h8v8h-8zM824 162h8v8h-8zM960 162h8v8h-8zM824 170h8v8h-8zM960 170h8v8h-8zM1088 170h8v8h-8zM824 178h8v8h-8zM968 178h16v8h-16zM1080 178h8v8h-8zM984 186h64v8h-64zM1072 186h8v8h-8zM792 194h8v8h-8z"/>
<path fill="#52fa7a" d="M768 122h8v8h-8zM1088 138h8v8h-8zM784 154h8v8h-8zM1096 162h8v8h-8zM952 170h8v8h-8zM960 178h8v8h-8zM784 186h8v8h-8zM976 186h8v8h-8zM808 194h8v8h-8zM568 266h8v8h-8z"/>
<path fill="#4af880" d="M776 122h8v8h-8zM1040 130h24v8h-24zM992 138h8v8h-8zM1104 146h8v8h-8zM768 170h8v8h-8zM1096 170h8v8h-8zM952 178h8v8h-8zM1088 178h8v8h-8zM960 186h8v8h-8zM1080 186h8v8h-8zM816 194h8v8h-8zM968 194h24v8h-24zM1048 194h16v8h-16zM552 250h8v8h-8zM568 258h8v8h-8z"/>
<path fill="#46f884" d="M784 122h8v8h-8zM800 130h16v8h-16zM1000 130h40v8h-40zM1064 130h8v8h-8zM968 138h24v8h-24zM1104 138h8v8h-8zM832 146h8v8h-8zM960 146h8v8h-8zM952 154h8v8h-8zM1104 154h8v8h-8zM944 170h8v8h-8zM776 186h8v8h-8zM952 186h8v8h-8zM960 194h8v8h-8zM992 194h56v8h-56zM1064 194h16v8h-16zM792 202h8v8h-8zM808 202h8v8h-8zM544 274h32v8h-32z"/>
<path fill="#61fc6c" d="M1008 138h8v8h-8zM984 154h8v8h-8zM984 162h16v8h-16zM1000 170h16v8h-16zM784 178h8v8h-8zM1016 178h16v8h-16zM1072 178h8v8h-8zM792 186h8v8h-8zM808 186h8v8h-8z"/>
<path fill="#6dfe62" d="M1016 138h24v8h-24zM1000 146h8v8h-8zM1088 154h8v8h-8zM784 162h8v8h-8zM1008 162h8v8h-8zM776 170h8v8h-8zM816 178h8v8h-8zM1048 178h16v8h-16z"/>
<path fill="#75fe5c" d="M1040 138h8v8h-8zM1056 138h8v8h-8zM800 154h8v8h-8zM1016 162h8v8h-8zM1080 162h8v8h-8zM1072 170h8v8h-8zM792 178h8v8h-8zM808 178h8v8h-8z"/>
<path fill="#79fe59" d="M1048 138h8v8h-8zM1008 146h8v8h-8zM784 170h8v8h-8zM1032 170h16v8h-16z"/>
<path fill="#65fd69" d="M1064 138h8v8h-8zM792 154h8v8h-8zM992 154h8v8h-8zM1000 162h8v8h-8zM1088 162h8v8h-8zM1016 170h8v8h-8zM1080 170h8v8h-8zM1032 178h16v8h-16zM552 258h8v8h-8z"/>
<path fill="#5dfc6f" d="M1072 138h8v8h-8zM992 146h8v8h-8zM1096 146h8v8h-8zM976 162h8v8h-8zM984 170h16v8h-16zM1000 178h16v8h-16zM1064 186h8v8h-8zM800 194h8v8h-8z"/>
<path fill="#59fb73" d="M1080 138h8v8h-8zM816 146h16v8h-16zM984 146h8v8h-8zM824 154h8v8h-8zM976 154h8v8h-8zM1096 154h8v8h-8zM968 162h8v8h-8zM968 170h16v8h-16zM776 178h8v8h-8zM984 178h16v8h-16zM816 186h8v8h-8zM1048 186h16v8h-16zM544 258h8v8h-8zM560 258h8v8h-8zM544 266h24v8h-24z"/>
<path fill="#4ef97d" d="M1096 138h8v8h-8zM808 146h8v8h-8zM968 146h8v8h-8zM960 154h8v8h-8zM776 162h8v8h-8zM952 162h8v8h-8zM768 178h8v8h-8zM824 186h8v8h-8zM968 186h8v8h-8zM800 202h8v8h-8z"/>
<path fill="#84ff51" d="M1016 146h8v8h-8zM1072 146h8v8h-8zM1016 154h8v8h-8zM808 162h8v8h-8zM1040 162h8v8h-8zM1072 162h8v8h-8zM792 170h8v8h-8zM808 170h8v8h-8z"/>
<path fill="#8bff4b" d="M1024 146h8v8h-8zM1024 154h8v8h-8zM792 162h8v8h-8zM1056 162h16v8h-16z"/>
<path fill="#92ff47" d="M1032 146h8v8h-8zM1056 146h8v8h-8zM1040 154h16v8h-16z"/>
<path fill="#9cfe40" d="M1040 146h16v8h-16zM1064 154h8v8h-8zM800 162h8v8h-8z"/>
<path fill="#88ff4e" d="M1064 146h8v8h-8zM1032 162h8v8h-8zM1048 162h8v8h-8z"/>
<path fill="#7dff56" d="M1080 146h8v8h-8zM1008 154h8v8h-8zM1024 162h8v8h-8zM1048 170h24v8h-24z"/>
<path fill="#71fe5f" d="M1088 146h8v8h-8zM816 154h8v8h-8zM1000 154h8v8h-8zM816 162h8v8h-8zM816 170h8v8h-8zM1024 170h8v8h-8zM1064 178h8v8h-8zM800 186h8v8h-8z"/>
<path fill="#80ff53" d="M808 154h8v8h-8zM1080 154h8v8h-8zM800 178h8v8h-8z"/>
<path fill="#99fe42" d="M1032 154h8v8h-8zM1056 154h8v8h-8z"/>
<path fill="#8fff49" d="M1072 154h8v8h-8zM800 170h8v8h-8z"/>
<path fill="#4196ff" d="M376 338h16v8h-16zM368 346h16v8h-16zM368 354h8v8h-8zM552 378h16v8h-16zM552 386h16v8h-16zM552 394h16v8h-16zM552 402h8v8h-8zM552 410h8v8h-8zM544 418h16v8h-16zM544 426h8v8h-8zM544 434h8v8h-8zM544 442h8v8h-8z"/>
</g></g>
<path d="M104.0 122.0 L529.0 122.0 L508.2 134.2 L475.7 162.1 L480.3 163.2 L512.8 143.5 L533.7 134.2 L553.6 131.5 L564.8 138.0 L552.4 146.7 L559.8 169.6 L577.2 177.0 L595.1 174.3 L605.1 170.3 L611.2 160.2 L613.2 170.3 L621.2 174.3 L589.0 185.4 L566.9 194.4 L548.8 205.5 L538.7 203.5 L540.7 192.4 L560.9 182.4 L528.7 184.4 L529.7 186.4 L526.7 189.4 L506.5 196.5 L506.5 196.5 L495.0 200.8 L487.9 202.7 L480.2 211.1 L478.9 216.3 L481.5 222.7 L485.3 225.3 L487.9 222.7 L491.1 225.3 L490.5 229.2 L477.6 231.8 L467.3 234.4 L456.9 236.3 L444.0 237.6 L441.5 238.5 L438.9 240.8 L435.0 243.4 L437.6 245.3 L436.3 253.7 L431.1 260.2 L426.6 264.0 L418.2 256.9 L420.8 260.2 L426.0 265.3 L424.7 270.5 L420.8 276.9 L414.4 286.0 L413.1 278.2 L409.2 265.3 L407.3 261.5 L406.0 265.3 L407.9 274.4 L400.2 273.1 L399.5 275.0 L407.3 278.2 L409.2 286.0 L411.8 288.5 L414.4 296.3 L415.6 300.0 L415.9 307.3 L407.4 316.6 L395.0 320.5 L384.2 329.0 L374.9 332.9 L370.2 339.1 L357.9 346.8 L348.6 353.8 L343.2 360.7 L341.3 370.1 L344.3 382.1 L354.3 398.2 L358.4 412.3 L360.4 424.4 L358.4 436.5 L354.3 441.5 L348.3 442.5 L343.3 437.5 L334.2 428.4 L326.2 412.3 L324.1 406.3 L326.2 398.2 L320.1 386.2 L315.1 380.1 L308.0 378.1 L293.2 383.1 L279.1 375.1 L261.0 374.1 L240.9 376.1 L238.9 382.1 L242.9 390.2 L230.8 390.2 L220.7 391.2 L210.7 384.1 L190.6 382.1 L172.4 387.2 L160.4 394.2 L146.3 400.2 L138.2 410.3 L136.2 424.4 L139.2 430.4 L134.2 444.5 L132.2 460.6 L131.2 476.7 L138.2 496.8 L148.3 508.9 L154.3 519.0 L174.5 531.1 L196.6 525.0 L216.7 519.0 L224.8 508.9 L226.8 496.8 L244.9 489.8 L271.1 488.8 L273.1 496.8 L265.0 508.9 L263.0 517.0 L257.0 529.0 L252.9 544.1 L248.9 558.2 L252.9 562.2 L259.0 561.2 L281.1 560.2 L291.2 559.2 L313.3 566.2 L320.4 572.3 L317.3 580.3 L315.3 590.4 L315.3 606.5 L313.3 618.5 L315.3 628.6 L327.4 639.7 L333.4 646.7 L343.5 650.7 L352.1 646.7 L366.2 641.7 L378.2 644.7 L400.4 653.8 L416.5 644.7 L418.5 628.6 L426.5 622.6 L434.6 621.6 L440.6 618.5 L452.7 614.5 L464.8 606.5 L473.8 607.5 L474.8 612.5 L468.8 615.5 L464.8 616.5 L468.8 624.6 L468.8 632.6 L463.8 639.7 L467.8 648.7 L472.8 647.7 L476.8 638.7 L472.8 631.6 L471.8 623.6 L486.9 619.6 L488.9 610.5 L495.0 616.5 L505.0 618.5 L513.1 628.6 L539.2 628.6 L553.3 635.7 L563.4 628.6 L580.0 626.8 L594.1 626.8 L586.0 630.8 L588.0 636.8 L598.1 636.8 L606.2 644.9 L610.2 655.0 L618.2 656.0 L630.3 663.0 L638.4 671.1 L640.4 677.1 L646.4 681.1 L654.5 688.2 L670.6 690.2 L696.2 691.4 L708.9 695.6 L723.7 706.2 L725.8 711.5 L730.0 711.5 L740.6 740.0 L747.0 743.2 L748.0 751.7 L738.5 763.3 L740.6 766.5 L763.9 768.6 L764.9 781.3 L774.5 772.8 L795.6 779.2 L812.6 785.5 L818.9 792.9 L816.8 800.3 L831.6 796.1 L854.9 802.5 L876.0 802.5 L895.1 813.0 L912.0 828.9 L914.1 830.0 L914.1 830.0 L342.7 830.0 L342.7 828.9 L344.8 820.4 L355.4 807.7 L361.7 797.2 L349.0 792.9 L351.2 778.1 L357.5 763.3 L361.7 753.8 L376.6 744.3 L380.8 733.7 L389.2 729.5 L397.7 715.7 L393.5 704.1 L395.6 693.5 L393.5 678.7 L389.2 667.0 L395.6 655.4 L368.1 650.1 L355.4 660.7 L359.6 666.0 L357.5 670.2 L349.0 671.3 L342.7 663.9 L330.0 657.5 L313.3 654.8 L313.3 650.7 L303.3 639.7 L299.2 636.7 L295.2 641.7 L289.2 638.7 L285.1 630.6 L287.2 624.6 L281.1 616.5 L265.0 600.4 L261.0 594.4 L252.9 596.4 L236.8 592.4 L228.8 588.4 L214.7 585.3 L200.6 576.3 L184.5 561.2 L170.4 556.2 L158.4 560.2 L148.3 564.2 L130.2 558.2 L116.1 552.1 L104.0 550.1 L104.0 550.1 Z" fill="#e4e4e4" stroke="none"/>
<path d="M1261.8 385.4 L1253.0 392.5 L1240.5 401.3 L1228.1 404.0 L1219.2 410.2 L1213.9 420.8 L1205.0 426.2 L1199.7 435.0 L1198.8 442.0 L1190.8 453.1 L1182.0 465.5 L1180.2 476.1 L1171.3 483.2 L1170.4 494.8 L1178.4 501.0 L1182.0 513.4 L1183.8 532.9 L1178.4 550.7 L1174.9 559.6 L1164.2 575.5 L1171.3 580.8 L1174.9 589.7 L1174.9 602.0 L1174.9 607.7 L1182.0 616.6 L1196.2 623.7 L1201.5 632.6 L1210.4 637.9 L1219.2 648.6 L1221.0 659.2 L1228.1 669.9 L1242.3 677.0 L1253.0 685.8 L1261.8 692.0 L1262.0 692.0 L1262.0 385.4 Z" fill="#e4e4e4" stroke="none"/>
<path d="M644.6 122.0 L640.4 129.1 L636.2 134.7 L627.9 141.0 L633.4 143.8 L625.8 148.7 L627.9 152.8 L662.7 152.1 L678.0 154.9 L669.7 161.9 L678.0 162.6 L692.0 150.7 L696.1 154.2 L692.6 163.3 L701.7 166.1 L708.7 164.7 L712.8 154.2 L707.3 138.9 L698.9 141.0 L701.7 132.6 L689.2 127.8 L683.6 131.2 L673.8 127.1 L675.9 122.0 Z" fill="#e4e4e4" stroke="none"/>
<path d="M444.0 238.2 L455.6 235.6 L464.7 236.7 L465.3 238.9 L455.6 240.2 L445.3 240.2 Z" fill="#e4e4e4" stroke="none"/>
<path d="M560.9 124.0 L577.0 125.0 L595.1 131.1 L591.1 134.1 L577.0 132.1 L564.9 127.0 Z" fill="#e4e4e4" stroke="none"/>
<path d="M297.4 483.2 L308.4 475.8 L332.4 466.6 L354.5 468.4 L369.2 475.8 L382.1 474.9 L407.9 492.4 L418.9 494.2 L420.8 498.8 L437.3 503.4 L433.7 508.9 L390.4 509.9 L398.7 503.4 L382.1 497.9 L378.4 488.7 L360.0 485.0 L337.9 479.5 L334.2 473.9 L325.0 473.9 L310.3 483.2 L301.1 484.6 Z" fill="#e4e4e4" stroke="none"/>
<path d="M382.1 528.3 L393.1 526.4 L406.0 531.0 L409.7 535.6 L396.8 538.0 L385.8 532.9 Z" fill="#e4e4e4" stroke="none"/>
<path d="M445.6 509.9 L466.8 508.9 L481.5 509.9 L490.8 515.4 L500.0 520.9 L511.0 525.5 L505.5 531.0 L496.3 527.4 L487.1 528.3 L481.5 531.0 L472.3 538.4 L466.8 534.7 L463.1 531.0 L442.9 532.9 L432.7 529.2 L434.6 524.6 L455.8 526.4 L452.1 518.1 Z" fill="#e4e4e4" stroke="none"/>
<path d="M524.8 527.4 L544.2 527.4 L546.9 531.0 L542.3 534.7 L525.7 534.4 Z" fill="#e4e4e4" stroke="none"/>
<path d="M373.5 421.4 L388.5 418.4 L390.6 417.4 L400.6 424.4 L398.6 432.4 L395.6 431.4 L394.6 423.4 L389.6 424.4 L374.5 425.4 Z" fill="#e4e4e4" stroke="none"/>
<path d="M384.5 441.5 L388.5 442.5 L392.6 452.6 L392.6 460.6 L388.5 459.6 L384.5 450.6 L381.5 448.5 Z" fill="#e4e4e4" stroke="none"/>
<path d="M596.1 625.8 L606.2 624.8 L607.2 634.8 L596.1 634.8 L594.1 632.8 Z" fill="#e4e4e4" stroke="none"/>
<path d="M465.4 630.0 L463.3 638.5 L469.7 649.0 L473.9 646.9 L476.0 638.5 L470.7 630.0 Z" fill="#fff"/>
<path d="M561.7 164.7 L566.6 160.6 L571.0 165.9 L592.7 167.8 L587.1 173.3 L577.2 174.6 L564.8 169.6 Z" fill="none" stroke="#000" stroke-width="2.3"/>
<path fill="#4391fe" d="M217.6 156.8 L228.5 149.8 L244.0 143.6 L250.2 136.7 L250.2 124.3 L256.3 124.3 L257.1 136.7 L278.0 137.4 L281.9 145.2 L295.0 146.7 L294.6 149.1 L297.7 155.2 L304.7 159.9 L304.7 161.4 L299.3 164.5 L296.2 167.6 L290.0 169.2 L285.8 167.6 L270.3 166.1 L262.5 163.0 L257.9 158.3 L245.5 159.9 L239.3 166.1 L234.7 164.5 L228.5 167.6 L223.8 167.6 L219.2 164.5 Z"/>
<path fill="#4391fe" d="M268.7 175.4 L282.7 172.3 L300.0 172.3 L300.0 180.0 L292.0 184.7 L288.9 190.9 L281.1 192.4 L281.1 226.5 L270.3 226.5 L264.1 231.1 L257.9 231.1 L257.9 215.6 L261.0 204.8 L264.1 193.9 L265.6 183.1 Z"/>
<path fill="#4391fe" d="M166.6 198.6 L205.3 198.6 L205.3 214.1 L211.5 215.6 L223.8 226.5 L228.5 231.1 L220.7 235.0 L211.5 235.7 L196.0 235.7 L189.8 232.6 L183.6 229.6 L180.5 223.4 L175.9 214.1 L171.2 206.3 L166.6 204.8 Z"/>
<path fill="#4391fe" d="M230.8 226.5 L233.9 226.5 L233.9 235.7 L230.8 235.7 Z"/>
<path fill="#4391fe" d="M308.6 172.3 L345.7 172.3 L345.7 175.4 L358.1 176.9 L358.9 189.3 L352.7 193.9 L347.3 203.2 L341.1 206.3 L333.3 210.2 L328.7 204.8 L318.6 202.5 L308.6 199.4 L317.1 196.3 L317.9 186.2 L313.2 186.2 L308.6 180.0 Z"/>
<path fill="#4391fe" d="M322.5 228.0 L333.3 229.6 L345.7 228.8 L355.0 223.4 L370.5 223.4 L376.7 214.1 L396.8 207.9 L409.2 201.7 L410.7 198.6 L379.8 198.6 L364.3 207.9 L350.4 214.1 L334.9 217.2 L321.7 223.4 Z"/>
<g clip-path="url(#lc)"><use href="#fld" mask="url(#lm)"/></g>
<path d="M361.3 122 L361.3 830 M618.7 122 L618.7 830 M876.0 122 L876.0 830 M1133.3 122 L1133.3 830 M104 765.6 L1262 765.6 M104 636.9 L1262 636.9 M104 508.2 L1262 508.2 M104 379.5 L1262 379.5 M104 250.7 L1262 250.7" stroke="#8a8a8a" stroke-opacity="0.65" stroke-width="1.7" stroke-dasharray="1.9 2.5" fill="none"/>
<g fill="none" stroke="#666" stroke-width="1.35" stroke-linejoin="round">
<path d="M103.9 173.8 L147.2 173.8"/>
<path d="M139.5 135.1 L141.8 146.0 L144.9 153.7 L147.2 169.2 L144.1 177.7 L149.5 181.6 L149.5 204.8"/>
<path d="M103.9 211.7 L123.2 211.7 L131.0 214.8 L138.7 214.1 L146.4 217.2"/>
<path d="M147.2 205.6 L216.1 205.6"/>
<path d="M214.6 200.1 L196.0 189.3 L196.7 178.5 L194.4 176.9 L202.2 173.8 L202.9 164.5 L216.1 159.9 L231.6 156.8 L238.5 147.5"/>
<path d="M226.9 166.1 L254.8 173.8 L264.1 184.7 L270.3 180.8 L279.6 183.1"/>
<path d="M216.1 205.6 L219.2 214.1 L230.0 223.4 L226.9 229.6 L219.2 232.6 L219.2 238.8 L213.0 245.0 L214.6 254.3 L223.8 265.0"/>
<path d="M158.8 242.7 L211.5 242.7"/>
<path d="M146.4 217.2 L152.6 223.4 L158.0 241.9 L161.9 249.7 L171.2 265.0"/>
<path d="M103.9 250.4 L163.5 250.4"/>
<path d="M223.8 217.9 L269.5 217.9"/>
<path d="M264.1 228.0 L270.3 217.2 L269.5 201.7 L274.9 186.2 L280.3 183.1"/>
<path d="M264.1 228.0 L264.1 265.0"/>
<path d="M264.1 228.0 L299.7 228.0"/>
<path d="M165.8 122.0 L166.6 129.7"/>
<path d="M366.9 122.0 L366.9 155.2 L373.6 166.1 L389.1 171.5 L401.5 175.4 L413.8 180.0 L429.3 178.5 L433.2 183.1"/>
<path d="M290.0 228.8 L319.4 228.0"/>
<path d="M299.3 228.8 L299.3 265.0"/>
<path d="M354.2 220.3 L355.0 254.3 L418.5 253.5"/>
<path d="M364.3 217.9 L364.3 224.1 L421.6 224.9 L426.2 232.6 L438.6 237.3"/>
<path d="M446.3 187.8 L444.8 234.2"/>
<path d="M469.6 184.7 L457.2 214.1"/>
<path d="M444.8 215.6 L478.9 214.8"/>
<path d="M444.8 224.1 L466.5 224.9 L466.5 232.6"/>
<path d="M475.8 183.1 L479.6 212.5"/>
<path d="M438.6 237.3 L423.1 238.8 L426.2 249.7 L421.6 250.4"/>
<path d="M353.5 243.5 L348.8 254.3 L339.5 265.0"/>
<path d="M354.8 240.0 L354.8 253.9 L414.4 253.9"/>
<path d="M367.2 260.1 L376.4 255.5 L384.2 257.8 L391.9 260.1 L399.7 264.8"/>
<path d="M350.1 243.1 L345.5 255.5 L339.3 264.8 L330.0 271.0"/>
<path d="M381.1 257.0 L373.3 260.1 L365.6 269.4 L354.8 284.9 L345.5 286.4 L337.7 284.9 L330.0 280.2"/>
<path d="M330.0 295.0 L415.1 294.2"/>
<path d="M330.0 312.0 L350.1 312.8 L351.7 316.6 L364.1 318.2 L379.5 329.8"/>
<path d="M330.0 329.8 L336.2 336.0 L348.6 353.0"/>
<path d="M415.9 253.9 L416.7 270.2 L424.4 270.2"/>
<path d="M500.5 154.2 L512.6 150.2 L530.7 148.2"/>
<path d="M471.3 183.4 L479.4 212.6"/>
<path d="M469.3 184.4 L457.2 213.6"/>
<path d="M447.2 187.4 L445.2 214.6"/>
<path d="M446.2 215.6 L479.4 214.6"/>
<path d="M445.2 224.6 L472.3 224.6"/>
<path d="M466.3 224.6 L467.3 231.7"/>
<path d="M445.2 224.6 L444.1 236.7"/>
<path d="M420.0 178.3 L432.1 178.3 L433.1 183.4"/>
<path d="M104.6 250.8 L163.2 250.8 L169.7 253.9 L168.7 256.7 L173.4 262.3 L173.4 294.8 L175.2 310.6 L174.3 332.0 L179.9 333.8"/>
<path d="M104.6 288.7 L172.4 288.7"/>
<path d="M104.6 320.8 L113.0 323.6 L127.9 326.4 L140.9 330.1 L153.9 329.2 L165.0 328.8 L174.3 332.0"/>
<path d="M173.4 295.4 L231.9 295.4 L228.2 301.3 L235.6 301.3"/>
<path d="M157.6 241.9 L211.5 242.8 L214.2 251.1 L220.7 260.4 L228.2 264.1 L228.2 273.4 L237.5 280.9 L241.2 288.3 L243.0 292.0 L237.5 295.7 L231.9 310.6 L226.3 316.2 L218.9 327.3 L217.0 332.9 L218.9 347.7 L211.5 362.6 L211.5 366.3 L235.6 366.3 L237.5 373.7 L241.2 377.5"/>
<path d="M264.4 240.0 L263.5 264.1 L257.9 277.2 L257.9 279.0"/>
<path d="M241.2 288.3 L252.3 286.4 L257.9 278.1 L267.2 278.1 L278.3 275.3 L285.8 271.6 L298.8 264.1 L313.6 266.9 L326.6 269.7 L340.0 260.4"/>
<path d="M299.7 240.0 L299.7 264.1"/>
<path d="M243.0 294.8 L257.9 293.9 L315.5 294.8 L340.0 293.9"/>
<path d="M313.6 293.9 L326.6 286.4 L340.0 277.2"/>
<path d="M230.0 315.2 L340.0 312.8"/>
<path d="M306.2 312.4 L322.9 306.9 L340.0 295.7"/>
<path d="M317.3 318.0 L339.6 340.3"/>
<path d="M180.8 340.3 L217.0 340.3"/>
<path d="M179.9 333.8 L181.7 353.3 L186.4 366.3 L184.5 379.3"/>
<path d="M257.0 315.2 L252.3 351.5 L253.3 373.7"/>
<path d="M289.5 315.2 L296.9 351.5 L296.0 368.2 L340.0 371.9"/>
<path d="M263.5 366.3 L296.0 367.2"/>
<path d="M300.0 369.1 L333.2 372.1 L341.3 369.1"/>
<path d="M575.5 736.9 L583.9 740.0 L587.1 757.0 L586.0 776.0 L596.6 782.4 L603.0 771.8 L615.7 776.0 L617.8 762.3 L632.6 762.3 L634.7 773.9 L640.0 778.1"/>
<path d="M685.6 734.7 L685.6 742.2 L700.4 747.4 L706.8 757.0 L713.1 776.0 L722.6 780.2"/>
<path d="M631.6 749.6 L632.7 765.4 L636.9 776.0 L649.6 786.6 L664.4 795.1 L649.6 828.9"/>
<path d="M620.0 762.3 L631.6 762.3"/>
<path d="M797.7 780.2 L793.5 797.2 L782.9 816.2 L768.1 828.9"/>
<path d="M852.8 802.5 L842.2 809.9 L838.0 828.9"/>
<path d="M859.1 802.5 L861.2 828.9"/>
</g>
<g fill="none" stroke="#000" stroke-width="2.3" stroke-linejoin="round">
<path d="M104.0 122.0 L529.0 122.0 L508.2 134.2 L475.7 162.1 L480.3 163.2 L512.8 143.5 L533.7 134.2 L553.6 131.5 L564.8 138.0 L552.4 146.7 L559.8 169.6 L577.2 177.0 L595.1 174.3 L605.1 170.3 L611.2 160.2 L613.2 170.3 L621.2 174.3 L589.0 185.4 L566.9 194.4 L548.8 205.5 L538.7 203.5 L540.7 192.4 L560.9 182.4 L528.7 184.4 L529.7 186.4 L526.7 189.4 L506.5 196.5 L506.5 196.5 L495.0 200.8 L487.9 202.7 L480.2 211.1 L478.9 216.3 L481.5 222.7 L485.3 225.3 L487.9 222.7 L491.1 225.3 L490.5 229.2 L477.6 231.8 L467.3 234.4 L456.9 236.3 L444.0 237.6 L441.5 238.5 L438.9 240.8 L435.0 243.4 L437.6 245.3 L436.3 253.7 L431.1 260.2 L426.6 264.0 L418.2 256.9 L420.8 260.2 L426.0 265.3 L424.7 270.5 L420.8 276.9 L414.4 286.0 L413.1 278.2 L409.2 265.3 L407.3 261.5 L406.0 265.3 L407.9 274.4 L400.2 273.1 L399.5 275.0 L407.3 278.2 L409.2 286.0 L411.8 288.5 L414.4 296.3 L415.6 300.0 L415.9 307.3 L407.4 316.6 L395.0 320.5 L384.2 329.0 L374.9 332.9 L370.2 339.1 L357.9 346.8 L348.6 353.8 L343.2 360.7 L341.3 370.1 L344.3 382.1 L354.3 398.2 L358.4 412.3 L360.4 424.4 L358.4 436.5 L354.3 441.5 L348.3 442.5 L343.3 437.5 L334.2 428.4 L326.2 412.3 L324.1 406.3 L326.2 398.2 L320.1 386.2 L315.1 380.1 L308.0 378.1 L293.2 383.1 L279.1 375.1 L261.0 374.1 L240.9 376.1 L238.9 382.1 L242.9 390.2 L230.8 390.2 L220.7 391.2 L210.7 384.1 L190.6 382.1 L172.4 387.2 L160.4 394.2 L146.3 400.2 L138.2 410.3 L136.2 424.4 L139.2 430.4 L134.2 444.5 L132.2 460.6 L131.2 476.7 L138.2 496.8 L148.3 508.9 L154.3 519.0 L174.5 531.1 L196.6 525.0 L216.7 519.0 L224.8 508.9 L226.8 496.8 L244.9 489.8 L271.1 488.8 L273.1 496.8 L265.0 508.9 L263.0 517.0 L257.0 529.0 L252.9 544.1 L248.9 558.2 L252.9 562.2 L259.0 561.2 L281.1 560.2 L291.2 559.2 L313.3 566.2 L320.4 572.3 L317.3 580.3 L315.3 590.4 L315.3 606.5 L313.3 618.5 L315.3 628.6 L327.4 639.7 L333.4 646.7 L343.5 650.7 L352.1 646.7 L366.2 641.7 L378.2 644.7 L400.4 653.8 L416.5 644.7 L418.5 628.6 L426.5 622.6 L434.6 621.6 L440.6 618.5 L452.7 614.5 L464.8 606.5 L473.8 607.5 L474.8 612.5 L468.8 615.5 L464.8 616.5 L468.8 624.6 L468.8 632.6 L463.8 639.7 L467.8 648.7 L472.8 647.7 L476.8 638.7 L472.8 631.6 L471.8 623.6 L486.9 619.6 L488.9 610.5 L495.0 616.5 L505.0 618.5 L513.1 628.6 L539.2 628.6 L553.3 635.7 L563.4 628.6 L580.0 626.8 L594.1 626.8 L586.0 630.8 L588.0 636.8 L598.1 636.8 L606.2 644.9 L610.2 655.0 L618.2 656.0 L630.3 663.0 L638.4 671.1 L640.4 677.1 L646.4 681.1 L654.5 688.2 L670.6 690.2 L696.2 691.4 L708.9 695.6 L723.7 706.2 L725.8 711.5 L730.0 711.5 L740.6 740.0 L747.0 743.2 L748.0 751.7 L738.5 763.3 L740.6 766.5 L763.9 768.6 L764.9 781.3 L774.5 772.8 L795.6 779.2 L812.6 785.5 L818.9 792.9 L816.8 800.3 L831.6 796.1 L854.9 802.5 L876.0 802.5 L895.1 813.0 L912.0 828.9 L914.1 830.0 L914.1 830.0 L342.7 830.0 L342.7 828.9 L344.8 820.4 L355.4 807.7 L361.7 797.2 L349.0 792.9 L351.2 778.1 L357.5 763.3 L361.7 753.8 L376.6 744.3 L380.8 733.7 L389.2 729.5 L397.7 715.7 L393.5 704.1 L395.6 693.5 L393.5 678.7 L389.2 667.0 L395.6 655.4 L368.1 650.1 L355.4 660.7 L359.6 666.0 L357.5 670.2 L349.0 671.3 L342.7 663.9 L330.0 657.5 L313.3 654.8 L313.3 650.7 L303.3 639.7 L299.2 636.7 L295.2 641.7 L289.2 638.7 L285.1 630.6 L287.2 624.6 L281.1 616.5 L265.0 600.4 L261.0 594.4 L252.9 596.4 L236.8 592.4 L228.8 588.4 L214.7 585.3 L200.6 576.3 L184.5 561.2 L170.4 556.2 L158.4 560.2 L148.3 564.2 L130.2 558.2 L116.1 552.1 L104.0 550.1 L104.0 550.1 Z"/>
<path d="M1261.8 385.4 L1253.0 392.5 L1240.5 401.3 L1228.1 404.0 L1219.2 410.2 L1213.9 420.8 L1205.0 426.2 L1199.7 435.0 L1198.8 442.0 L1190.8 453.1 L1182.0 465.5 L1180.2 476.1 L1171.3 483.2 L1170.4 494.8 L1178.4 501.0 L1182.0 513.4 L1183.8 532.9 L1178.4 550.7 L1174.9 559.6 L1164.2 575.5 L1171.3 580.8 L1174.9 589.7 L1174.9 602.0 L1174.9 607.7 L1182.0 616.6 L1196.2 623.7 L1201.5 632.6 L1210.4 637.9 L1219.2 648.6 L1221.0 659.2 L1228.1 669.9 L1242.3 677.0 L1253.0 685.8 L1261.8 692.0 L1262.0 692.0 L1262.0 385.4 Z"/>
<path d="M644.6 122.0 L640.4 129.1 L636.2 134.7 L627.9 141.0 L633.4 143.8 L625.8 148.7 L627.9 152.8 L662.7 152.1 L678.0 154.9 L669.7 161.9 L678.0 162.6 L692.0 150.7 L696.1 154.2 L692.6 163.3 L701.7 166.1 L708.7 164.7 L712.8 154.2 L707.3 138.9 L698.9 141.0 L701.7 132.6 L689.2 127.8 L683.6 131.2 L673.8 127.1 L675.9 122.0 Z"/>
<path d="M444.0 238.2 L455.6 235.6 L464.7 236.7 L465.3 238.9 L455.6 240.2 L445.3 240.2 Z"/>
<path d="M560.9 124.0 L577.0 125.0 L595.1 131.1 L591.1 134.1 L577.0 132.1 L564.9 127.0 Z"/>
<path d="M297.4 483.2 L308.4 475.8 L332.4 466.6 L354.5 468.4 L369.2 475.8 L382.1 474.9 L407.9 492.4 L418.9 494.2 L420.8 498.8 L437.3 503.4 L433.7 508.9 L390.4 509.9 L398.7 503.4 L382.1 497.9 L378.4 488.7 L360.0 485.0 L337.9 479.5 L334.2 473.9 L325.0 473.9 L310.3 483.2 L301.1 484.6 Z"/>
<path d="M382.1 528.3 L393.1 526.4 L406.0 531.0 L409.7 535.6 L396.8 538.0 L385.8 532.9 Z"/>
<path d="M445.6 509.9 L466.8 508.9 L481.5 509.9 L490.8 515.4 L500.0 520.9 L511.0 525.5 L505.5 531.0 L496.3 527.4 L487.1 528.3 L481.5 531.0 L472.3 538.4 L466.8 534.7 L463.1 531.0 L442.9 532.9 L432.7 529.2 L434.6 524.6 L455.8 526.4 L452.1 518.1 Z"/>
<path d="M524.8 527.4 L544.2 527.4 L546.9 531.0 L542.3 534.7 L525.7 534.4 Z"/>
<path d="M373.5 421.4 L388.5 418.4 L390.6 417.4 L400.6 424.4 L398.6 432.4 L395.6 431.4 L394.6 423.4 L389.6 424.4 L374.5 425.4 Z"/>
<path d="M384.5 441.5 L388.5 442.5 L392.6 452.6 L392.6 460.6 L388.5 459.6 L384.5 450.6 L381.5 448.5 Z"/>
<path d="M596.1 625.8 L606.2 624.8 L607.2 634.8 L596.1 634.8 L594.1 632.8 Z"/>
<path d="M465.4 630.0 L463.3 638.5 L469.7 649.0 L473.9 646.9 L476.0 638.5 L470.7 630.0 Z"/>
<path d="M100.0 134.8 L165.8 134.8 L166.9 129.7 L170.4 129.7 L171.5 134.3 L174.3 138.2 L186.7 140.5 L199.1 142.9 L211.5 146.0 L220.7 143.6 L231.6 146.7 L240.9 147.5 L253.3 143.6 L299.7 163.0 L299.3 163.0 L307.0 166.9 L314.8 173.0 L328.7 182.3 L334.1 204.8 L321.0 223.4 L327.9 228.8 L355.0 220.3 L373.6 214.1 L374.4 206.3 L382.9 204.0 L403.0 203.2 L427.8 186.2 L469.6 185.4" stroke-width="1.7" stroke="#1a1a1a"/>
<path d="M440.0 186.0 L471.5 186.0 L471.5 182.6 L481.1 180.3 L486.8 173.6 L489.7 165.0 L499.2 154.5 L503.0 158.3 L512.6 155.9 L518.3 159.7 L517.8 177.4 L526.9 184.1 L528.8 188.9" stroke-width="1.7" stroke="#1a1a1a"/>
<path d="M242.7 535.0 L253.6 527.4" stroke-width="1.7" stroke="#1a1a1a"/>
<path d="M242.7 535.0 L242.7 561.0 L251.4 563.2" stroke-width="1.7" stroke="#1a1a1a"/>
<path d="M104.0 406.3 L108.0 410.3 L114.1 422.4 L120.1 426.4 L138.2 432.4" stroke-width="1.7" stroke="#1a1a1a"/>
<path d="M469.6 508.9 L466.8 523.7 L465.0 529.2 L466.8 534.7" stroke-width="1.7" stroke="#1a1a1a"/>
<path d="M620.2 659.0 L611.2 667.0 L612.2 673.1 L604.1 679.1 L602.1 689.2 L606.2 695.0" stroke-width="1.7" stroke="#1a1a1a"/>
<path d="M214.7 543.1 L219.7 536.0 L242.9 536.0 L242.9 560.2 L252.9 563.2" stroke-width="1.7" stroke="#1a1a1a"/>
<path d="M214.7 543.1 L225.8 555.2 L209.7 559.2 L203.6 570.2 L204.6 576.3 L214.7 585.3" stroke-width="1.7" stroke="#1a1a1a"/>
<path d="M252.9 563.2 L242.9 572.3 L240.9 578.3 L232.8 586.3" stroke-width="1.7" stroke="#1a1a1a"/>
<path d="M238.9 580.3 L257.0 586.3 L261.0 594.4" stroke-width="1.7" stroke="#1a1a1a"/>
<path d="M265.0 598.4 L273.1 590.4 L285.1 586.3 L297.2 574.3 L313.3 572.3 L320.4 572.3" stroke-width="1.7" stroke="#1a1a1a"/>
<path d="M285.1 623.6 L301.2 623.6 L311.3 626.6" stroke-width="1.7" stroke="#1a1a1a"/>
<path d="M323.4 643.7 L323.4 658.8" stroke-width="1.7" stroke="#1a1a1a"/>
<path d="M375.5 745.3 L391.4 757.0 L408.3 760.1 L422.0 766.5 L421.0 778.1 L408.3 792.9 L389.2 803.5 L380.8 814.1 L372.3 828.9" stroke-width="1.7" stroke="#1a1a1a"/>
<path d="M355.4 816.2 L366.0 822.6 L370.2 828.9" stroke-width="1.7" stroke="#1a1a1a"/>
<path d="M422.0 766.5 L433.7 776.0 L450.6 795.1 L467.5 792.9 L488.7 799.3 L480.2 814.1 L490.8 820.4 L459.1 828.9" stroke-width="1.7" stroke="#1a1a1a"/>
<path d="M490.8 820.4 L497.2 776.0 L489.8 767.5 L490.8 757.0 L499.3 757.0 L499.3 750.6 L491.9 750.6 L491.9 743.2 L518.3 742.2 L521.5 739.0 L528.9 750.6 L537.4 755.9 L548.0 754.8 L550.1 751.7 L564.9 746.4 L575.5 736.9" stroke-width="1.7" stroke="#1a1a1a"/>
<path d="M448.5 646.9 L457.0 657.5 L459.1 670.2 L465.4 675.5 L486.6 674.4 L499.3 687.1 L522.6 686.1 L518.3 699.8 L521.5 718.9 L518.3 728.4 L526.8 740.0 L528.9 750.6" stroke-width="1.7" stroke="#1a1a1a"/>
<path d="M575.5 736.9 L562.8 733.7 L560.6 714.6 L556.4 712.5 L579.7 715.7 L609.3 704.1 L611.4 697.7 L600.9 689.2 L603.0 679.7 L613.5 675.5 L611.4 667.0 L617.8 658.6" stroke-width="1.7" stroke="#1a1a1a"/>
<path d="M611.4 697.7 L617.8 699.8 L624.1 714.6 L619.9 731.6 L626.2 746.4 L632.6 748.5 L640.0 746.4" stroke-width="1.7" stroke="#1a1a1a"/>
<path d="M654.9 688.2 L652.8 699.8 L645.4 704.1 L643.3 712.5 L652.8 723.1 L664.4 740.0" stroke-width="1.7" stroke="#1a1a1a"/>
<path d="M696.2 691.4 L689.8 701.9 L689.8 708.3 L695.1 719.9 L688.8 734.7" stroke-width="1.7" stroke="#1a1a1a"/>
<path d="M725.8 711.5 L715.2 735.8 L702.5 739.0 L699.4 734.7 L691.9 735.8 L685.6 733.7 L677.1 732.6 L669.7 733.7 L670.8 741.1 L653.9 740.0 L638.0 747.4 L632.7 749.6 L624.2 742.2 L620.0 733.7" stroke-width="1.7" stroke="#1a1a1a"/>
<path d="M1171.3 490.3 L1224.6 490.3 L1221.0 472.6 L1237.0 464.6 L1235.2 431.8 L1261.8 431.8" stroke-width="1.7" stroke="#1a1a1a"/>
<path d="M1199.7 488.6 L1210.4 461.9 L1228.1 447.7 L1235.2 431.8" stroke-width="1.7" stroke="#1a1a1a"/>
<path d="M1178.4 554.2 L1187.3 552.5 L1201.5 552.5 L1217.5 561.3 L1233.4 575.5 L1240.5 566.7 L1253.0 570.2 L1261.8 566.7" stroke-width="1.7" stroke="#1a1a1a"/>
<path d="M1174.9 589.7 L1194.4 586.2 L1210.4 589.7 L1208.6 593.3 L1194.4 590.6 L1174.9 595.0" stroke-width="1.7" stroke="#1a1a1a"/>
<path d="M1233.4 575.5 L1235.2 589.7 L1242.3 602.0" stroke-width="1.7" stroke="#1a1a1a"/>
<path d="M1176.7 605.1 L1199.7 602.4 L1228.1 605.1 L1242.3 606.9 L1253.0 609.5 L1261.8 612.2" stroke-width="1.7" stroke="#1a1a1a"/>
<path d="M1196.2 623.7 L1199.7 618.4 L1212.1 614.8 L1213.9 605.1" stroke-width="1.7" stroke="#1a1a1a"/>
<path d="M1221.0 648.6 L1231.7 637.0 L1247.6 636.1 L1254.7 657.4 L1261.8 656.6" stroke-width="1.7" stroke="#1a1a1a"/>
<path d="M1242.3 677.0 L1247.6 666.3 L1255.6 658.3" stroke-width="1.7" stroke="#1a1a1a"/>
<path d="M1235.2 590.0 L1242.3 598.9 L1242.3 606.9" stroke-width="1.7" stroke="#1a1a1a"/>
</g>
</g>
<rect x="104" y="122" width="1158" height="708" fill="none" stroke="#000" stroke-width="2"/>
<text x="88" y="258.9" font-family="Liberation Sans" font-size="29" text-anchor="end" textLength="68" lengthAdjust="spacingAndGlyphs" fill="#000">40°N</text>
<text x="88" y="387.7" font-family="Liberation Sans" font-size="29" text-anchor="end" textLength="68" lengthAdjust="spacingAndGlyphs" fill="#000">30°N</text>
<text x="88" y="516.4" font-family="Liberation Sans" font-size="29" text-anchor="end" textLength="68" lengthAdjust="spacingAndGlyphs" fill="#000">20°N</text>
<text x="88" y="645.1" font-family="Liberation Sans" font-size="29" text-anchor="end" textLength="68" lengthAdjust="spacingAndGlyphs" fill="#000">10°N</text>
<text x="88" y="773.8" font-family="Liberation Sans" font-size="29" text-anchor="end" fill="#000">0°</text>
<text x="361.3" y="866.5" font-family="Liberation Sans" font-size="29" text-anchor="middle" textLength="76" lengthAdjust="spacingAndGlyphs" fill="#000">80°W</text>
<text x="618.7" y="866.5" font-family="Liberation Sans" font-size="29" text-anchor="middle" textLength="76" lengthAdjust="spacingAndGlyphs" fill="#000">60°W</text>
<text x="876.0" y="866.5" font-family="Liberation Sans" font-size="29" text-anchor="middle" textLength="76" lengthAdjust="spacingAndGlyphs" fill="#000">40°W</text>
<text x="1133.3" y="866.5" font-family="Liberation Sans" font-size="29" text-anchor="middle" textLength="76" lengthAdjust="spacingAndGlyphs" fill="#000">20°W</text>
<text x="400" y="904.7" font-family="Liberation Sans" font-size="25" textLength="568" lengthAdjust="spacingAndGlyphs" fill="#333">10-Day Max: 50 kt (Day 9) @ 46.5°N, 46.0°W</text>
<path d="M1290 931.5 L1290 62.5 L1312.5 18.5 L1335 62.5 L1335 931.5 Z" fill="url(#cbg)"/>
<path d="M1290 62.5 L1312.5 18.5 L1335 62.5 Z" fill="#7a0403"/>
<path d="M1290 931.5 L1290 62.5 L1312.5 18.5 L1335 62.5 L1335 931.5 Z" fill="none" stroke="#000" stroke-width="1.7" stroke-linejoin="miter"/>
<path d="M1335 931.5 L1345 931.5" stroke="#000" stroke-width="1.7"/>
<text x="1356.5" y="942.0" font-family="Liberation Sans" font-size="29" textLength="33" lengthAdjust="spacingAndGlyphs" fill="#000">20</text>
<path d="M1335 711.0 L1345 711.0" stroke="#000" stroke-width="1.7"/>
<text x="1356.5" y="721.5" font-family="Liberation Sans" font-size="29" textLength="33" lengthAdjust="spacingAndGlyphs" fill="#000">40</text>
<path d="M1335 532.9 L1345 532.9" stroke="#000" stroke-width="1.7"/>
<text x="1356.5" y="543.4" font-family="Liberation Sans" font-size="29" textLength="33" lengthAdjust="spacingAndGlyphs" fill="#000">60</text>
<path d="M1335 368.7 L1345 368.7" stroke="#000" stroke-width="1.7"/>
<text x="1356.5" y="379.2" font-family="Liberation Sans" font-size="29" textLength="33" lengthAdjust="spacingAndGlyphs" fill="#000">80</text>
<path d="M1335 212.9 L1345 212.9" stroke="#000" stroke-width="1.7"/>
<text x="1356.5" y="223.4" font-family="Liberation Sans" font-size="29" textLength="50" lengthAdjust="spacingAndGlyphs" fill="#000">100</text>
<path d="M1335 62.5 L1345 62.5" stroke="#000" stroke-width="1.7"/>
<text x="1356.5" y="73.0" font-family="Liberation Sans" font-size="29" textLength="50" lengthAdjust="spacingAndGlyphs" fill="#000">120</text>
<text transform="translate(1439.7 498) rotate(-90)" font-family="Liberation Sans" font-size="29" text-anchor="middle" textLength="340" lengthAdjust="spacingAndGlyphs" fill="#000">10m Wind Speed (knots)</text>
</svg></body></html>
